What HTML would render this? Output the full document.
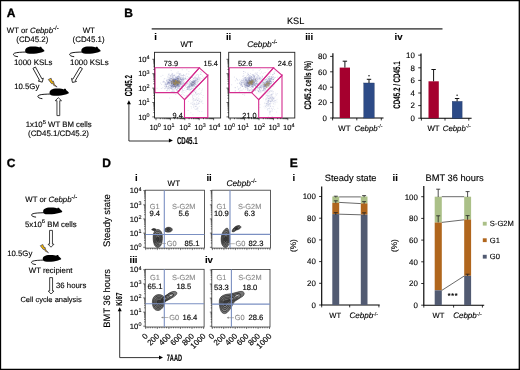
<!DOCTYPE html><html><head><meta charset="utf-8"><style>html,body{margin:0;padding:0;background:#fff;}svg{display:block;will-change:transform;text-rendering:geometricPrecision;font-family:"Liberation Sans",sans-serif;}text{stroke:#000;stroke-width:0.12px;}</style></head><body>
<svg width="520" height="370" viewBox="0 0 520 370">
<rect x="0" y="0" width="520" height="370" fill="#fff"/>
<text x="6.8" y="16.6" font-size="12.0" text-anchor="start" fill="#000" style="stroke:#000;stroke-width:0.35px" font-weight="bold" >A</text>
<text x="6.8" y="32.6" font-size="7.8">WT or <tspan font-style="italic">Cebpb</tspan><tspan dy="-2.9" font-size="6">-/-</tspan></text>
<text x="32.3" y="41.7" font-size="7.9" text-anchor="middle" fill="#000" style="stroke:#000;stroke-width:0.12px" >(CD45.2)</text>
<text x="88.8" y="32.6" font-size="7.8" text-anchor="middle" fill="#000" style="stroke:#000;stroke-width:0.12px" >WT</text>
<text x="88.6" y="41.7" font-size="7.9" text-anchor="middle" fill="#000" style="stroke:#000;stroke-width:0.12px" >(CD45.1)</text>
<g transform="translate(25,46.6) scale(1.000,1.000)"><path d="M0.2 4.6 C-0.2 1.8 2.5 0.1 7.5 0 C11 -0.1 13 0.3 14.3 0.9 L14.8 0.2 C15.8 -0.2 16.8 0.3 16.7 1.3 C17.8 2.2 19.4 3.3 19.5 4.4 C19 5.1 17.6 5.5 16.2 5.8 C13 6.9 9 7.2 4.5 7.1 C1.5 7 0.4 6.2 0.2 4.6 Z" fill="#000"/><path d="M1 5.4 C-3 5.6 -8 5.6 -10.5 6.6 C-12.6 7.6 -11.6 9.7 -7 10.1" fill="none" stroke="#000" stroke-width="0.9"/></g>
<g transform="translate(81.2,46.6) scale(1.000,1.000)"><path d="M0.2 4.6 C-0.2 1.8 2.5 0.1 7.5 0 C11 -0.1 13 0.3 14.3 0.9 L14.8 0.2 C15.8 -0.2 16.8 0.3 16.7 1.3 C17.8 2.2 19.4 3.3 19.5 4.4 C19 5.1 17.6 5.5 16.2 5.8 C13 6.9 9 7.2 4.5 7.1 C1.5 7 0.4 6.2 0.2 4.6 Z" fill="#000"/><path d="M1 5.4 C-3 5.6 -8 5.6 -10.5 6.6 C-12.6 7.6 -11.6 9.7 -7 10.1" fill="none" stroke="#000" stroke-width="0.9"/></g>
<text x="33.2" y="65.3" font-size="7.9" text-anchor="middle" fill="#000" style="stroke:#000;stroke-width:0.12px" >1000 KSLs</text>
<text x="89.4" y="64.6" font-size="7.9" text-anchor="middle" fill="#000" style="stroke:#000;stroke-width:0.12px" >1000 KSLs</text>
<path transform="translate(34.2,67.7) rotate(-28.89)" d="M-1.4 0 L1.4 0 L1.4 13.56 L2.9 13.56 L0 16.56 L-2.9 13.56 L-1.4 13.56 Z" fill="#fff" stroke="#222" stroke-width="0.85" stroke-linejoin="miter"/>
<path transform="translate(81.2,67.9) rotate(30.79)" d="M-1.4 0 L1.4 0 L1.4 14.00 L2.9 14.00 L0 17.00 L-2.9 14.00 L-1.4 14.00 Z" fill="#fff" stroke="#222" stroke-width="0.85" stroke-linejoin="miter"/>
<text x="14.2" y="89.2" font-size="7.8" text-anchor="start" fill="#000" style="stroke:#000;stroke-width:0.12px" >10.5Gy</text>
<g transform="translate(48.3,78.2) rotate(0) scale(1.08)"><path d="M0 1.2 L2.6 0 L3.6 3 L4.6 2.6 L5.6 5.6 L8.2 8.2 L4.9 6.6 L4.1 4.6 L3 5.1 Z" fill="#F4B800" stroke="#2a2a50" stroke-width="0.6" stroke-linejoin="round"/></g>
<g transform="translate(49.4,88.6) scale(1.000,1.000)"><path d="M0.2 4.6 C-0.2 1.8 2.5 0.1 7.5 0 C11 -0.1 13 0.3 14.3 0.9 L14.8 0.2 C15.8 -0.2 16.8 0.3 16.7 1.3 C17.8 2.2 19.4 3.3 19.5 4.4 C19 5.1 17.6 5.5 16.2 5.8 C13 6.9 9 7.2 4.5 7.1 C1.5 7 0.4 6.2 0.2 4.6 Z" fill="#000"/><path d="M1 5.4 C-3 5.6 -8 5.6 -10.5 6.6 C-12.6 7.6 -11.6 9.7 -7 10.1" fill="none" stroke="#000" stroke-width="0.9"/></g>
<path transform="translate(58.35,115.6) rotate(-180.00)" d="M-1.4 0 L1.4 0 L1.4 14.90 L3.15 14.90 L0 17.90 L-3.15 14.90 L-1.4 14.90 Z" fill="#fff" stroke="#222" stroke-width="0.85" stroke-linejoin="miter"/>
<text x="58.7" y="127.4" font-size="7.8" text-anchor="middle">1x10<tspan dy="-3.7" font-size="5.8">5</tspan><tspan dy="3.7"> WT BM cells</tspan></text>
<text x="58.5" y="135.6" font-size="7.9" text-anchor="middle" fill="#000" style="stroke:#000;stroke-width:0.12px" >(CD45.1/CD45.2)</text>
<text x="6.7" y="166.8" font-size="12.0" text-anchor="start" fill="#000" style="stroke:#000;stroke-width:0.35px" font-weight="bold" >C</text>
<text x="25.3" y="201.8" font-size="7.8">WT or <tspan font-style="italic">Cebpb</tspan><tspan dy="-2.9" font-size="6">-/-</tspan></text>
<g transform="translate(43,207.6) scale(0.990,0.944)"><path d="M0.2 4.6 C-0.2 1.8 2.5 0.1 7.5 0 C11 -0.1 13 0.3 14.3 0.9 L14.8 0.2 C15.8 -0.2 16.8 0.3 16.7 1.3 C17.8 2.2 19.4 3.3 19.5 4.4 C19 5.1 17.6 5.5 16.2 5.8 C13 6.9 9 7.2 4.5 7.1 C1.5 7 0.4 6.2 0.2 4.6 Z" fill="#000"/><path d="M1 5.4 C-3 5.6 -8 5.6 -10.5 6.6 C-12.6 7.6 -11.6 9.7 -7 10.1" fill="none" stroke="#000" stroke-width="0.9"/></g>
<text x="50.8" y="227.0" font-size="7.8" text-anchor="middle">5x10<tspan dy="-3.7" font-size="5.8">6</tspan><tspan dy="3.7"> BM cells</tspan></text>
<path transform="translate(51.0,230.4) rotate(0.00)" d="M-1.45 0 L1.45 0 L1.45 13.80 L3.0 13.80 L0 16.80 L-3.0 13.80 L-1.45 13.80 Z" fill="#fff" stroke="#222" stroke-width="0.85" stroke-linejoin="miter"/>
<text x="7.2" y="255.7" font-size="7.8" text-anchor="start" fill="#000" style="stroke:#000;stroke-width:0.12px" >10.5Gy</text>
<g transform="translate(40.3,244.5) rotate(0) scale(1.0)"><path d="M0 1.2 L2.6 0 L3.6 3 L4.6 2.6 L5.6 5.6 L8.2 8.2 L4.9 6.6 L4.1 4.6 L3 5.1 Z" fill="#F4B800" stroke="#2a2a50" stroke-width="0.6" stroke-linejoin="round"/></g>
<g transform="translate(42.6,254.9) scale(0.959,0.958)"><path d="M0.2 4.6 C-0.2 1.8 2.5 0.1 7.5 0 C11 -0.1 13 0.3 14.3 0.9 L14.8 0.2 C15.8 -0.2 16.8 0.3 16.7 1.3 C17.8 2.2 19.4 3.3 19.5 4.4 C19 5.1 17.6 5.5 16.2 5.8 C13 6.9 9 7.2 4.5 7.1 C1.5 7 0.4 6.2 0.2 4.6 Z" fill="#000"/><path d="M1 5.4 C-3 5.6 -8 5.6 -10.5 6.6 C-12.6 7.6 -11.6 9.7 -7 10.1" fill="none" stroke="#000" stroke-width="0.9"/></g>
<text x="50.6" y="272.5" font-size="7.8" text-anchor="middle" fill="#000" style="stroke:#000;stroke-width:0.12px" >WT recipient</text>
<path transform="translate(51.1,277.6) rotate(0.00)" d="M-1.45 0 L1.45 0 L1.45 13.40 L2.9 13.40 L0 16.40 L-2.9 13.40 L-1.45 13.40 Z" fill="#fff" stroke="#222" stroke-width="0.85" stroke-linejoin="miter"/>
<text x="56.0" y="287.5" font-size="7.8" text-anchor="start" fill="#000" style="stroke:#000;stroke-width:0.12px" >36 hours</text>
<text x="51.1" y="302.0" font-size="7.5" text-anchor="middle" fill="#000" style="stroke:#000;stroke-width:0.12px" >Cell cycle analysis</text>
<text x="124.3" y="16.8" font-size="12.0" text-anchor="start" fill="#000" style="stroke:#000;stroke-width:0.35px" font-weight="bold" >B</text>
<rect x="151.7" y="28.3" width="290.8" height="1.2" fill="#1a1a1a"/>
<text x="295.6" y="24.0" font-size="9.2" text-anchor="middle" fill="#000" style="stroke:#000;stroke-width:0.12px" >KSL</text>
<text x="154.3" y="40.0" font-size="9.6" text-anchor="start" fill="#000" style="stroke:#000;stroke-width:0.12px" font-weight="bold" >i</text>
<text x="225.9" y="40.0" font-size="9.6" text-anchor="start" fill="#000" style="stroke:#000;stroke-width:0.12px" font-weight="bold" >ii</text>
<text x="305.2" y="40.0" font-size="9.6" text-anchor="start" fill="#000" style="stroke:#000;stroke-width:0.12px" font-weight="bold" >iii</text>
<text x="394.6" y="40.0" font-size="9.6" text-anchor="start" fill="#000" style="stroke:#000;stroke-width:0.12px" font-weight="bold" >iv</text>
<text x="186.7" y="47.2" font-size="7.9" text-anchor="middle" fill="#000" style="stroke:#000;stroke-width:0.12px" >WT</text>
<text x="247.2" y="47.0" font-size="8.3" font-style="italic">Cebpb<tspan dy="-2.9" font-size="6" font-style="normal">-/-</tspan></text>
<rect x="154.5" y="52.3" width="66.1" height="65.7" fill="#fff" stroke="#222" stroke-width="0.9"/>
<g fill="#7078b0" fill-opacity="0.26"><circle cx="168.7" cy="85.6" r="0.5"/><circle cx="180.6" cy="78.7" r="0.5"/><circle cx="167.6" cy="84.0" r="0.5"/><circle cx="179.3" cy="85.7" r="0.5"/><circle cx="167.0" cy="79.1" r="0.5"/><circle cx="180.0" cy="82.9" r="0.5"/><circle cx="185.3" cy="83.6" r="0.5"/><circle cx="174.5" cy="81.3" r="0.5"/><circle cx="190.0" cy="77.1" r="0.5"/><circle cx="169.7" cy="79.0" r="0.5"/><circle cx="176.1" cy="82.6" r="0.5"/><circle cx="173.3" cy="82.5" r="0.5"/><circle cx="177.7" cy="84.5" r="0.5"/><circle cx="182.0" cy="81.3" r="0.5"/><circle cx="165.8" cy="87.7" r="0.5"/><circle cx="167.0" cy="83.7" r="0.5"/><circle cx="166.9" cy="84.5" r="0.5"/><circle cx="171.1" cy="84.2" r="0.5"/><circle cx="194.5" cy="76.9" r="0.5"/><circle cx="178.9" cy="75.8" r="0.5"/><circle cx="174.4" cy="85.2" r="0.5"/><circle cx="175.2" cy="83.8" r="0.5"/><circle cx="175.0" cy="78.2" r="0.5"/><circle cx="177.8" cy="78.2" r="0.5"/><circle cx="185.7" cy="77.3" r="0.5"/><circle cx="179.4" cy="81.1" r="0.5"/><circle cx="180.3" cy="78.4" r="0.5"/><circle cx="181.1" cy="80.2" r="0.5"/><circle cx="183.4" cy="82.6" r="0.5"/><circle cx="175.4" cy="79.0" r="0.5"/><circle cx="180.3" cy="82.8" r="0.5"/><circle cx="184.5" cy="78.2" r="0.5"/><circle cx="179.1" cy="83.3" r="0.5"/><circle cx="177.3" cy="82.6" r="0.5"/><circle cx="175.8" cy="79.6" r="0.5"/><circle cx="169.1" cy="82.2" r="0.5"/><circle cx="180.4" cy="87.1" r="0.5"/><circle cx="182.2" cy="84.8" r="0.5"/><circle cx="180.6" cy="83.7" r="0.5"/><circle cx="177.3" cy="84.9" r="0.5"/><circle cx="185.3" cy="78.2" r="0.5"/><circle cx="173.4" cy="90.9" r="0.5"/><circle cx="177.8" cy="85.6" r="0.5"/><circle cx="179.3" cy="76.5" r="0.5"/><circle cx="191.3" cy="85.3" r="0.5"/><circle cx="177.2" cy="84.8" r="0.5"/><circle cx="175.2" cy="78.6" r="0.5"/><circle cx="175.1" cy="83.8" r="0.5"/><circle cx="182.6" cy="83.2" r="0.5"/><circle cx="177.1" cy="87.3" r="0.5"/><circle cx="171.8" cy="86.4" r="0.5"/><circle cx="181.5" cy="79.3" r="0.5"/><circle cx="164.1" cy="81.5" r="0.5"/><circle cx="177.3" cy="83.9" r="0.5"/><circle cx="183.3" cy="75.9" r="0.5"/><circle cx="176.1" cy="84.7" r="0.5"/><circle cx="172.0" cy="73.3" r="0.5"/><circle cx="182.5" cy="89.9" r="0.5"/><circle cx="180.3" cy="77.1" r="0.5"/><circle cx="173.2" cy="83.7" r="0.5"/><circle cx="190.5" cy="80.7" r="0.5"/><circle cx="177.7" cy="88.0" r="0.5"/><circle cx="176.9" cy="89.5" r="0.5"/><circle cx="170.9" cy="81.4" r="0.5"/><circle cx="181.1" cy="86.6" r="0.5"/><circle cx="179.5" cy="82.3" r="0.5"/><circle cx="164.1" cy="82.3" r="0.5"/><circle cx="171.3" cy="81.1" r="0.5"/><circle cx="178.5" cy="80.0" r="0.5"/><circle cx="180.1" cy="81.3" r="0.5"/><circle cx="173.6" cy="83.2" r="0.5"/><circle cx="178.8" cy="84.8" r="0.5"/><circle cx="172.4" cy="82.0" r="0.5"/><circle cx="169.2" cy="90.5" r="0.5"/><circle cx="183.6" cy="79.3" r="0.5"/><circle cx="171.3" cy="78.2" r="0.5"/><circle cx="176.6" cy="82.7" r="0.5"/><circle cx="188.3" cy="79.8" r="0.5"/><circle cx="168.4" cy="74.0" r="0.5"/><circle cx="183.8" cy="80.7" r="0.5"/><circle cx="166.3" cy="85.4" r="0.5"/><circle cx="169.7" cy="98.1" r="0.5"/><circle cx="182.5" cy="82.7" r="0.5"/><circle cx="172.2" cy="74.2" r="0.5"/><circle cx="173.1" cy="76.4" r="0.5"/><circle cx="176.6" cy="73.0" r="0.5"/><circle cx="171.4" cy="88.3" r="0.5"/><circle cx="183.7" cy="75.1" r="0.5"/><circle cx="167.4" cy="88.0" r="0.5"/><circle cx="179.3" cy="77.1" r="0.5"/><circle cx="170.7" cy="80.6" r="0.5"/><circle cx="167.8" cy="81.4" r="0.5"/><circle cx="183.4" cy="82.9" r="0.5"/><circle cx="187.2" cy="78.7" r="0.5"/><circle cx="173.6" cy="78.6" r="0.5"/><circle cx="173.3" cy="77.3" r="0.5"/><circle cx="165.8" cy="87.7" r="0.5"/><circle cx="184.6" cy="83.2" r="0.5"/><circle cx="183.4" cy="81.1" r="0.5"/><circle cx="171.3" cy="83.6" r="0.5"/><circle cx="172.1" cy="78.5" r="0.5"/><circle cx="164.1" cy="79.1" r="0.5"/><circle cx="175.5" cy="82.8" r="0.5"/><circle cx="174.1" cy="88.5" r="0.5"/><circle cx="177.0" cy="84.2" r="0.5"/><circle cx="181.6" cy="77.1" r="0.5"/><circle cx="164.8" cy="88.2" r="0.5"/><circle cx="172.8" cy="88.3" r="0.5"/><circle cx="178.4" cy="85.6" r="0.5"/><circle cx="177.7" cy="73.0" r="0.5"/><circle cx="178.9" cy="78.5" r="0.5"/><circle cx="170.6" cy="81.7" r="0.5"/><circle cx="180.8" cy="84.4" r="0.5"/><circle cx="179.5" cy="74.2" r="0.5"/><circle cx="169.5" cy="73.9" r="0.5"/><circle cx="175.4" cy="84.7" r="0.5"/><circle cx="171.2" cy="84.3" r="0.5"/><circle cx="177.8" cy="85.7" r="0.5"/><circle cx="169.8" cy="80.3" r="0.5"/><circle cx="172.8" cy="90.2" r="0.5"/><circle cx="181.6" cy="80.0" r="0.5"/><circle cx="176.8" cy="82.3" r="0.5"/><circle cx="176.4" cy="81.1" r="0.5"/><circle cx="172.2" cy="77.9" r="0.5"/><circle cx="173.4" cy="89.6" r="0.5"/><circle cx="178.6" cy="81.6" r="0.5"/><circle cx="174.2" cy="82.8" r="0.5"/><circle cx="176.8" cy="79.2" r="0.5"/><circle cx="176.8" cy="82.8" r="0.5"/><circle cx="170.2" cy="80.3" r="0.5"/><circle cx="168.5" cy="79.6" r="0.5"/><circle cx="178.1" cy="71.7" r="0.5"/><circle cx="173.2" cy="80.3" r="0.5"/><circle cx="171.9" cy="83.5" r="0.5"/><circle cx="182.0" cy="80.7" r="0.5"/><circle cx="174.0" cy="80.1" r="0.5"/><circle cx="175.6" cy="85.9" r="0.5"/><circle cx="171.9" cy="78.4" r="0.5"/><circle cx="166.9" cy="79.9" r="0.5"/><circle cx="168.5" cy="88.6" r="0.5"/><circle cx="177.2" cy="80.7" r="0.5"/><circle cx="183.2" cy="77.4" r="0.5"/><circle cx="180.6" cy="84.1" r="0.5"/><circle cx="164.8" cy="78.6" r="0.5"/><circle cx="171.0" cy="87.1" r="0.5"/><circle cx="181.6" cy="75.4" r="0.5"/><circle cx="181.1" cy="79.1" r="0.5"/><circle cx="172.5" cy="80.7" r="0.5"/><circle cx="171.6" cy="75.7" r="0.5"/><circle cx="168.3" cy="79.0" r="0.5"/><circle cx="180.4" cy="89.5" r="0.5"/><circle cx="190.9" cy="76.7" r="0.5"/><circle cx="165.0" cy="83.3" r="0.5"/><circle cx="172.0" cy="91.3" r="0.5"/><circle cx="178.0" cy="78.5" r="0.5"/><circle cx="181.4" cy="82.8" r="0.5"/><circle cx="165.4" cy="82.7" r="0.5"/><circle cx="174.0" cy="82.6" r="0.5"/><circle cx="175.8" cy="80.7" r="0.5"/><circle cx="175.9" cy="79.6" r="0.5"/><circle cx="171.8" cy="89.4" r="0.5"/><circle cx="177.9" cy="83.3" r="0.5"/><circle cx="166.0" cy="84.0" r="0.5"/><circle cx="178.8" cy="75.9" r="0.5"/><circle cx="181.4" cy="79.0" r="0.5"/><circle cx="177.6" cy="81.1" r="0.5"/><circle cx="177.9" cy="86.5" r="0.5"/><circle cx="174.7" cy="88.9" r="0.5"/><circle cx="169.9" cy="79.8" r="0.5"/><circle cx="178.4" cy="77.0" r="0.5"/><circle cx="174.2" cy="86.3" r="0.5"/><circle cx="180.6" cy="73.5" r="0.5"/><circle cx="180.3" cy="88.7" r="0.5"/><circle cx="182.1" cy="79.4" r="0.5"/><circle cx="171.6" cy="82.0" r="0.5"/><circle cx="168.4" cy="83.0" r="0.5"/><circle cx="174.2" cy="81.9" r="0.5"/><circle cx="182.0" cy="79.5" r="0.5"/><circle cx="168.0" cy="88.5" r="0.5"/><circle cx="168.7" cy="82.1" r="0.5"/><circle cx="174.3" cy="81.1" r="0.5"/><circle cx="169.3" cy="82.8" r="0.5"/><circle cx="187.4" cy="76.5" r="0.5"/><circle cx="175.8" cy="86.8" r="0.5"/><circle cx="180.5" cy="84.0" r="0.5"/><circle cx="178.4" cy="73.3" r="0.5"/><circle cx="170.5" cy="84.0" r="0.5"/><circle cx="179.6" cy="86.4" r="0.5"/><circle cx="177.9" cy="80.6" r="0.5"/><circle cx="175.4" cy="81.3" r="0.5"/><circle cx="177.5" cy="84.4" r="0.5"/><circle cx="172.6" cy="79.6" r="0.5"/><circle cx="171.6" cy="87.8" r="0.5"/><circle cx="183.9" cy="84.0" r="0.5"/><circle cx="181.2" cy="84.1" r="0.5"/><circle cx="176.1" cy="84.8" r="0.5"/><circle cx="169.1" cy="83.0" r="0.5"/><circle cx="171.9" cy="86.1" r="0.5"/><circle cx="171.9" cy="82.7" r="0.5"/><circle cx="179.1" cy="86.8" r="0.5"/><circle cx="169.8" cy="79.8" r="0.5"/><circle cx="179.0" cy="76.7" r="0.5"/><circle cx="177.4" cy="79.3" r="0.5"/><circle cx="172.9" cy="75.3" r="0.5"/><circle cx="179.0" cy="79.2" r="0.5"/><circle cx="172.3" cy="91.6" r="0.5"/><circle cx="183.2" cy="94.7" r="0.5"/><circle cx="177.4" cy="80.2" r="0.5"/><circle cx="177.7" cy="88.2" r="0.5"/><circle cx="175.7" cy="84.0" r="0.5"/><circle cx="177.5" cy="77.9" r="0.5"/><circle cx="175.6" cy="80.1" r="0.5"/><circle cx="169.1" cy="87.5" r="0.5"/><circle cx="179.3" cy="81.5" r="0.5"/><circle cx="168.1" cy="75.9" r="0.5"/><circle cx="178.1" cy="81.1" r="0.5"/><circle cx="165.6" cy="84.6" r="0.5"/><circle cx="166.6" cy="84.5" r="0.5"/><circle cx="176.6" cy="83.3" r="0.5"/><circle cx="176.8" cy="82.5" r="0.5"/><circle cx="168.4" cy="82.5" r="0.5"/><circle cx="172.2" cy="82.1" r="0.5"/><circle cx="177.6" cy="84.2" r="0.5"/><circle cx="182.2" cy="69.7" r="0.5"/><circle cx="177.5" cy="80.8" r="0.5"/><circle cx="189.6" cy="82.3" r="0.5"/><circle cx="166.2" cy="86.3" r="0.5"/><circle cx="173.4" cy="86.8" r="0.5"/><circle cx="169.2" cy="83.4" r="0.5"/><circle cx="174.5" cy="82.0" r="0.5"/><circle cx="170.1" cy="76.0" r="0.5"/><circle cx="179.1" cy="85.3" r="0.5"/><circle cx="174.0" cy="78.4" r="0.5"/><circle cx="177.2" cy="84.1" r="0.5"/><circle cx="174.4" cy="82.4" r="0.5"/><circle cx="182.4" cy="75.7" r="0.5"/><circle cx="170.2" cy="75.7" r="0.5"/><circle cx="170.6" cy="80.4" r="0.5"/><circle cx="169.1" cy="81.0" r="0.5"/><circle cx="185.6" cy="78.7" r="0.5"/><circle cx="177.0" cy="90.9" r="0.5"/><circle cx="173.3" cy="75.6" r="0.5"/><circle cx="176.8" cy="78.0" r="0.5"/><circle cx="183.6" cy="74.8" r="0.5"/><circle cx="170.4" cy="76.9" r="0.5"/><circle cx="174.9" cy="78.1" r="0.5"/><circle cx="174.6" cy="80.8" r="0.5"/><circle cx="172.8" cy="86.8" r="0.5"/><circle cx="180.9" cy="81.0" r="0.5"/><circle cx="169.1" cy="79.5" r="0.5"/><circle cx="179.4" cy="91.0" r="0.5"/><circle cx="171.9" cy="79.9" r="0.5"/><circle cx="170.2" cy="79.1" r="0.5"/><circle cx="169.6" cy="82.9" r="0.5"/><circle cx="183.7" cy="80.0" r="0.5"/><circle cx="170.8" cy="76.8" r="0.5"/><circle cx="176.6" cy="81.8" r="0.5"/><circle cx="167.2" cy="79.9" r="0.5"/><circle cx="176.2" cy="86.2" r="0.5"/><circle cx="179.2" cy="82.0" r="0.5"/><circle cx="173.9" cy="83.9" r="0.5"/><circle cx="177.6" cy="90.6" r="0.5"/><circle cx="168.5" cy="82.5" r="0.5"/><circle cx="182.5" cy="79.2" r="0.5"/><circle cx="183.6" cy="79.8" r="0.5"/><circle cx="175.9" cy="80.5" r="0.5"/><circle cx="166.4" cy="80.6" r="0.5"/><circle cx="188.9" cy="81.3" r="0.5"/><circle cx="179.9" cy="84.9" r="0.5"/><circle cx="179.8" cy="85.3" r="0.5"/><circle cx="173.6" cy="81.8" r="0.5"/><circle cx="180.7" cy="79.3" r="0.5"/><circle cx="167.5" cy="83.4" r="0.5"/><circle cx="172.9" cy="85.4" r="0.5"/><circle cx="170.1" cy="79.2" r="0.5"/><circle cx="175.1" cy="88.7" r="0.5"/><circle cx="175.3" cy="82.9" r="0.5"/><circle cx="175.8" cy="83.3" r="0.5"/><circle cx="182.2" cy="86.2" r="0.5"/><circle cx="167.3" cy="90.0" r="0.5"/><circle cx="175.0" cy="81.0" r="0.5"/><circle cx="189.1" cy="77.8" r="0.5"/><circle cx="187.7" cy="82.9" r="0.5"/><circle cx="169.9" cy="85.7" r="0.5"/><circle cx="179.5" cy="80.6" r="0.5"/><circle cx="161.6" cy="84.5" r="0.5"/><circle cx="173.1" cy="78.2" r="0.5"/><circle cx="185.7" cy="78.4" r="0.5"/><circle cx="172.8" cy="81.7" r="0.5"/><circle cx="170.1" cy="80.4" r="0.5"/><circle cx="176.3" cy="83.3" r="0.5"/><circle cx="172.4" cy="82.6" r="0.5"/><circle cx="167.9" cy="86.4" r="0.5"/><circle cx="171.3" cy="84.2" r="0.5"/><circle cx="169.6" cy="81.6" r="0.5"/><circle cx="175.4" cy="77.2" r="0.5"/><circle cx="189.7" cy="78.2" r="0.5"/><circle cx="174.2" cy="79.5" r="0.5"/><circle cx="186.1" cy="85.1" r="0.5"/><circle cx="175.7" cy="76.4" r="0.5"/><circle cx="173.1" cy="85.4" r="0.5"/><circle cx="171.2" cy="78.4" r="0.5"/><circle cx="167.7" cy="81.1" r="0.5"/><circle cx="174.8" cy="79.7" r="0.5"/><circle cx="178.4" cy="93.0" r="0.5"/><circle cx="184.6" cy="75.4" r="0.5"/><circle cx="177.5" cy="82.0" r="0.5"/><circle cx="175.7" cy="86.4" r="0.5"/><circle cx="173.1" cy="81.5" r="0.5"/><circle cx="173.1" cy="82.4" r="0.5"/><circle cx="183.7" cy="83.2" r="0.5"/><circle cx="167.2" cy="82.6" r="0.5"/><circle cx="171.6" cy="86.6" r="0.5"/><circle cx="177.6" cy="85.3" r="0.5"/><circle cx="173.1" cy="74.9" r="0.5"/><circle cx="178.2" cy="82.4" r="0.5"/><circle cx="177.0" cy="76.4" r="0.5"/><circle cx="175.2" cy="79.4" r="0.5"/><circle cx="171.8" cy="84.6" r="0.5"/><circle cx="176.5" cy="78.2" r="0.5"/><circle cx="162.9" cy="75.3" r="0.5"/><circle cx="173.2" cy="87.4" r="0.5"/><circle cx="172.7" cy="73.6" r="0.5"/><circle cx="170.8" cy="85.2" r="0.5"/><circle cx="186.3" cy="84.1" r="0.5"/><circle cx="177.7" cy="82.4" r="0.5"/><circle cx="168.8" cy="82.1" r="0.5"/><circle cx="172.7" cy="79.7" r="0.5"/><circle cx="175.4" cy="80.6" r="0.5"/><circle cx="178.8" cy="87.2" r="0.5"/><circle cx="180.1" cy="82.7" r="0.5"/><circle cx="172.4" cy="76.7" r="0.5"/><circle cx="175.3" cy="84.5" r="0.5"/><circle cx="170.9" cy="88.6" r="0.5"/><circle cx="173.9" cy="84.2" r="0.5"/><circle cx="172.2" cy="77.9" r="0.5"/><circle cx="186.2" cy="74.5" r="0.5"/><circle cx="180.1" cy="78.6" r="0.5"/><circle cx="176.2" cy="78.7" r="0.5"/><circle cx="173.9" cy="86.4" r="0.5"/><circle cx="185.8" cy="75.9" r="0.5"/><circle cx="176.4" cy="85.8" r="0.5"/><circle cx="172.5" cy="85.9" r="0.5"/><circle cx="171.5" cy="85.8" r="0.5"/><circle cx="179.2" cy="86.2" r="0.5"/><circle cx="176.3" cy="77.0" r="0.5"/><circle cx="178.1" cy="76.9" r="0.5"/><circle cx="181.3" cy="86.9" r="0.5"/><circle cx="178.3" cy="79.1" r="0.5"/><circle cx="182.5" cy="81.0" r="0.5"/><circle cx="167.8" cy="82.8" r="0.5"/><circle cx="183.3" cy="78.8" r="0.5"/><circle cx="175.8" cy="80.7" r="0.5"/><circle cx="165.1" cy="82.8" r="0.5"/><circle cx="177.7" cy="82.4" r="0.5"/><circle cx="172.2" cy="74.2" r="0.5"/><circle cx="183.2" cy="83.1" r="0.5"/><circle cx="182.7" cy="85.6" r="0.5"/><circle cx="172.2" cy="80.6" r="0.5"/><circle cx="179.0" cy="88.2" r="0.5"/><circle cx="165.4" cy="83.9" r="0.5"/><circle cx="171.8" cy="85.5" r="0.5"/><circle cx="183.6" cy="78.8" r="0.5"/><circle cx="168.3" cy="84.3" r="0.5"/><circle cx="172.2" cy="76.7" r="0.5"/><circle cx="180.0" cy="78.8" r="0.5"/><circle cx="178.0" cy="76.1" r="0.5"/><circle cx="180.3" cy="74.9" r="0.5"/><circle cx="179.6" cy="73.6" r="0.5"/><circle cx="183.0" cy="78.6" r="0.5"/><circle cx="166.1" cy="83.7" r="0.5"/><circle cx="176.3" cy="77.8" r="0.5"/><circle cx="172.8" cy="84.0" r="0.5"/><circle cx="171.2" cy="70.6" r="0.5"/><circle cx="173.4" cy="84.5" r="0.5"/><circle cx="178.2" cy="85.6" r="0.5"/><circle cx="174.0" cy="93.1" r="0.5"/><circle cx="180.4" cy="82.2" r="0.5"/><circle cx="182.7" cy="84.2" r="0.5"/><circle cx="175.3" cy="79.6" r="0.5"/><circle cx="181.8" cy="82.2" r="0.5"/><circle cx="163.3" cy="80.9" r="0.5"/><circle cx="178.2" cy="81.9" r="0.5"/><circle cx="177.7" cy="84.2" r="0.5"/><circle cx="177.9" cy="88.1" r="0.5"/><circle cx="171.6" cy="81.6" r="0.5"/><circle cx="178.0" cy="84.6" r="0.5"/><circle cx="181.5" cy="86.7" r="0.5"/><circle cx="173.8" cy="87.4" r="0.5"/><circle cx="177.0" cy="77.4" r="0.5"/><circle cx="176.8" cy="90.5" r="0.5"/><circle cx="179.5" cy="79.2" r="0.5"/><circle cx="160.7" cy="83.1" r="0.5"/><circle cx="171.4" cy="83.6" r="0.5"/><circle cx="189.6" cy="81.5" r="0.5"/><circle cx="176.2" cy="78.1" r="0.5"/><circle cx="168.3" cy="83.2" r="0.5"/><circle cx="175.8" cy="94.5" r="0.5"/><circle cx="172.4" cy="80.4" r="0.5"/><circle cx="182.0" cy="80.7" r="0.5"/><circle cx="169.6" cy="89.1" r="0.5"/><circle cx="172.2" cy="77.6" r="0.5"/><circle cx="177.8" cy="83.6" r="0.5"/><circle cx="174.2" cy="85.4" r="0.5"/><circle cx="179.2" cy="77.5" r="0.5"/><circle cx="161.0" cy="76.2" r="0.5"/><circle cx="175.9" cy="87.2" r="0.5"/><circle cx="182.7" cy="86.0" r="0.5"/><circle cx="186.2" cy="79.4" r="0.5"/><circle cx="179.9" cy="74.7" r="0.5"/><circle cx="179.8" cy="82.6" r="0.5"/><circle cx="174.4" cy="80.6" r="0.5"/><circle cx="169.1" cy="84.5" r="0.5"/><circle cx="182.4" cy="78.8" r="0.5"/><circle cx="177.8" cy="78.8" r="0.5"/><circle cx="175.8" cy="77.9" r="0.5"/><circle cx="177.4" cy="80.8" r="0.5"/><circle cx="176.6" cy="79.4" r="0.5"/><circle cx="168.2" cy="82.8" r="0.5"/><circle cx="183.0" cy="86.7" r="0.5"/><circle cx="174.3" cy="85.8" r="0.5"/><circle cx="180.2" cy="82.5" r="0.5"/><circle cx="166.7" cy="85.9" r="0.5"/><circle cx="171.0" cy="88.3" r="0.5"/><circle cx="180.6" cy="83.4" r="0.5"/><circle cx="161.3" cy="88.5" r="0.5"/><circle cx="178.1" cy="76.2" r="0.5"/><circle cx="181.1" cy="81.0" r="0.5"/><circle cx="173.6" cy="79.7" r="0.5"/><circle cx="169.0" cy="82.1" r="0.5"/><circle cx="193.5" cy="78.2" r="0.5"/><circle cx="175.9" cy="79.4" r="0.5"/><circle cx="171.2" cy="81.0" r="0.5"/><circle cx="171.2" cy="87.0" r="0.5"/><circle cx="174.7" cy="86.0" r="0.5"/><circle cx="169.7" cy="87.6" r="0.5"/><circle cx="175.9" cy="84.8" r="0.5"/><circle cx="173.9" cy="78.9" r="0.5"/><circle cx="182.0" cy="78.6" r="0.5"/><circle cx="173.6" cy="79.0" r="0.5"/><circle cx="176.2" cy="80.4" r="0.5"/><circle cx="177.4" cy="83.1" r="0.5"/><circle cx="169.9" cy="77.8" r="0.5"/><circle cx="178.9" cy="85.1" r="0.5"/><circle cx="178.2" cy="76.7" r="0.5"/><circle cx="179.3" cy="82.7" r="0.5"/><circle cx="177.5" cy="83.4" r="0.5"/><circle cx="173.7" cy="83.5" r="0.5"/><circle cx="180.2" cy="78.8" r="0.5"/><circle cx="166.9" cy="84.0" r="0.5"/><circle cx="174.6" cy="74.8" r="0.5"/><circle cx="172.1" cy="85.5" r="0.5"/><circle cx="174.6" cy="82.8" r="0.5"/><circle cx="169.0" cy="87.7" r="0.5"/><circle cx="185.4" cy="78.7" r="0.5"/><circle cx="170.0" cy="78.9" r="0.5"/><circle cx="180.7" cy="81.2" r="0.5"/><circle cx="172.1" cy="88.1" r="0.5"/><circle cx="180.5" cy="83.3" r="0.5"/><circle cx="165.1" cy="84.5" r="0.5"/><circle cx="177.8" cy="76.5" r="0.5"/><circle cx="182.3" cy="86.3" r="0.5"/><circle cx="180.6" cy="77.8" r="0.5"/><circle cx="172.3" cy="86.9" r="0.5"/><circle cx="182.4" cy="85.4" r="0.5"/><circle cx="182.3" cy="79.9" r="0.5"/><circle cx="171.1" cy="75.7" r="0.5"/><circle cx="182.3" cy="89.8" r="0.5"/><circle cx="172.2" cy="81.1" r="0.5"/><circle cx="179.5" cy="82.6" r="0.5"/><circle cx="166.7" cy="81.6" r="0.5"/><circle cx="171.1" cy="91.7" r="0.5"/><circle cx="172.1" cy="86.6" r="0.5"/><circle cx="188.5" cy="86.5" r="0.5"/><circle cx="185.3" cy="86.3" r="0.5"/><circle cx="167.9" cy="82.8" r="0.5"/><circle cx="170.9" cy="82.2" r="0.5"/><circle cx="188.9" cy="71.6" r="0.5"/><circle cx="177.4" cy="76.6" r="0.5"/><circle cx="184.5" cy="85.1" r="0.5"/><circle cx="174.6" cy="91.0" r="0.5"/><circle cx="177.2" cy="87.1" r="0.5"/><circle cx="176.6" cy="79.6" r="0.5"/><circle cx="173.1" cy="82.3" r="0.5"/><circle cx="179.1" cy="81.7" r="0.5"/><circle cx="188.9" cy="77.8" r="0.5"/><circle cx="171.9" cy="80.1" r="0.5"/><circle cx="169.4" cy="77.8" r="0.5"/><circle cx="170.6" cy="87.2" r="0.5"/><circle cx="175.6" cy="81.4" r="0.5"/><circle cx="178.5" cy="85.8" r="0.5"/><circle cx="179.8" cy="84.2" r="0.5"/><circle cx="171.9" cy="82.1" r="0.5"/><circle cx="170.8" cy="83.0" r="0.5"/><circle cx="170.3" cy="82.0" r="0.5"/><circle cx="174.2" cy="81.6" r="0.5"/><circle cx="173.3" cy="80.7" r="0.5"/><circle cx="182.6" cy="78.8" r="0.5"/><circle cx="169.7" cy="84.5" r="0.5"/><circle cx="168.0" cy="79.7" r="0.5"/><circle cx="174.2" cy="75.6" r="0.5"/><circle cx="157.0" cy="88.3" r="0.5"/><circle cx="179.7" cy="74.1" r="0.5"/><circle cx="170.8" cy="85.8" r="0.5"/><circle cx="163.0" cy="81.9" r="0.5"/><circle cx="168.2" cy="83.3" r="0.5"/><circle cx="164.9" cy="88.7" r="0.5"/><circle cx="174.9" cy="83.6" r="0.5"/><circle cx="171.3" cy="74.5" r="0.5"/><circle cx="173.1" cy="77.3" r="0.5"/><circle cx="174.6" cy="78.9" r="0.5"/><circle cx="173.3" cy="81.9" r="0.5"/><circle cx="180.7" cy="84.0" r="0.5"/><circle cx="169.6" cy="83.7" r="0.5"/><circle cx="184.4" cy="81.8" r="0.5"/><circle cx="171.0" cy="82.9" r="0.5"/><circle cx="174.4" cy="86.4" r="0.5"/><circle cx="176.0" cy="83.6" r="0.5"/><circle cx="186.8" cy="73.4" r="0.5"/><circle cx="167.7" cy="77.1" r="0.5"/><circle cx="167.1" cy="88.0" r="0.5"/><circle cx="178.8" cy="88.0" r="0.5"/><circle cx="163.0" cy="81.9" r="0.5"/><circle cx="184.8" cy="83.9" r="0.5"/><circle cx="181.4" cy="84.2" r="0.5"/><circle cx="175.6" cy="82.1" r="0.5"/><circle cx="176.5" cy="85.4" r="0.5"/><circle cx="174.8" cy="83.7" r="0.5"/><circle cx="182.7" cy="75.6" r="0.5"/><circle cx="171.6" cy="85.5" r="0.5"/><circle cx="173.7" cy="82.0" r="0.5"/><circle cx="188.0" cy="80.5" r="0.5"/><circle cx="174.1" cy="87.1" r="0.5"/><circle cx="188.8" cy="74.0" r="0.5"/><circle cx="171.6" cy="83.7" r="0.5"/><circle cx="174.0" cy="91.6" r="0.5"/><circle cx="178.0" cy="79.8" r="0.5"/><circle cx="177.4" cy="78.4" r="0.5"/><circle cx="172.0" cy="83.5" r="0.5"/><circle cx="186.9" cy="69.8" r="0.5"/><circle cx="179.2" cy="86.8" r="0.5"/><circle cx="181.7" cy="88.5" r="0.5"/><circle cx="178.2" cy="82.1" r="0.5"/><circle cx="173.8" cy="79.1" r="0.5"/><circle cx="183.7" cy="75.1" r="0.5"/><circle cx="174.1" cy="80.4" r="0.5"/><circle cx="168.5" cy="74.8" r="0.5"/><circle cx="173.3" cy="83.3" r="0.5"/><circle cx="177.1" cy="85.2" r="0.5"/><circle cx="173.8" cy="80.0" r="0.5"/><circle cx="177.9" cy="84.3" r="0.5"/><circle cx="168.6" cy="77.7" r="0.5"/><circle cx="170.6" cy="87.9" r="0.5"/><circle cx="180.3" cy="77.2" r="0.5"/><circle cx="176.9" cy="85.3" r="0.5"/><circle cx="182.4" cy="77.6" r="0.5"/><circle cx="175.5" cy="88.0" r="0.5"/><circle cx="191.0" cy="84.4" r="0.5"/><circle cx="169.3" cy="85.7" r="0.5"/><circle cx="173.6" cy="82.4" r="0.5"/><circle cx="171.1" cy="81.4" r="0.5"/><circle cx="177.2" cy="89.2" r="0.5"/><circle cx="179.9" cy="82.8" r="0.5"/><circle cx="174.8" cy="79.3" r="0.5"/><circle cx="175.4" cy="87.3" r="0.5"/><circle cx="182.2" cy="88.5" r="0.5"/><circle cx="176.9" cy="81.7" r="0.5"/><circle cx="166.4" cy="86.3" r="0.5"/><circle cx="167.0" cy="90.8" r="0.5"/><circle cx="171.8" cy="83.2" r="0.5"/><circle cx="167.1" cy="82.4" r="0.5"/><circle cx="171.2" cy="88.0" r="0.5"/><circle cx="175.6" cy="77.3" r="0.5"/><circle cx="164.1" cy="84.9" r="0.5"/><circle cx="171.4" cy="78.7" r="0.5"/><circle cx="178.6" cy="80.6" r="0.5"/><circle cx="175.4" cy="79.7" r="0.5"/><circle cx="171.6" cy="81.3" r="0.5"/><circle cx="166.8" cy="87.1" r="0.5"/><circle cx="176.0" cy="74.9" r="0.5"/><circle cx="177.2" cy="86.5" r="0.5"/><circle cx="178.1" cy="86.8" r="0.5"/><circle cx="173.8" cy="82.6" r="0.5"/><circle cx="166.9" cy="80.7" r="0.5"/><circle cx="163.9" cy="81.6" r="0.5"/><circle cx="177.4" cy="83.8" r="0.5"/><circle cx="182.3" cy="80.9" r="0.5"/><circle cx="170.1" cy="85.4" r="0.5"/><circle cx="176.4" cy="89.3" r="0.5"/><circle cx="187.7" cy="82.9" r="0.5"/><circle cx="168.3" cy="81.9" r="0.5"/><circle cx="175.8" cy="79.2" r="0.5"/><circle cx="179.1" cy="84.0" r="0.5"/><circle cx="180.5" cy="81.8" r="0.5"/><circle cx="169.4" cy="80.3" r="0.5"/><circle cx="176.1" cy="87.5" r="0.5"/><circle cx="185.5" cy="83.5" r="0.5"/><circle cx="178.2" cy="84.2" r="0.5"/><circle cx="181.5" cy="85.9" r="0.5"/><circle cx="178.8" cy="74.9" r="0.5"/><circle cx="181.3" cy="82.2" r="0.5"/><circle cx="173.3" cy="84.9" r="0.5"/><circle cx="177.0" cy="81.5" r="0.5"/><circle cx="165.7" cy="85.3" r="0.5"/><circle cx="178.6" cy="81.1" r="0.5"/><circle cx="166.7" cy="86.4" r="0.5"/><circle cx="179.8" cy="81.8" r="0.5"/><circle cx="177.5" cy="80.2" r="0.5"/><circle cx="172.1" cy="85.2" r="0.5"/><circle cx="173.5" cy="83.5" r="0.5"/><circle cx="195.0" cy="79.9" r="0.5"/><circle cx="174.5" cy="75.7" r="0.5"/><circle cx="176.7" cy="85.0" r="0.5"/><circle cx="171.1" cy="82.4" r="0.5"/><circle cx="162.9" cy="87.8" r="0.5"/><circle cx="172.7" cy="85.8" r="0.5"/><circle cx="183.1" cy="79.5" r="0.5"/><circle cx="181.4" cy="81.6" r="0.5"/><circle cx="173.9" cy="81.4" r="0.5"/><circle cx="171.8" cy="88.5" r="0.5"/><circle cx="179.5" cy="76.9" r="0.5"/><circle cx="179.5" cy="78.1" r="0.5"/><circle cx="167.9" cy="89.2" r="0.5"/><circle cx="169.2" cy="88.8" r="0.5"/><circle cx="177.5" cy="85.4" r="0.5"/><circle cx="179.6" cy="85.9" r="0.5"/><circle cx="178.0" cy="83.9" r="0.5"/><circle cx="178.0" cy="86.0" r="0.5"/><circle cx="174.2" cy="86.7" r="0.5"/><circle cx="184.1" cy="79.6" r="0.5"/><circle cx="177.4" cy="79.5" r="0.5"/><circle cx="174.0" cy="83.7" r="0.5"/><circle cx="172.5" cy="79.3" r="0.5"/><circle cx="175.4" cy="83.0" r="0.5"/><circle cx="178.0" cy="84.4" r="0.5"/><circle cx="166.6" cy="90.4" r="0.5"/><circle cx="173.6" cy="79.5" r="0.5"/><circle cx="173.7" cy="84.5" r="0.5"/><circle cx="180.1" cy="79.4" r="0.5"/><circle cx="174.7" cy="75.8" r="0.5"/><circle cx="176.3" cy="81.5" r="0.5"/><circle cx="173.8" cy="86.3" r="0.5"/><circle cx="186.9" cy="83.4" r="0.5"/><circle cx="172.5" cy="89.3" r="0.5"/><circle cx="173.4" cy="82.6" r="0.5"/><circle cx="172.5" cy="84.9" r="0.5"/><circle cx="178.8" cy="81.9" r="0.5"/><circle cx="174.0" cy="82.0" r="0.5"/><circle cx="174.1" cy="86.6" r="0.5"/><circle cx="172.2" cy="82.4" r="0.5"/></g>
<g fill="#5c6494" fill-opacity="0.28"><circle cx="174.4" cy="80.8" r="0.5"/><circle cx="173.9" cy="79.2" r="0.5"/><circle cx="177.3" cy="83.3" r="0.5"/><circle cx="175.6" cy="86.3" r="0.5"/><circle cx="173.3" cy="84.4" r="0.5"/><circle cx="176.8" cy="80.7" r="0.5"/><circle cx="175.4" cy="84.7" r="0.5"/><circle cx="176.0" cy="83.0" r="0.5"/><circle cx="180.3" cy="81.7" r="0.5"/><circle cx="169.7" cy="82.2" r="0.5"/><circle cx="178.3" cy="81.4" r="0.5"/><circle cx="170.8" cy="78.8" r="0.5"/><circle cx="177.6" cy="85.6" r="0.5"/><circle cx="170.2" cy="78.5" r="0.5"/><circle cx="176.9" cy="80.7" r="0.5"/><circle cx="174.4" cy="81.9" r="0.5"/><circle cx="172.9" cy="84.2" r="0.5"/><circle cx="178.8" cy="82.4" r="0.5"/><circle cx="174.4" cy="85.3" r="0.5"/><circle cx="175.6" cy="83.8" r="0.5"/><circle cx="173.0" cy="84.7" r="0.5"/><circle cx="178.8" cy="84.7" r="0.5"/><circle cx="176.0" cy="83.4" r="0.5"/><circle cx="174.3" cy="84.9" r="0.5"/><circle cx="178.8" cy="84.2" r="0.5"/><circle cx="173.6" cy="79.9" r="0.5"/><circle cx="175.3" cy="82.0" r="0.5"/><circle cx="173.5" cy="84.4" r="0.5"/><circle cx="178.9" cy="82.5" r="0.5"/><circle cx="179.5" cy="82.3" r="0.5"/><circle cx="172.1" cy="81.9" r="0.5"/><circle cx="174.9" cy="84.3" r="0.5"/><circle cx="178.7" cy="81.9" r="0.5"/><circle cx="178.4" cy="79.6" r="0.5"/><circle cx="176.2" cy="85.9" r="0.5"/><circle cx="177.7" cy="84.4" r="0.5"/><circle cx="168.5" cy="80.2" r="0.5"/><circle cx="173.4" cy="85.5" r="0.5"/><circle cx="180.5" cy="79.6" r="0.5"/><circle cx="171.8" cy="80.9" r="0.5"/><circle cx="173.1" cy="84.4" r="0.5"/><circle cx="175.7" cy="87.0" r="0.5"/><circle cx="177.5" cy="80.2" r="0.5"/><circle cx="176.3" cy="81.8" r="0.5"/><circle cx="178.7" cy="83.8" r="0.5"/><circle cx="175.0" cy="84.7" r="0.5"/><circle cx="177.4" cy="81.7" r="0.5"/><circle cx="176.9" cy="83.7" r="0.5"/><circle cx="174.2" cy="81.1" r="0.5"/><circle cx="179.7" cy="81.3" r="0.5"/><circle cx="174.0" cy="84.0" r="0.5"/><circle cx="170.9" cy="83.8" r="0.5"/><circle cx="171.0" cy="82.6" r="0.5"/><circle cx="169.4" cy="82.3" r="0.5"/><circle cx="178.4" cy="81.2" r="0.5"/><circle cx="172.8" cy="87.4" r="0.5"/><circle cx="174.5" cy="86.3" r="0.5"/><circle cx="173.0" cy="79.5" r="0.5"/><circle cx="181.3" cy="79.8" r="0.5"/><circle cx="178.8" cy="84.5" r="0.5"/><circle cx="171.4" cy="83.7" r="0.5"/><circle cx="174.1" cy="84.3" r="0.5"/><circle cx="174.8" cy="79.5" r="0.5"/><circle cx="176.3" cy="84.1" r="0.5"/><circle cx="175.0" cy="83.9" r="0.5"/><circle cx="173.9" cy="82.8" r="0.5"/><circle cx="176.8" cy="82.4" r="0.5"/><circle cx="180.3" cy="83.5" r="0.5"/><circle cx="178.8" cy="83.3" r="0.5"/><circle cx="175.4" cy="79.6" r="0.5"/><circle cx="180.1" cy="85.4" r="0.5"/><circle cx="176.2" cy="81.6" r="0.5"/><circle cx="176.2" cy="85.2" r="0.5"/><circle cx="175.9" cy="79.9" r="0.5"/><circle cx="174.6" cy="80.8" r="0.5"/><circle cx="174.4" cy="80.6" r="0.5"/><circle cx="173.7" cy="86.5" r="0.5"/><circle cx="178.0" cy="77.9" r="0.5"/><circle cx="172.2" cy="82.2" r="0.5"/><circle cx="173.5" cy="79.6" r="0.5"/><circle cx="177.5" cy="78.0" r="0.5"/><circle cx="178.3" cy="83.4" r="0.5"/><circle cx="174.1" cy="81.2" r="0.5"/><circle cx="175.9" cy="82.7" r="0.5"/><circle cx="168.1" cy="81.4" r="0.5"/><circle cx="177.3" cy="81.7" r="0.5"/><circle cx="173.7" cy="80.5" r="0.5"/><circle cx="172.9" cy="81.3" r="0.5"/><circle cx="183.8" cy="77.2" r="0.5"/><circle cx="180.8" cy="82.2" r="0.5"/><circle cx="176.4" cy="82.7" r="0.5"/><circle cx="175.4" cy="86.4" r="0.5"/><circle cx="177.2" cy="81.9" r="0.5"/><circle cx="175.4" cy="83.0" r="0.5"/><circle cx="171.8" cy="82.7" r="0.5"/><circle cx="174.0" cy="84.4" r="0.5"/><circle cx="176.4" cy="77.7" r="0.5"/><circle cx="175.5" cy="84.8" r="0.5"/><circle cx="170.8" cy="80.8" r="0.5"/><circle cx="178.8" cy="81.3" r="0.5"/><circle cx="173.4" cy="80.0" r="0.5"/><circle cx="175.8" cy="81.0" r="0.5"/><circle cx="176.6" cy="83.2" r="0.5"/><circle cx="177.7" cy="81.1" r="0.5"/><circle cx="174.0" cy="82.9" r="0.5"/><circle cx="175.4" cy="82.9" r="0.5"/><circle cx="173.8" cy="82.3" r="0.5"/><circle cx="173.4" cy="81.6" r="0.5"/><circle cx="176.8" cy="84.9" r="0.5"/><circle cx="174.3" cy="84.2" r="0.5"/><circle cx="176.8" cy="82.4" r="0.5"/><circle cx="177.5" cy="80.6" r="0.5"/><circle cx="177.6" cy="82.6" r="0.5"/><circle cx="164.6" cy="86.2" r="0.5"/><circle cx="178.7" cy="86.3" r="0.5"/><circle cx="172.3" cy="83.5" r="0.5"/><circle cx="176.2" cy="79.9" r="0.5"/><circle cx="179.8" cy="82.4" r="0.5"/><circle cx="172.3" cy="80.4" r="0.5"/><circle cx="175.7" cy="88.2" r="0.5"/><circle cx="181.1" cy="74.9" r="0.5"/><circle cx="170.2" cy="85.5" r="0.5"/><circle cx="174.9" cy="81.1" r="0.5"/><circle cx="177.6" cy="82.1" r="0.5"/><circle cx="176.7" cy="82.8" r="0.5"/><circle cx="172.9" cy="86.3" r="0.5"/><circle cx="174.8" cy="85.4" r="0.5"/><circle cx="177.9" cy="81.9" r="0.5"/><circle cx="176.0" cy="82.2" r="0.5"/><circle cx="169.5" cy="83.3" r="0.5"/><circle cx="176.0" cy="78.4" r="0.5"/><circle cx="171.5" cy="86.2" r="0.5"/><circle cx="177.3" cy="78.2" r="0.5"/><circle cx="177.1" cy="81.9" r="0.5"/><circle cx="178.6" cy="80.8" r="0.5"/><circle cx="174.5" cy="80.9" r="0.5"/><circle cx="176.1" cy="82.0" r="0.5"/><circle cx="173.3" cy="82.2" r="0.5"/><circle cx="173.6" cy="84.5" r="0.5"/><circle cx="171.3" cy="79.8" r="0.5"/><circle cx="173.2" cy="85.7" r="0.5"/><circle cx="174.4" cy="84.3" r="0.5"/><circle cx="177.7" cy="80.6" r="0.5"/><circle cx="178.4" cy="82.9" r="0.5"/><circle cx="175.1" cy="80.8" r="0.5"/><circle cx="174.6" cy="79.5" r="0.5"/><circle cx="174.4" cy="81.3" r="0.5"/><circle cx="177.2" cy="82.8" r="0.5"/><circle cx="174.1" cy="84.9" r="0.5"/><circle cx="179.5" cy="81.5" r="0.5"/><circle cx="173.5" cy="84.2" r="0.5"/><circle cx="167.4" cy="83.2" r="0.5"/><circle cx="178.7" cy="86.5" r="0.5"/><circle cx="174.2" cy="86.5" r="0.5"/><circle cx="184.3" cy="84.7" r="0.5"/><circle cx="168.7" cy="87.0" r="0.5"/><circle cx="176.9" cy="84.6" r="0.5"/><circle cx="174.7" cy="81.2" r="0.5"/><circle cx="175.8" cy="86.0" r="0.5"/><circle cx="178.2" cy="81.0" r="0.5"/><circle cx="177.4" cy="84.1" r="0.5"/><circle cx="177.4" cy="81.8" r="0.5"/><circle cx="173.0" cy="81.3" r="0.5"/><circle cx="173.9" cy="81.5" r="0.5"/><circle cx="169.6" cy="80.5" r="0.5"/><circle cx="177.8" cy="79.1" r="0.5"/><circle cx="171.3" cy="83.4" r="0.5"/><circle cx="181.1" cy="84.0" r="0.5"/><circle cx="173.6" cy="80.4" r="0.5"/><circle cx="173.3" cy="80.8" r="0.5"/><circle cx="174.1" cy="84.0" r="0.5"/><circle cx="171.7" cy="81.5" r="0.5"/><circle cx="174.7" cy="82.6" r="0.5"/><circle cx="172.6" cy="81.3" r="0.5"/><circle cx="171.5" cy="81.7" r="0.5"/><circle cx="177.2" cy="81.4" r="0.5"/><circle cx="165.9" cy="86.5" r="0.5"/><circle cx="174.8" cy="80.5" r="0.5"/><circle cx="172.9" cy="75.7" r="0.5"/><circle cx="170.9" cy="86.5" r="0.5"/><circle cx="183.9" cy="85.6" r="0.5"/><circle cx="173.2" cy="83.1" r="0.5"/><circle cx="177.4" cy="78.9" r="0.5"/><circle cx="180.9" cy="79.2" r="0.5"/><circle cx="176.0" cy="79.4" r="0.5"/><circle cx="176.8" cy="82.0" r="0.5"/><circle cx="178.4" cy="78.8" r="0.5"/><circle cx="176.7" cy="86.6" r="0.5"/><circle cx="171.9" cy="84.3" r="0.5"/><circle cx="176.7" cy="80.9" r="0.5"/><circle cx="175.6" cy="85.9" r="0.5"/><circle cx="179.7" cy="82.7" r="0.5"/><circle cx="175.8" cy="79.5" r="0.5"/><circle cx="177.0" cy="86.5" r="0.5"/><circle cx="178.2" cy="78.3" r="0.5"/><circle cx="168.4" cy="82.7" r="0.5"/><circle cx="175.8" cy="81.0" r="0.5"/><circle cx="174.8" cy="83.5" r="0.5"/><circle cx="178.7" cy="82.1" r="0.5"/><circle cx="178.8" cy="78.0" r="0.5"/><circle cx="177.4" cy="83.0" r="0.5"/><circle cx="171.5" cy="86.6" r="0.5"/><circle cx="169.5" cy="80.5" r="0.5"/><circle cx="185.2" cy="83.1" r="0.5"/><circle cx="177.7" cy="85.2" r="0.5"/><circle cx="178.7" cy="78.8" r="0.5"/><circle cx="178.1" cy="85.2" r="0.5"/><circle cx="175.1" cy="82.7" r="0.5"/><circle cx="174.5" cy="84.5" r="0.5"/><circle cx="173.4" cy="81.5" r="0.5"/><circle cx="171.0" cy="81.3" r="0.5"/><circle cx="176.6" cy="83.3" r="0.5"/><circle cx="173.7" cy="80.3" r="0.5"/><circle cx="176.9" cy="82.9" r="0.5"/><circle cx="179.5" cy="80.1" r="0.5"/><circle cx="174.6" cy="84.0" r="0.5"/><circle cx="180.6" cy="80.9" r="0.5"/><circle cx="174.7" cy="80.3" r="0.5"/><circle cx="174.9" cy="84.9" r="0.5"/><circle cx="179.1" cy="84.2" r="0.5"/><circle cx="170.7" cy="85.8" r="0.5"/><circle cx="172.9" cy="84.6" r="0.5"/><circle cx="167.7" cy="84.3" r="0.5"/><circle cx="173.5" cy="86.2" r="0.5"/><circle cx="176.8" cy="85.3" r="0.5"/><circle cx="175.4" cy="87.4" r="0.5"/><circle cx="175.3" cy="87.2" r="0.5"/><circle cx="173.4" cy="80.5" r="0.5"/><circle cx="178.3" cy="80.7" r="0.5"/><circle cx="174.6" cy="79.3" r="0.5"/><circle cx="174.5" cy="83.0" r="0.5"/><circle cx="173.5" cy="83.9" r="0.5"/><circle cx="168.6" cy="86.5" r="0.5"/><circle cx="175.2" cy="86.2" r="0.5"/><circle cx="174.0" cy="81.2" r="0.5"/><circle cx="174.3" cy="83.4" r="0.5"/><circle cx="177.3" cy="80.8" r="0.5"/><circle cx="173.2" cy="84.1" r="0.5"/><circle cx="177.3" cy="77.6" r="0.5"/><circle cx="171.7" cy="81.8" r="0.5"/><circle cx="182.0" cy="83.8" r="0.5"/><circle cx="178.6" cy="82.9" r="0.5"/><circle cx="172.6" cy="86.0" r="0.5"/><circle cx="173.6" cy="80.9" r="0.5"/><circle cx="181.1" cy="77.3" r="0.5"/><circle cx="180.3" cy="81.6" r="0.5"/><circle cx="172.7" cy="83.6" r="0.5"/><circle cx="172.9" cy="83.6" r="0.5"/><circle cx="172.7" cy="80.2" r="0.5"/><circle cx="184.1" cy="78.9" r="0.5"/><circle cx="178.9" cy="81.4" r="0.5"/><circle cx="177.1" cy="78.8" r="0.5"/><circle cx="170.1" cy="75.6" r="0.5"/><circle cx="179.2" cy="82.6" r="0.5"/><circle cx="172.2" cy="85.4" r="0.5"/><circle cx="179.4" cy="88.7" r="0.5"/><circle cx="177.0" cy="84.3" r="0.5"/><circle cx="178.1" cy="83.7" r="0.5"/><circle cx="175.3" cy="81.5" r="0.5"/><circle cx="178.8" cy="84.7" r="0.5"/></g>
<g fill="#a08a50" fill-opacity="0.45"><circle cx="173.1" cy="81.5" r="0.55"/><circle cx="176.4" cy="84.9" r="0.55"/><circle cx="174.8" cy="80.2" r="0.55"/><circle cx="177.7" cy="83.0" r="0.55"/><circle cx="179.7" cy="81.6" r="0.55"/><circle cx="179.4" cy="80.4" r="0.55"/><circle cx="177.6" cy="82.1" r="0.55"/><circle cx="173.4" cy="82.6" r="0.55"/><circle cx="178.8" cy="83.2" r="0.55"/><circle cx="175.5" cy="84.1" r="0.55"/><circle cx="177.9" cy="83.2" r="0.55"/><circle cx="176.5" cy="82.7" r="0.55"/><circle cx="174.2" cy="82.7" r="0.55"/><circle cx="175.8" cy="81.3" r="0.55"/><circle cx="175.3" cy="82.8" r="0.55"/><circle cx="176.6" cy="83.7" r="0.55"/><circle cx="173.7" cy="82.4" r="0.55"/><circle cx="176.2" cy="81.7" r="0.55"/><circle cx="176.3" cy="81.6" r="0.55"/><circle cx="178.0" cy="81.5" r="0.55"/><circle cx="173.9" cy="84.0" r="0.55"/><circle cx="178.4" cy="78.9" r="0.55"/><circle cx="175.6" cy="82.6" r="0.55"/><circle cx="178.4" cy="83.9" r="0.55"/><circle cx="174.9" cy="80.4" r="0.55"/><circle cx="177.5" cy="83.4" r="0.55"/><circle cx="176.8" cy="82.3" r="0.55"/><circle cx="175.1" cy="86.2" r="0.55"/><circle cx="172.9" cy="81.0" r="0.55"/><circle cx="177.8" cy="82.3" r="0.55"/><circle cx="177.3" cy="82.5" r="0.55"/><circle cx="179.6" cy="83.5" r="0.55"/><circle cx="175.1" cy="84.1" r="0.55"/><circle cx="172.9" cy="80.7" r="0.55"/><circle cx="178.0" cy="81.2" r="0.55"/><circle cx="171.6" cy="83.5" r="0.55"/><circle cx="174.7" cy="83.4" r="0.55"/><circle cx="175.4" cy="81.4" r="0.55"/><circle cx="174.7" cy="83.8" r="0.55"/><circle cx="174.0" cy="83.1" r="0.55"/><circle cx="174.1" cy="83.5" r="0.55"/><circle cx="179.5" cy="82.3" r="0.55"/><circle cx="178.2" cy="82.4" r="0.55"/><circle cx="173.8" cy="82.5" r="0.55"/><circle cx="176.1" cy="83.0" r="0.55"/><circle cx="174.9" cy="83.6" r="0.55"/><circle cx="174.4" cy="82.9" r="0.55"/><circle cx="175.4" cy="80.8" r="0.55"/><circle cx="177.8" cy="81.9" r="0.55"/><circle cx="176.0" cy="82.3" r="0.55"/><circle cx="171.2" cy="81.6" r="0.55"/><circle cx="174.4" cy="84.2" r="0.55"/><circle cx="174.9" cy="83.5" r="0.55"/><circle cx="173.5" cy="81.8" r="0.55"/><circle cx="175.3" cy="84.1" r="0.55"/><circle cx="172.5" cy="83.0" r="0.55"/><circle cx="176.7" cy="82.4" r="0.55"/><circle cx="176.1" cy="83.5" r="0.55"/><circle cx="176.0" cy="80.9" r="0.55"/><circle cx="176.8" cy="81.0" r="0.55"/><circle cx="175.7" cy="84.6" r="0.55"/><circle cx="181.1" cy="83.1" r="0.55"/><circle cx="176.4" cy="81.1" r="0.55"/><circle cx="174.9" cy="85.1" r="0.55"/><circle cx="176.0" cy="80.3" r="0.55"/><circle cx="179.1" cy="82.4" r="0.55"/><circle cx="178.5" cy="82.3" r="0.55"/><circle cx="171.3" cy="82.5" r="0.55"/><circle cx="175.5" cy="82.3" r="0.55"/><circle cx="178.5" cy="80.7" r="0.55"/><circle cx="175.6" cy="82.4" r="0.55"/><circle cx="175.3" cy="81.0" r="0.55"/><circle cx="172.5" cy="79.5" r="0.55"/><circle cx="176.4" cy="82.0" r="0.55"/><circle cx="175.8" cy="80.9" r="0.55"/><circle cx="175.5" cy="81.1" r="0.55"/><circle cx="174.0" cy="83.4" r="0.55"/><circle cx="177.3" cy="82.9" r="0.55"/><circle cx="175.6" cy="81.9" r="0.55"/><circle cx="179.0" cy="83.4" r="0.55"/></g>
<g fill="#7078b0" fill-opacity="0.26"><circle cx="188.9" cy="84.6" r="0.5"/><circle cx="194.7" cy="82.6" r="0.5"/><circle cx="192.3" cy="90.3" r="0.5"/><circle cx="183.5" cy="90.6" r="0.5"/><circle cx="195.1" cy="84.0" r="0.5"/><circle cx="185.0" cy="90.3" r="0.5"/><circle cx="200.4" cy="79.9" r="0.5"/><circle cx="191.9" cy="84.6" r="0.5"/><circle cx="189.9" cy="87.6" r="0.5"/><circle cx="186.0" cy="84.9" r="0.5"/><circle cx="186.9" cy="89.6" r="0.5"/><circle cx="189.2" cy="90.3" r="0.5"/><circle cx="199.2" cy="79.9" r="0.5"/><circle cx="196.9" cy="82.6" r="0.5"/><circle cx="195.0" cy="83.7" r="0.5"/><circle cx="195.7" cy="82.8" r="0.5"/><circle cx="188.0" cy="86.7" r="0.5"/><circle cx="190.0" cy="88.6" r="0.5"/><circle cx="193.7" cy="80.5" r="0.5"/><circle cx="188.2" cy="86.7" r="0.5"/><circle cx="196.1" cy="80.0" r="0.5"/><circle cx="191.0" cy="83.6" r="0.5"/><circle cx="194.5" cy="86.2" r="0.5"/><circle cx="189.7" cy="85.8" r="0.5"/><circle cx="200.5" cy="77.9" r="0.5"/><circle cx="189.8" cy="89.5" r="0.5"/><circle cx="188.6" cy="89.3" r="0.5"/><circle cx="181.6" cy="92.1" r="0.5"/><circle cx="195.6" cy="79.2" r="0.5"/><circle cx="190.1" cy="86.5" r="0.5"/><circle cx="192.2" cy="82.9" r="0.5"/><circle cx="192.6" cy="88.7" r="0.5"/><circle cx="199.1" cy="78.2" r="0.5"/><circle cx="187.6" cy="87.4" r="0.5"/><circle cx="192.4" cy="85.4" r="0.5"/><circle cx="198.4" cy="76.6" r="0.5"/><circle cx="192.8" cy="82.4" r="0.5"/><circle cx="192.5" cy="82.1" r="0.5"/><circle cx="195.9" cy="83.7" r="0.5"/><circle cx="190.8" cy="84.7" r="0.5"/><circle cx="191.5" cy="81.4" r="0.5"/><circle cx="198.1" cy="74.7" r="0.5"/><circle cx="190.2" cy="83.8" r="0.5"/><circle cx="198.1" cy="77.0" r="0.5"/><circle cx="193.4" cy="88.1" r="0.5"/><circle cx="191.3" cy="83.0" r="0.5"/><circle cx="193.1" cy="83.9" r="0.5"/><circle cx="189.7" cy="86.3" r="0.5"/><circle cx="193.0" cy="85.4" r="0.5"/><circle cx="197.0" cy="81.7" r="0.5"/><circle cx="193.4" cy="85.1" r="0.5"/><circle cx="193.6" cy="86.0" r="0.5"/><circle cx="193.8" cy="81.4" r="0.5"/><circle cx="195.6" cy="76.7" r="0.5"/><circle cx="188.0" cy="86.3" r="0.5"/><circle cx="190.7" cy="82.4" r="0.5"/><circle cx="185.6" cy="85.7" r="0.5"/><circle cx="192.2" cy="82.1" r="0.5"/><circle cx="202.5" cy="76.0" r="0.5"/><circle cx="190.1" cy="89.8" r="0.5"/><circle cx="194.7" cy="84.6" r="0.5"/><circle cx="190.1" cy="89.5" r="0.5"/><circle cx="196.6" cy="78.7" r="0.5"/><circle cx="189.0" cy="86.4" r="0.5"/><circle cx="197.1" cy="85.8" r="0.5"/><circle cx="201.9" cy="78.5" r="0.5"/><circle cx="191.5" cy="84.0" r="0.5"/><circle cx="193.9" cy="81.8" r="0.5"/><circle cx="190.7" cy="85.1" r="0.5"/><circle cx="196.1" cy="80.2" r="0.5"/><circle cx="193.4" cy="82.3" r="0.5"/><circle cx="191.6" cy="83.9" r="0.5"/><circle cx="198.1" cy="79.0" r="0.5"/><circle cx="198.5" cy="77.5" r="0.5"/><circle cx="195.1" cy="77.6" r="0.5"/><circle cx="191.2" cy="85.1" r="0.5"/><circle cx="190.2" cy="85.9" r="0.5"/><circle cx="189.0" cy="87.0" r="0.5"/><circle cx="190.2" cy="86.2" r="0.5"/><circle cx="190.3" cy="83.4" r="0.5"/><circle cx="191.3" cy="85.2" r="0.5"/><circle cx="188.0" cy="88.7" r="0.5"/><circle cx="197.4" cy="78.4" r="0.5"/><circle cx="195.8" cy="82.3" r="0.5"/><circle cx="191.5" cy="88.5" r="0.5"/><circle cx="201.3" cy="72.4" r="0.5"/><circle cx="200.3" cy="74.2" r="0.5"/><circle cx="196.1" cy="75.4" r="0.5"/><circle cx="197.5" cy="79.3" r="0.5"/><circle cx="186.7" cy="87.5" r="0.5"/><circle cx="187.5" cy="86.5" r="0.5"/><circle cx="194.1" cy="81.9" r="0.5"/><circle cx="182.6" cy="93.0" r="0.5"/><circle cx="194.8" cy="81.9" r="0.5"/><circle cx="197.0" cy="74.5" r="0.5"/><circle cx="193.8" cy="82.7" r="0.5"/><circle cx="193.9" cy="78.9" r="0.5"/><circle cx="187.5" cy="88.5" r="0.5"/><circle cx="190.7" cy="80.8" r="0.5"/><circle cx="194.3" cy="82.1" r="0.5"/><circle cx="192.2" cy="77.2" r="0.5"/><circle cx="193.6" cy="80.4" r="0.5"/><circle cx="192.0" cy="86.5" r="0.5"/><circle cx="199.7" cy="77.2" r="0.5"/><circle cx="194.2" cy="85.8" r="0.5"/><circle cx="189.1" cy="86.9" r="0.5"/><circle cx="189.5" cy="84.2" r="0.5"/><circle cx="196.4" cy="85.6" r="0.5"/><circle cx="194.5" cy="83.3" r="0.5"/><circle cx="194.2" cy="85.2" r="0.5"/><circle cx="192.4" cy="81.7" r="0.5"/><circle cx="195.2" cy="85.1" r="0.5"/><circle cx="194.1" cy="85.5" r="0.5"/><circle cx="195.3" cy="86.6" r="0.5"/><circle cx="194.8" cy="83.4" r="0.5"/><circle cx="192.8" cy="85.8" r="0.5"/><circle cx="190.0" cy="82.5" r="0.5"/><circle cx="192.4" cy="80.8" r="0.5"/><circle cx="199.7" cy="78.9" r="0.5"/><circle cx="193.8" cy="84.4" r="0.5"/><circle cx="184.8" cy="95.8" r="0.5"/><circle cx="191.2" cy="87.0" r="0.5"/><circle cx="200.7" cy="71.4" r="0.5"/><circle cx="191.7" cy="85.7" r="0.5"/><circle cx="192.2" cy="79.7" r="0.5"/><circle cx="191.2" cy="89.2" r="0.5"/><circle cx="191.2" cy="86.7" r="0.5"/><circle cx="186.2" cy="87.7" r="0.5"/><circle cx="186.1" cy="91.1" r="0.5"/><circle cx="197.5" cy="79.2" r="0.5"/><circle cx="192.1" cy="85.0" r="0.5"/><circle cx="194.3" cy="81.4" r="0.5"/><circle cx="197.6" cy="84.1" r="0.5"/><circle cx="200.8" cy="74.1" r="0.5"/><circle cx="190.5" cy="91.1" r="0.5"/><circle cx="198.3" cy="81.4" r="0.5"/><circle cx="194.9" cy="80.9" r="0.5"/><circle cx="198.2" cy="81.3" r="0.5"/><circle cx="196.0" cy="77.5" r="0.5"/><circle cx="196.4" cy="79.1" r="0.5"/><circle cx="191.9" cy="85.5" r="0.5"/><circle cx="194.6" cy="88.1" r="0.5"/><circle cx="195.4" cy="81.7" r="0.5"/><circle cx="192.4" cy="84.7" r="0.5"/><circle cx="192.7" cy="85.3" r="0.5"/><circle cx="197.4" cy="81.3" r="0.5"/><circle cx="187.5" cy="88.0" r="0.5"/><circle cx="191.5" cy="81.6" r="0.5"/><circle cx="194.1" cy="81.9" r="0.5"/><circle cx="193.6" cy="83.9" r="0.5"/><circle cx="192.5" cy="88.1" r="0.5"/><circle cx="196.2" cy="78.8" r="0.5"/><circle cx="195.7" cy="82.8" r="0.5"/><circle cx="189.4" cy="86.1" r="0.5"/><circle cx="192.1" cy="77.4" r="0.5"/><circle cx="188.1" cy="89.2" r="0.5"/><circle cx="194.0" cy="79.9" r="0.5"/><circle cx="199.2" cy="83.2" r="0.5"/><circle cx="193.6" cy="82.7" r="0.5"/><circle cx="191.8" cy="81.9" r="0.5"/><circle cx="195.3" cy="81.7" r="0.5"/><circle cx="197.7" cy="82.6" r="0.5"/><circle cx="193.2" cy="83.7" r="0.5"/><circle cx="196.5" cy="84.6" r="0.5"/><circle cx="187.2" cy="89.3" r="0.5"/><circle cx="190.6" cy="86.2" r="0.5"/><circle cx="196.2" cy="80.4" r="0.5"/><circle cx="196.0" cy="80.9" r="0.5"/><circle cx="189.2" cy="85.5" r="0.5"/><circle cx="187.8" cy="89.3" r="0.5"/><circle cx="192.5" cy="86.2" r="0.5"/><circle cx="195.4" cy="78.6" r="0.5"/><circle cx="189.4" cy="88.6" r="0.5"/><circle cx="189.7" cy="87.3" r="0.5"/><circle cx="194.7" cy="80.7" r="0.5"/><circle cx="198.8" cy="75.6" r="0.5"/><circle cx="194.0" cy="81.4" r="0.5"/><circle cx="181.4" cy="94.6" r="0.5"/><circle cx="193.0" cy="85.0" r="0.5"/><circle cx="191.4" cy="83.1" r="0.5"/><circle cx="190.4" cy="85.2" r="0.5"/><circle cx="195.5" cy="80.2" r="0.5"/><circle cx="198.8" cy="79.9" r="0.5"/><circle cx="191.4" cy="87.9" r="0.5"/><circle cx="184.1" cy="92.4" r="0.5"/><circle cx="188.9" cy="87.3" r="0.5"/><circle cx="197.4" cy="79.1" r="0.5"/><circle cx="193.9" cy="86.0" r="0.5"/><circle cx="188.8" cy="85.4" r="0.5"/><circle cx="197.5" cy="80.6" r="0.5"/><circle cx="187.5" cy="89.4" r="0.5"/><circle cx="195.7" cy="80.3" r="0.5"/><circle cx="191.5" cy="85.3" r="0.5"/><circle cx="192.7" cy="81.8" r="0.5"/><circle cx="194.0" cy="78.2" r="0.5"/><circle cx="195.5" cy="86.7" r="0.5"/><circle cx="188.7" cy="87.7" r="0.5"/><circle cx="182.9" cy="91.3" r="0.5"/><circle cx="188.4" cy="88.2" r="0.5"/><circle cx="193.4" cy="88.0" r="0.5"/><circle cx="189.2" cy="87.1" r="0.5"/><circle cx="194.6" cy="83.6" r="0.5"/><circle cx="194.2" cy="78.0" r="0.5"/><circle cx="201.0" cy="74.6" r="0.5"/><circle cx="187.8" cy="84.2" r="0.5"/><circle cx="188.7" cy="82.9" r="0.5"/><circle cx="192.8" cy="82.0" r="0.5"/><circle cx="193.1" cy="81.2" r="0.5"/><circle cx="196.1" cy="86.3" r="0.5"/><circle cx="197.6" cy="79.2" r="0.5"/><circle cx="191.0" cy="89.4" r="0.5"/><circle cx="184.3" cy="88.3" r="0.5"/><circle cx="197.1" cy="77.7" r="0.5"/><circle cx="198.9" cy="79.1" r="0.5"/><circle cx="203.8" cy="77.5" r="0.5"/><circle cx="194.3" cy="80.4" r="0.5"/><circle cx="197.0" cy="83.2" r="0.5"/><circle cx="189.5" cy="79.1" r="0.5"/><circle cx="190.9" cy="84.6" r="0.5"/><circle cx="192.1" cy="83.3" r="0.5"/></g>
<g fill="#707090" fill-opacity="0.35"><circle cx="193.7" cy="80.9" r="0.5"/><circle cx="192.2" cy="81.4" r="0.5"/><circle cx="189.2" cy="85.8" r="0.5"/><circle cx="191.3" cy="83.8" r="0.5"/><circle cx="192.5" cy="84.8" r="0.5"/><circle cx="193.9" cy="82.6" r="0.5"/><circle cx="192.8" cy="82.6" r="0.5"/><circle cx="190.6" cy="83.8" r="0.5"/><circle cx="191.6" cy="83.2" r="0.5"/><circle cx="193.1" cy="84.4" r="0.5"/><circle cx="194.7" cy="83.6" r="0.5"/><circle cx="190.1" cy="83.2" r="0.5"/><circle cx="192.8" cy="86.4" r="0.5"/><circle cx="193.7" cy="82.1" r="0.5"/><circle cx="194.6" cy="81.2" r="0.5"/><circle cx="195.1" cy="80.7" r="0.5"/><circle cx="192.9" cy="84.5" r="0.5"/><circle cx="191.3" cy="84.9" r="0.5"/><circle cx="196.1" cy="81.0" r="0.5"/><circle cx="191.3" cy="84.8" r="0.5"/><circle cx="192.4" cy="82.9" r="0.5"/><circle cx="194.5" cy="83.7" r="0.5"/><circle cx="193.7" cy="84.0" r="0.5"/><circle cx="193.5" cy="83.1" r="0.5"/><circle cx="192.6" cy="85.1" r="0.5"/><circle cx="194.6" cy="81.2" r="0.5"/><circle cx="192.1" cy="85.0" r="0.5"/><circle cx="193.9" cy="84.1" r="0.5"/><circle cx="193.6" cy="82.6" r="0.5"/><circle cx="191.5" cy="85.8" r="0.5"/><circle cx="192.2" cy="82.4" r="0.5"/><circle cx="189.6" cy="84.2" r="0.5"/><circle cx="193.6" cy="82.2" r="0.5"/><circle cx="187.7" cy="87.5" r="0.5"/><circle cx="192.0" cy="84.2" r="0.5"/><circle cx="192.8" cy="83.1" r="0.5"/><circle cx="194.8" cy="83.1" r="0.5"/><circle cx="193.8" cy="84.8" r="0.5"/><circle cx="192.2" cy="83.0" r="0.5"/><circle cx="192.2" cy="82.2" r="0.5"/></g>
<g fill="#7078b0" fill-opacity="0.2"><circle cx="195.8" cy="92.6" r="0.5"/><circle cx="195.3" cy="100.2" r="0.5"/><circle cx="188.4" cy="101.3" r="0.5"/><circle cx="197.7" cy="97.7" r="0.5"/><circle cx="199.2" cy="101.1" r="0.5"/><circle cx="195.6" cy="93.0" r="0.5"/><circle cx="199.3" cy="103.5" r="0.5"/><circle cx="191.8" cy="94.6" r="0.5"/><circle cx="192.8" cy="104.0" r="0.5"/><circle cx="194.8" cy="91.5" r="0.5"/><circle cx="201.9" cy="101.7" r="0.5"/><circle cx="197.6" cy="100.5" r="0.5"/><circle cx="196.2" cy="99.2" r="0.5"/><circle cx="199.8" cy="101.6" r="0.5"/><circle cx="195.2" cy="99.6" r="0.5"/><circle cx="203.2" cy="95.6" r="0.5"/><circle cx="192.3" cy="99.7" r="0.5"/><circle cx="192.9" cy="114.8" r="0.5"/><circle cx="198.9" cy="102.5" r="0.5"/><circle cx="198.0" cy="110.8" r="0.5"/><circle cx="193.3" cy="98.7" r="0.5"/><circle cx="191.1" cy="106.4" r="0.5"/><circle cx="196.5" cy="109.6" r="0.5"/><circle cx="195.8" cy="92.7" r="0.5"/><circle cx="194.4" cy="103.8" r="0.5"/><circle cx="194.0" cy="100.5" r="0.5"/><circle cx="194.3" cy="94.7" r="0.5"/><circle cx="194.9" cy="108.7" r="0.5"/><circle cx="193.1" cy="100.9" r="0.5"/><circle cx="199.5" cy="94.5" r="0.5"/><circle cx="191.6" cy="108.0" r="0.5"/><circle cx="202.7" cy="97.4" r="0.5"/><circle cx="192.7" cy="104.2" r="0.5"/><circle cx="196.6" cy="94.0" r="0.5"/><circle cx="195.4" cy="84.5" r="0.5"/><circle cx="194.0" cy="91.6" r="0.5"/><circle cx="192.3" cy="102.5" r="0.5"/><circle cx="197.7" cy="109.2" r="0.5"/><circle cx="187.6" cy="94.9" r="0.5"/><circle cx="193.9" cy="106.9" r="0.5"/><circle cx="200.3" cy="99.7" r="0.5"/><circle cx="197.1" cy="94.4" r="0.5"/><circle cx="195.0" cy="96.2" r="0.5"/><circle cx="188.1" cy="110.4" r="0.5"/><circle cx="199.3" cy="111.5" r="0.5"/><circle cx="201.0" cy="101.9" r="0.5"/><circle cx="199.6" cy="88.7" r="0.5"/><circle cx="193.3" cy="104.1" r="0.5"/><circle cx="195.4" cy="89.1" r="0.5"/><circle cx="196.7" cy="91.1" r="0.5"/><circle cx="196.7" cy="108.4" r="0.5"/><circle cx="192.8" cy="96.2" r="0.5"/><circle cx="198.6" cy="98.7" r="0.5"/><circle cx="197.4" cy="93.8" r="0.5"/><circle cx="195.6" cy="84.5" r="0.5"/><circle cx="196.1" cy="106.7" r="0.5"/><circle cx="192.9" cy="97.8" r="0.5"/><circle cx="199.2" cy="106.3" r="0.5"/><circle cx="200.7" cy="93.5" r="0.5"/><circle cx="195.3" cy="109.5" r="0.5"/><circle cx="195.1" cy="100.6" r="0.5"/><circle cx="193.8" cy="94.9" r="0.5"/><circle cx="186.5" cy="95.6" r="0.5"/><circle cx="189.2" cy="92.7" r="0.5"/><circle cx="193.4" cy="107.1" r="0.5"/><circle cx="199.4" cy="101.3" r="0.5"/><circle cx="194.9" cy="90.4" r="0.5"/><circle cx="198.4" cy="93.8" r="0.5"/><circle cx="196.3" cy="104.6" r="0.5"/><circle cx="196.1" cy="98.7" r="0.5"/><circle cx="193.3" cy="105.2" r="0.5"/><circle cx="198.5" cy="103.2" r="0.5"/><circle cx="202.3" cy="89.0" r="0.5"/><circle cx="196.8" cy="102.8" r="0.5"/><circle cx="197.9" cy="100.7" r="0.5"/><circle cx="198.3" cy="89.5" r="0.5"/><circle cx="196.4" cy="105.9" r="0.5"/><circle cx="196.5" cy="97.7" r="0.5"/><circle cx="199.6" cy="88.2" r="0.5"/><circle cx="198.1" cy="108.1" r="0.5"/><circle cx="195.8" cy="93.8" r="0.5"/><circle cx="198.5" cy="96.1" r="0.5"/><circle cx="193.9" cy="99.8" r="0.5"/><circle cx="191.0" cy="102.9" r="0.5"/><circle cx="192.6" cy="95.5" r="0.5"/><circle cx="199.2" cy="98.7" r="0.5"/><circle cx="197.6" cy="107.2" r="0.5"/><circle cx="201.9" cy="111.5" r="0.5"/><circle cx="194.8" cy="104.4" r="0.5"/><circle cx="191.0" cy="103.7" r="0.5"/><circle cx="201.2" cy="94.4" r="0.5"/><circle cx="198.3" cy="103.9" r="0.5"/><circle cx="196.2" cy="95.0" r="0.5"/><circle cx="201.9" cy="90.8" r="0.5"/><circle cx="197.3" cy="104.6" r="0.5"/><circle cx="197.5" cy="108.5" r="0.5"/><circle cx="201.8" cy="101.7" r="0.5"/><circle cx="202.8" cy="103.4" r="0.5"/><circle cx="192.5" cy="96.9" r="0.5"/><circle cx="197.6" cy="100.0" r="0.5"/><circle cx="190.9" cy="112.8" r="0.5"/><circle cx="191.3" cy="92.0" r="0.5"/><circle cx="198.3" cy="100.1" r="0.5"/><circle cx="202.0" cy="100.2" r="0.5"/><circle cx="198.0" cy="103.3" r="0.5"/><circle cx="194.2" cy="91.0" r="0.5"/><circle cx="195.1" cy="105.1" r="0.5"/><circle cx="195.7" cy="106.5" r="0.5"/><circle cx="194.8" cy="103.5" r="0.5"/><circle cx="196.8" cy="104.0" r="0.5"/><circle cx="196.8" cy="100.1" r="0.5"/><circle cx="195.1" cy="106.5" r="0.5"/><circle cx="196.6" cy="101.9" r="0.5"/><circle cx="199.0" cy="93.4" r="0.5"/><circle cx="193.9" cy="98.6" r="0.5"/><circle cx="201.1" cy="92.5" r="0.5"/><circle cx="193.2" cy="92.9" r="0.5"/><circle cx="195.4" cy="92.4" r="0.5"/><circle cx="193.9" cy="102.1" r="0.5"/><circle cx="193.0" cy="98.8" r="0.5"/></g>
<polygon points="155.0,67.8 199.3,67.8 177.4,92.6 155.0,92.6" fill="none" stroke="#D42C8E" stroke-width="1.1" stroke-linejoin="miter"/>
<polygon points="199.3,67.8 207.8,75.4 184.5,99.7 177.4,92.6" fill="none" stroke="#D42C8E" stroke-width="1.1" stroke-linejoin="miter"/>
<polygon points="184.5,99.7 207.8,75.4 207.8,117.6 184.5,117.6" fill="none" stroke="#D42C8E" stroke-width="1.1" stroke-linejoin="miter"/>
<path d="M152.3 116.9 H154.5 M153.3 112.6 H154.5 M153.3 110.0 H154.5 M153.3 108.2 H154.5 M153.3 106.8 H154.5 M153.3 105.7 H154.5 M153.3 104.7 H154.5 M153.3 103.9 H154.5 M153.3 103.2 H154.5 M152.3 102.5 H154.5 M153.3 98.2 H154.5 M153.3 95.6 H154.5 M153.3 93.8 H154.5 M153.3 92.4 H154.5 M153.3 91.3 H154.5 M153.3 90.3 H154.5 M153.3 89.5 H154.5 M153.3 88.8 H154.5 M152.3 88.1 H154.5 M153.3 83.8 H154.5 M153.3 81.2 H154.5 M153.3 79.4 H154.5 M153.3 78.0 H154.5 M153.3 76.9 H154.5 M153.3 75.9 H154.5 M153.3 75.1 H154.5 M153.3 74.4 H154.5 M152.3 73.7 H154.5 M153.3 69.4 H154.5 M153.3 66.8 H154.5 M153.3 65.0 H154.5 M153.3 63.6 H154.5 M153.3 62.5 H154.5 M153.3 61.5 H154.5 M153.3 60.7 H154.5 M153.3 60.0 H154.5 M152.3 59.3 H154.5 M156.0 118.0 V120.2 M160.3 118.0 V119.2 M162.9 118.0 V119.2 M164.7 118.0 V119.2 M166.1 118.0 V119.2 M167.2 118.0 V119.2 M168.2 118.0 V119.2 M169.0 118.0 V119.2 M169.7 118.0 V119.2 M170.4 118.0 V120.2 M174.7 118.0 V119.2 M177.3 118.0 V119.2 M179.1 118.0 V119.2 M180.5 118.0 V119.2 M181.6 118.0 V119.2 M182.6 118.0 V119.2 M183.4 118.0 V119.2 M184.1 118.0 V119.2 M184.8 118.0 V120.2 M189.1 118.0 V119.2 M191.7 118.0 V119.2 M193.5 118.0 V119.2 M194.9 118.0 V119.2 M196.0 118.0 V119.2 M197.0 118.0 V119.2 M197.8 118.0 V119.2 M198.5 118.0 V119.2 M199.2 118.0 V120.2 M203.5 118.0 V119.2 M206.1 118.0 V119.2 M207.9 118.0 V119.2 M209.3 118.0 V119.2 M210.4 118.0 V119.2 M211.4 118.0 V119.2 M212.2 118.0 V119.2 M212.9 118.0 V119.2 M213.6 118.0 V120.2" stroke="#111" stroke-width="0.65" fill="none"/>
<text x="163.7" y="66.2" font-size="7.4" text-anchor="start" fill="#000" style="stroke:#000;stroke-width:0.12px" >73.9</text>
<text x="203.6" y="66.2" font-size="7.4" text-anchor="start" fill="#000" style="stroke:#000;stroke-width:0.12px" >15.4</text>
<text x="172.5" y="117.6" font-size="7.4" text-anchor="start" fill="#000" style="stroke:#000;stroke-width:0.12px" >9.4</text>
<text x="149.4" y="130.2" font-size="7.6">10<tspan dy="-2.8" font-size="5.4">0</tspan></text>
<text x="163.1" y="130.2" font-size="7.6">10<tspan dy="-2.8" font-size="5.4">1</tspan></text>
<text x="179.3" y="130.2" font-size="7.6">10<tspan dy="-2.8" font-size="5.4">2</tspan></text>
<text x="194.2" y="130.2" font-size="7.6">10<tspan dy="-2.8" font-size="5.4">3</tspan></text>
<text x="208.8" y="130.2" font-size="7.6">10<tspan dy="-2.8" font-size="5.4">4</tspan></text>
<rect x="228.7" y="52.3" width="66.09999999999997" height="65.7" fill="#fff" stroke="#222" stroke-width="0.9"/>
<g fill="#7078b0" fill-opacity="0.26"><circle cx="241.7" cy="85.4" r="0.5"/><circle cx="248.2" cy="80.5" r="0.5"/><circle cx="256.6" cy="80.6" r="0.5"/><circle cx="250.7" cy="89.8" r="0.5"/><circle cx="246.0" cy="77.7" r="0.5"/><circle cx="241.3" cy="82.2" r="0.5"/><circle cx="255.6" cy="84.3" r="0.5"/><circle cx="259.7" cy="87.6" r="0.5"/><circle cx="262.0" cy="81.8" r="0.5"/><circle cx="259.8" cy="82.5" r="0.5"/><circle cx="248.1" cy="86.4" r="0.5"/><circle cx="251.0" cy="81.2" r="0.5"/><circle cx="264.3" cy="81.9" r="0.5"/><circle cx="247.7" cy="82.6" r="0.5"/><circle cx="265.4" cy="77.1" r="0.5"/><circle cx="256.2" cy="83.4" r="0.5"/><circle cx="254.8" cy="83.7" r="0.5"/><circle cx="247.3" cy="81.1" r="0.5"/><circle cx="249.5" cy="80.9" r="0.5"/><circle cx="257.7" cy="87.1" r="0.5"/><circle cx="245.9" cy="85.9" r="0.5"/><circle cx="243.9" cy="81.0" r="0.5"/><circle cx="249.5" cy="83.0" r="0.5"/><circle cx="245.3" cy="72.2" r="0.5"/><circle cx="259.4" cy="78.7" r="0.5"/><circle cx="247.6" cy="86.0" r="0.5"/><circle cx="245.5" cy="77.3" r="0.5"/><circle cx="254.5" cy="83.0" r="0.5"/><circle cx="246.6" cy="87.0" r="0.5"/><circle cx="252.0" cy="76.8" r="0.5"/><circle cx="262.3" cy="80.2" r="0.5"/><circle cx="244.2" cy="85.9" r="0.5"/><circle cx="252.8" cy="85.9" r="0.5"/><circle cx="243.5" cy="88.7" r="0.5"/><circle cx="257.7" cy="83.4" r="0.5"/><circle cx="256.2" cy="86.5" r="0.5"/><circle cx="255.6" cy="81.4" r="0.5"/><circle cx="246.8" cy="88.1" r="0.5"/><circle cx="257.5" cy="81.7" r="0.5"/><circle cx="252.7" cy="84.8" r="0.5"/><circle cx="235.2" cy="87.7" r="0.5"/><circle cx="235.2" cy="87.4" r="0.5"/><circle cx="259.7" cy="88.1" r="0.5"/><circle cx="248.4" cy="84.7" r="0.5"/><circle cx="248.0" cy="73.1" r="0.5"/><circle cx="255.5" cy="80.8" r="0.5"/><circle cx="250.3" cy="78.1" r="0.5"/><circle cx="250.7" cy="82.5" r="0.5"/><circle cx="259.3" cy="81.1" r="0.5"/><circle cx="272.6" cy="74.5" r="0.5"/><circle cx="249.1" cy="82.3" r="0.5"/><circle cx="247.4" cy="89.7" r="0.5"/><circle cx="253.6" cy="75.8" r="0.5"/><circle cx="252.8" cy="86.7" r="0.5"/><circle cx="242.0" cy="85.1" r="0.5"/><circle cx="251.9" cy="92.1" r="0.5"/><circle cx="253.0" cy="79.7" r="0.5"/><circle cx="249.4" cy="90.8" r="0.5"/><circle cx="250.4" cy="92.3" r="0.5"/><circle cx="240.7" cy="84.0" r="0.5"/><circle cx="248.6" cy="79.6" r="0.5"/><circle cx="250.3" cy="85.3" r="0.5"/><circle cx="245.0" cy="77.4" r="0.5"/><circle cx="261.0" cy="85.9" r="0.5"/><circle cx="246.8" cy="84.5" r="0.5"/><circle cx="235.6" cy="90.8" r="0.5"/><circle cx="241.8" cy="82.1" r="0.5"/><circle cx="263.2" cy="73.2" r="0.5"/><circle cx="249.8" cy="77.7" r="0.5"/><circle cx="237.8" cy="80.5" r="0.5"/><circle cx="251.1" cy="76.3" r="0.5"/><circle cx="247.9" cy="86.1" r="0.5"/><circle cx="248.4" cy="77.0" r="0.5"/><circle cx="260.5" cy="80.1" r="0.5"/><circle cx="258.6" cy="75.4" r="0.5"/><circle cx="260.1" cy="73.7" r="0.5"/><circle cx="239.3" cy="83.3" r="0.5"/><circle cx="248.8" cy="83.8" r="0.5"/><circle cx="248.0" cy="85.7" r="0.5"/><circle cx="258.6" cy="77.1" r="0.5"/><circle cx="241.6" cy="82.8" r="0.5"/><circle cx="256.9" cy="84.1" r="0.5"/><circle cx="247.5" cy="78.6" r="0.5"/><circle cx="251.8" cy="86.1" r="0.5"/><circle cx="247.7" cy="88.7" r="0.5"/><circle cx="252.6" cy="82.9" r="0.5"/><circle cx="248.3" cy="88.8" r="0.5"/><circle cx="249.5" cy="75.9" r="0.5"/><circle cx="255.6" cy="79.0" r="0.5"/><circle cx="257.9" cy="81.0" r="0.5"/><circle cx="247.0" cy="83.9" r="0.5"/><circle cx="246.8" cy="79.5" r="0.5"/><circle cx="251.9" cy="85.5" r="0.5"/><circle cx="251.2" cy="81.6" r="0.5"/><circle cx="247.9" cy="85.4" r="0.5"/><circle cx="253.6" cy="85.6" r="0.5"/><circle cx="255.5" cy="90.2" r="0.5"/><circle cx="240.8" cy="84.6" r="0.5"/><circle cx="255.2" cy="84.9" r="0.5"/><circle cx="239.7" cy="79.7" r="0.5"/><circle cx="251.7" cy="86.5" r="0.5"/><circle cx="256.1" cy="74.0" r="0.5"/><circle cx="252.9" cy="86.7" r="0.5"/><circle cx="249.9" cy="77.8" r="0.5"/><circle cx="244.8" cy="77.8" r="0.5"/><circle cx="258.1" cy="79.0" r="0.5"/><circle cx="247.1" cy="79.2" r="0.5"/><circle cx="248.9" cy="78.6" r="0.5"/><circle cx="244.6" cy="83.6" r="0.5"/><circle cx="249.9" cy="84.4" r="0.5"/><circle cx="253.0" cy="86.7" r="0.5"/><circle cx="250.8" cy="83.2" r="0.5"/><circle cx="251.4" cy="78.4" r="0.5"/><circle cx="257.7" cy="77.8" r="0.5"/><circle cx="242.1" cy="89.9" r="0.5"/><circle cx="254.3" cy="78.7" r="0.5"/><circle cx="257.9" cy="84.4" r="0.5"/><circle cx="254.0" cy="76.1" r="0.5"/><circle cx="250.8" cy="77.5" r="0.5"/><circle cx="246.3" cy="80.8" r="0.5"/><circle cx="246.0" cy="85.6" r="0.5"/><circle cx="246.5" cy="86.0" r="0.5"/><circle cx="251.2" cy="79.3" r="0.5"/><circle cx="252.6" cy="84.6" r="0.5"/><circle cx="257.8" cy="79.1" r="0.5"/><circle cx="262.4" cy="81.5" r="0.5"/><circle cx="257.2" cy="74.4" r="0.5"/><circle cx="245.4" cy="88.9" r="0.5"/><circle cx="249.9" cy="84.4" r="0.5"/><circle cx="256.8" cy="74.1" r="0.5"/><circle cx="255.8" cy="89.3" r="0.5"/><circle cx="256.0" cy="81.1" r="0.5"/><circle cx="254.4" cy="81.2" r="0.5"/><circle cx="257.1" cy="86.1" r="0.5"/><circle cx="250.0" cy="84.8" r="0.5"/><circle cx="253.5" cy="84.6" r="0.5"/><circle cx="254.9" cy="76.3" r="0.5"/><circle cx="259.1" cy="83.7" r="0.5"/><circle cx="243.6" cy="82.8" r="0.5"/><circle cx="241.2" cy="83.4" r="0.5"/><circle cx="251.6" cy="76.8" r="0.5"/><circle cx="244.9" cy="79.8" r="0.5"/><circle cx="245.6" cy="80.1" r="0.5"/><circle cx="244.7" cy="86.2" r="0.5"/><circle cx="248.5" cy="79.1" r="0.5"/><circle cx="256.4" cy="78.1" r="0.5"/><circle cx="255.1" cy="75.5" r="0.5"/><circle cx="259.2" cy="77.9" r="0.5"/><circle cx="245.3" cy="85.4" r="0.5"/><circle cx="241.2" cy="79.9" r="0.5"/><circle cx="251.8" cy="79.7" r="0.5"/><circle cx="253.5" cy="82.0" r="0.5"/><circle cx="252.5" cy="82.2" r="0.5"/><circle cx="255.3" cy="80.9" r="0.5"/><circle cx="258.8" cy="84.1" r="0.5"/><circle cx="236.4" cy="78.3" r="0.5"/><circle cx="260.1" cy="77.6" r="0.5"/><circle cx="251.8" cy="81.3" r="0.5"/><circle cx="254.9" cy="90.6" r="0.5"/><circle cx="246.4" cy="83.6" r="0.5"/><circle cx="249.6" cy="77.7" r="0.5"/><circle cx="245.0" cy="82.5" r="0.5"/><circle cx="251.1" cy="83.7" r="0.5"/><circle cx="236.7" cy="79.0" r="0.5"/><circle cx="261.0" cy="78.6" r="0.5"/><circle cx="255.5" cy="79.0" r="0.5"/><circle cx="248.6" cy="91.9" r="0.5"/><circle cx="242.0" cy="80.5" r="0.5"/><circle cx="255.1" cy="81.0" r="0.5"/><circle cx="240.6" cy="85.4" r="0.5"/><circle cx="253.7" cy="74.6" r="0.5"/><circle cx="248.1" cy="86.2" r="0.5"/><circle cx="260.3" cy="69.4" r="0.5"/><circle cx="246.5" cy="83.4" r="0.5"/><circle cx="244.0" cy="79.9" r="0.5"/><circle cx="248.2" cy="85.0" r="0.5"/><circle cx="245.0" cy="87.4" r="0.5"/><circle cx="256.9" cy="84.2" r="0.5"/><circle cx="259.9" cy="77.4" r="0.5"/><circle cx="251.5" cy="86.2" r="0.5"/><circle cx="259.8" cy="83.8" r="0.5"/><circle cx="247.4" cy="80.9" r="0.5"/><circle cx="242.0" cy="82.5" r="0.5"/><circle cx="244.6" cy="81.6" r="0.5"/><circle cx="249.3" cy="86.1" r="0.5"/><circle cx="256.1" cy="80.4" r="0.5"/><circle cx="243.5" cy="83.8" r="0.5"/><circle cx="254.4" cy="84.8" r="0.5"/><circle cx="253.0" cy="85.0" r="0.5"/><circle cx="247.3" cy="85.8" r="0.5"/><circle cx="255.0" cy="79.4" r="0.5"/><circle cx="247.3" cy="88.4" r="0.5"/><circle cx="245.2" cy="86.6" r="0.5"/><circle cx="248.7" cy="81.1" r="0.5"/><circle cx="248.7" cy="80.7" r="0.5"/><circle cx="252.5" cy="89.4" r="0.5"/><circle cx="259.8" cy="79.1" r="0.5"/><circle cx="254.7" cy="85.0" r="0.5"/><circle cx="250.1" cy="90.3" r="0.5"/><circle cx="251.7" cy="84.5" r="0.5"/><circle cx="243.5" cy="79.1" r="0.5"/><circle cx="243.8" cy="81.1" r="0.5"/><circle cx="256.9" cy="79.1" r="0.5"/><circle cx="255.9" cy="78.9" r="0.5"/><circle cx="244.9" cy="84.4" r="0.5"/><circle cx="246.5" cy="76.0" r="0.5"/><circle cx="252.3" cy="86.8" r="0.5"/><circle cx="248.1" cy="77.6" r="0.5"/><circle cx="244.7" cy="78.4" r="0.5"/><circle cx="248.2" cy="78.6" r="0.5"/><circle cx="250.2" cy="83.0" r="0.5"/><circle cx="257.8" cy="75.2" r="0.5"/><circle cx="239.6" cy="92.1" r="0.5"/><circle cx="253.1" cy="79.9" r="0.5"/><circle cx="252.9" cy="77.5" r="0.5"/><circle cx="249.4" cy="85.4" r="0.5"/><circle cx="248.9" cy="83.2" r="0.5"/><circle cx="253.6" cy="81.8" r="0.5"/><circle cx="249.8" cy="84.6" r="0.5"/><circle cx="260.5" cy="85.0" r="0.5"/><circle cx="246.1" cy="86.7" r="0.5"/><circle cx="237.3" cy="79.5" r="0.5"/><circle cx="253.9" cy="83.6" r="0.5"/><circle cx="257.5" cy="72.8" r="0.5"/><circle cx="256.9" cy="78.1" r="0.5"/><circle cx="248.3" cy="84.7" r="0.5"/><circle cx="258.6" cy="75.9" r="0.5"/><circle cx="239.4" cy="82.5" r="0.5"/><circle cx="251.3" cy="87.1" r="0.5"/><circle cx="252.7" cy="80.3" r="0.5"/><circle cx="247.1" cy="81.1" r="0.5"/><circle cx="255.0" cy="73.7" r="0.5"/><circle cx="245.4" cy="79.7" r="0.5"/><circle cx="257.9" cy="80.7" r="0.5"/><circle cx="247.3" cy="86.3" r="0.5"/><circle cx="264.1" cy="82.9" r="0.5"/><circle cx="242.3" cy="83.4" r="0.5"/><circle cx="255.9" cy="72.8" r="0.5"/><circle cx="242.6" cy="82.4" r="0.5"/><circle cx="253.1" cy="77.9" r="0.5"/><circle cx="251.5" cy="81.2" r="0.5"/><circle cx="251.4" cy="76.6" r="0.5"/><circle cx="234.4" cy="77.1" r="0.5"/><circle cx="252.8" cy="85.8" r="0.5"/><circle cx="252.0" cy="74.7" r="0.5"/><circle cx="239.5" cy="83.8" r="0.5"/><circle cx="242.9" cy="76.2" r="0.5"/><circle cx="246.2" cy="79.8" r="0.5"/><circle cx="250.3" cy="83.8" r="0.5"/><circle cx="252.0" cy="82.5" r="0.5"/><circle cx="253.8" cy="80.7" r="0.5"/><circle cx="247.5" cy="81.4" r="0.5"/><circle cx="257.8" cy="78.9" r="0.5"/><circle cx="257.5" cy="87.4" r="0.5"/><circle cx="259.2" cy="70.4" r="0.5"/><circle cx="252.6" cy="85.8" r="0.5"/><circle cx="247.0" cy="79.9" r="0.5"/><circle cx="240.9" cy="81.7" r="0.5"/><circle cx="248.6" cy="74.4" r="0.5"/><circle cx="249.6" cy="78.7" r="0.5"/><circle cx="249.6" cy="77.6" r="0.5"/><circle cx="251.3" cy="82.6" r="0.5"/><circle cx="245.5" cy="80.5" r="0.5"/><circle cx="257.3" cy="83.0" r="0.5"/><circle cx="246.2" cy="85.1" r="0.5"/><circle cx="242.8" cy="81.9" r="0.5"/><circle cx="231.7" cy="84.7" r="0.5"/><circle cx="254.4" cy="78.9" r="0.5"/><circle cx="253.6" cy="78.4" r="0.5"/><circle cx="252.4" cy="80.9" r="0.5"/><circle cx="246.8" cy="92.2" r="0.5"/><circle cx="243.9" cy="78.0" r="0.5"/><circle cx="251.9" cy="83.7" r="0.5"/><circle cx="252.6" cy="81.0" r="0.5"/><circle cx="254.5" cy="85.0" r="0.5"/><circle cx="253.0" cy="75.4" r="0.5"/><circle cx="261.4" cy="79.0" r="0.5"/><circle cx="238.7" cy="88.9" r="0.5"/><circle cx="250.0" cy="83.4" r="0.5"/><circle cx="262.5" cy="76.5" r="0.5"/><circle cx="245.6" cy="79.1" r="0.5"/><circle cx="252.5" cy="84.4" r="0.5"/><circle cx="253.2" cy="82.1" r="0.5"/><circle cx="237.6" cy="86.7" r="0.5"/><circle cx="256.8" cy="78.1" r="0.5"/><circle cx="246.2" cy="78.8" r="0.5"/><circle cx="250.4" cy="75.3" r="0.5"/><circle cx="262.4" cy="78.0" r="0.5"/><circle cx="245.5" cy="78.1" r="0.5"/><circle cx="255.0" cy="85.1" r="0.5"/><circle cx="247.3" cy="83.7" r="0.5"/><circle cx="253.5" cy="85.5" r="0.5"/><circle cx="255.8" cy="86.0" r="0.5"/><circle cx="244.6" cy="95.0" r="0.5"/><circle cx="246.3" cy="78.3" r="0.5"/><circle cx="245.2" cy="85.2" r="0.5"/><circle cx="258.1" cy="90.6" r="0.5"/><circle cx="257.5" cy="76.9" r="0.5"/><circle cx="248.0" cy="80.7" r="0.5"/><circle cx="246.7" cy="82.4" r="0.5"/><circle cx="248.0" cy="87.8" r="0.5"/><circle cx="253.4" cy="84.0" r="0.5"/><circle cx="248.4" cy="77.6" r="0.5"/><circle cx="252.9" cy="79.7" r="0.5"/><circle cx="264.4" cy="83.7" r="0.5"/><circle cx="242.0" cy="80.1" r="0.5"/><circle cx="246.9" cy="82.1" r="0.5"/><circle cx="257.6" cy="79.4" r="0.5"/><circle cx="253.1" cy="80.0" r="0.5"/><circle cx="250.6" cy="87.4" r="0.5"/><circle cx="252.8" cy="90.0" r="0.5"/><circle cx="250.8" cy="83.7" r="0.5"/><circle cx="253.8" cy="84.1" r="0.5"/><circle cx="262.0" cy="76.0" r="0.5"/><circle cx="246.3" cy="79.1" r="0.5"/><circle cx="262.5" cy="80.9" r="0.5"/><circle cx="254.0" cy="83.1" r="0.5"/><circle cx="239.9" cy="88.3" r="0.5"/><circle cx="251.8" cy="83.1" r="0.5"/><circle cx="251.1" cy="81.5" r="0.5"/><circle cx="249.6" cy="79.9" r="0.5"/><circle cx="249.9" cy="85.0" r="0.5"/><circle cx="238.3" cy="88.9" r="0.5"/><circle cx="253.5" cy="76.6" r="0.5"/><circle cx="254.2" cy="82.4" r="0.5"/><circle cx="249.2" cy="89.8" r="0.5"/><circle cx="251.6" cy="81.2" r="0.5"/><circle cx="244.8" cy="93.0" r="0.5"/><circle cx="252.4" cy="82.9" r="0.5"/><circle cx="251.5" cy="90.8" r="0.5"/><circle cx="251.4" cy="88.7" r="0.5"/><circle cx="258.3" cy="84.2" r="0.5"/><circle cx="255.9" cy="85.7" r="0.5"/><circle cx="247.7" cy="73.8" r="0.5"/><circle cx="235.0" cy="91.1" r="0.5"/><circle cx="239.2" cy="90.9" r="0.5"/><circle cx="268.0" cy="69.2" r="0.5"/><circle cx="255.0" cy="82.9" r="0.5"/><circle cx="244.0" cy="75.2" r="0.5"/><circle cx="251.9" cy="89.1" r="0.5"/><circle cx="250.0" cy="82.2" r="0.5"/><circle cx="251.2" cy="82.1" r="0.5"/><circle cx="255.0" cy="90.8" r="0.5"/><circle cx="243.2" cy="76.1" r="0.5"/><circle cx="255.4" cy="78.5" r="0.5"/><circle cx="246.0" cy="77.2" r="0.5"/><circle cx="249.1" cy="80.6" r="0.5"/><circle cx="252.9" cy="79.7" r="0.5"/><circle cx="242.0" cy="86.5" r="0.5"/><circle cx="248.1" cy="74.5" r="0.5"/><circle cx="249.3" cy="85.7" r="0.5"/><circle cx="249.9" cy="80.8" r="0.5"/><circle cx="253.7" cy="78.5" r="0.5"/><circle cx="246.8" cy="85.3" r="0.5"/><circle cx="249.0" cy="79.8" r="0.5"/><circle cx="252.3" cy="82.7" r="0.5"/><circle cx="257.6" cy="84.6" r="0.5"/><circle cx="251.2" cy="81.8" r="0.5"/><circle cx="245.0" cy="84.4" r="0.5"/><circle cx="249.3" cy="86.0" r="0.5"/><circle cx="256.3" cy="83.3" r="0.5"/><circle cx="250.7" cy="83.5" r="0.5"/><circle cx="261.9" cy="86.4" r="0.5"/><circle cx="243.9" cy="71.6" r="0.5"/><circle cx="252.9" cy="74.8" r="0.5"/><circle cx="251.5" cy="83.8" r="0.5"/><circle cx="259.8" cy="78.8" r="0.5"/><circle cx="249.3" cy="79.9" r="0.5"/><circle cx="251.2" cy="76.6" r="0.5"/><circle cx="254.6" cy="82.5" r="0.5"/><circle cx="258.8" cy="78.6" r="0.5"/><circle cx="252.9" cy="82.3" r="0.5"/><circle cx="249.5" cy="78.2" r="0.5"/><circle cx="247.2" cy="83.2" r="0.5"/><circle cx="254.9" cy="85.4" r="0.5"/><circle cx="247.2" cy="84.1" r="0.5"/><circle cx="255.4" cy="84.5" r="0.5"/><circle cx="252.5" cy="82.5" r="0.5"/><circle cx="248.6" cy="82.8" r="0.5"/><circle cx="247.6" cy="75.4" r="0.5"/><circle cx="243.7" cy="73.6" r="0.5"/><circle cx="254.8" cy="84.8" r="0.5"/><circle cx="248.6" cy="83.4" r="0.5"/><circle cx="251.4" cy="80.8" r="0.5"/><circle cx="259.7" cy="78.8" r="0.5"/><circle cx="252.7" cy="81.3" r="0.5"/><circle cx="261.4" cy="72.1" r="0.5"/><circle cx="250.5" cy="76.3" r="0.5"/><circle cx="245.2" cy="79.4" r="0.5"/><circle cx="254.3" cy="76.4" r="0.5"/><circle cx="244.1" cy="82.4" r="0.5"/><circle cx="243.7" cy="79.7" r="0.5"/><circle cx="259.9" cy="76.7" r="0.5"/><circle cx="247.2" cy="89.0" r="0.5"/><circle cx="252.5" cy="86.4" r="0.5"/><circle cx="240.2" cy="83.6" r="0.5"/><circle cx="253.9" cy="82.2" r="0.5"/><circle cx="255.5" cy="86.2" r="0.5"/><circle cx="255.6" cy="85.5" r="0.5"/><circle cx="254.6" cy="77.8" r="0.5"/><circle cx="253.3" cy="87.0" r="0.5"/><circle cx="245.4" cy="85.8" r="0.5"/><circle cx="256.1" cy="86.4" r="0.5"/><circle cx="242.9" cy="94.5" r="0.5"/><circle cx="241.0" cy="84.7" r="0.5"/><circle cx="265.1" cy="72.4" r="0.5"/><circle cx="265.1" cy="79.4" r="0.5"/><circle cx="264.3" cy="84.7" r="0.5"/><circle cx="250.9" cy="78.7" r="0.5"/><circle cx="247.4" cy="77.4" r="0.5"/><circle cx="242.5" cy="85.9" r="0.5"/><circle cx="242.1" cy="86.0" r="0.5"/><circle cx="250.2" cy="81.7" r="0.5"/><circle cx="242.9" cy="78.8" r="0.5"/><circle cx="254.7" cy="76.9" r="0.5"/><circle cx="246.9" cy="82.3" r="0.5"/><circle cx="257.1" cy="88.9" r="0.5"/><circle cx="263.9" cy="82.0" r="0.5"/><circle cx="255.7" cy="83.6" r="0.5"/><circle cx="249.2" cy="81.6" r="0.5"/><circle cx="240.5" cy="87.2" r="0.5"/><circle cx="248.0" cy="84.5" r="0.5"/><circle cx="265.7" cy="81.8" r="0.5"/><circle cx="258.9" cy="83.7" r="0.5"/><circle cx="246.5" cy="80.4" r="0.5"/><circle cx="241.0" cy="82.2" r="0.5"/><circle cx="252.5" cy="84.6" r="0.5"/><circle cx="254.0" cy="79.7" r="0.5"/><circle cx="243.7" cy="84.2" r="0.5"/><circle cx="250.5" cy="73.5" r="0.5"/><circle cx="249.7" cy="76.1" r="0.5"/><circle cx="247.7" cy="82.3" r="0.5"/><circle cx="244.0" cy="81.7" r="0.5"/><circle cx="249.7" cy="78.0" r="0.5"/><circle cx="255.7" cy="83.6" r="0.5"/><circle cx="253.0" cy="76.9" r="0.5"/><circle cx="249.1" cy="81.1" r="0.5"/><circle cx="252.2" cy="84.9" r="0.5"/><circle cx="247.4" cy="83.0" r="0.5"/><circle cx="255.5" cy="79.4" r="0.5"/><circle cx="255.2" cy="80.8" r="0.5"/><circle cx="241.8" cy="84.3" r="0.5"/><circle cx="251.1" cy="80.1" r="0.5"/><circle cx="262.2" cy="77.3" r="0.5"/><circle cx="241.3" cy="83.9" r="0.5"/><circle cx="249.8" cy="84.5" r="0.5"/><circle cx="266.7" cy="78.4" r="0.5"/><circle cx="255.0" cy="77.8" r="0.5"/><circle cx="244.0" cy="80.8" r="0.5"/><circle cx="249.0" cy="80.6" r="0.5"/><circle cx="249.9" cy="79.5" r="0.5"/><circle cx="242.3" cy="80.9" r="0.5"/><circle cx="254.3" cy="76.1" r="0.5"/><circle cx="257.3" cy="87.4" r="0.5"/><circle cx="245.8" cy="87.2" r="0.5"/><circle cx="253.0" cy="69.9" r="0.5"/><circle cx="256.7" cy="83.2" r="0.5"/><circle cx="247.7" cy="90.5" r="0.5"/><circle cx="240.9" cy="90.3" r="0.5"/><circle cx="251.2" cy="77.5" r="0.5"/><circle cx="249.7" cy="75.7" r="0.5"/><circle cx="255.0" cy="83.2" r="0.5"/><circle cx="259.9" cy="85.7" r="0.5"/><circle cx="246.9" cy="85.2" r="0.5"/><circle cx="243.6" cy="71.4" r="0.5"/><circle cx="257.9" cy="85.2" r="0.5"/><circle cx="253.9" cy="88.7" r="0.5"/><circle cx="248.4" cy="75.1" r="0.5"/><circle cx="247.4" cy="81.7" r="0.5"/><circle cx="251.9" cy="79.9" r="0.5"/><circle cx="235.3" cy="80.8" r="0.5"/><circle cx="250.9" cy="86.8" r="0.5"/><circle cx="245.0" cy="77.9" r="0.5"/><circle cx="248.6" cy="86.5" r="0.5"/><circle cx="257.4" cy="76.0" r="0.5"/><circle cx="256.3" cy="86.3" r="0.5"/><circle cx="254.4" cy="76.2" r="0.5"/><circle cx="253.9" cy="79.0" r="0.5"/><circle cx="249.5" cy="90.7" r="0.5"/><circle cx="250.9" cy="84.1" r="0.5"/><circle cx="260.1" cy="86.7" r="0.5"/><circle cx="251.7" cy="79.1" r="0.5"/><circle cx="249.6" cy="79.4" r="0.5"/><circle cx="249.7" cy="81.8" r="0.5"/><circle cx="240.4" cy="81.3" r="0.5"/><circle cx="241.6" cy="84.2" r="0.5"/><circle cx="256.4" cy="83.6" r="0.5"/><circle cx="250.7" cy="77.8" r="0.5"/><circle cx="248.7" cy="76.6" r="0.5"/><circle cx="252.5" cy="74.8" r="0.5"/><circle cx="248.5" cy="90.1" r="0.5"/><circle cx="252.2" cy="77.4" r="0.5"/><circle cx="248.1" cy="78.2" r="0.5"/><circle cx="245.1" cy="81.7" r="0.5"/><circle cx="245.5" cy="84.2" r="0.5"/><circle cx="256.4" cy="76.7" r="0.5"/><circle cx="243.9" cy="80.3" r="0.5"/><circle cx="246.9" cy="83.6" r="0.5"/><circle cx="245.4" cy="79.6" r="0.5"/><circle cx="247.4" cy="87.2" r="0.5"/><circle cx="257.8" cy="84.6" r="0.5"/><circle cx="250.7" cy="77.9" r="0.5"/><circle cx="261.6" cy="88.7" r="0.5"/><circle cx="245.8" cy="80.6" r="0.5"/><circle cx="258.2" cy="83.0" r="0.5"/><circle cx="255.4" cy="89.8" r="0.5"/><circle cx="248.6" cy="79.1" r="0.5"/><circle cx="248.5" cy="83.6" r="0.5"/><circle cx="253.2" cy="86.8" r="0.5"/><circle cx="254.6" cy="77.8" r="0.5"/><circle cx="255.0" cy="80.0" r="0.5"/><circle cx="261.3" cy="84.1" r="0.5"/><circle cx="247.5" cy="85.3" r="0.5"/><circle cx="242.9" cy="86.1" r="0.5"/><circle cx="251.6" cy="83.7" r="0.5"/><circle cx="242.1" cy="80.6" r="0.5"/><circle cx="246.8" cy="82.0" r="0.5"/><circle cx="253.9" cy="77.6" r="0.5"/><circle cx="237.3" cy="83.2" r="0.5"/><circle cx="256.4" cy="84.2" r="0.5"/></g>
<g fill="#5c6494" fill-opacity="0.28"><circle cx="247.2" cy="84.6" r="0.5"/><circle cx="251.2" cy="83.6" r="0.5"/><circle cx="251.7" cy="84.6" r="0.5"/><circle cx="249.6" cy="87.1" r="0.5"/><circle cx="253.1" cy="79.2" r="0.5"/><circle cx="246.5" cy="85.5" r="0.5"/><circle cx="245.6" cy="82.0" r="0.5"/><circle cx="251.8" cy="81.6" r="0.5"/><circle cx="249.8" cy="78.0" r="0.5"/><circle cx="248.6" cy="83.9" r="0.5"/><circle cx="256.8" cy="81.5" r="0.5"/><circle cx="250.7" cy="82.5" r="0.5"/><circle cx="253.8" cy="82.7" r="0.5"/><circle cx="246.9" cy="79.2" r="0.5"/><circle cx="249.6" cy="81.7" r="0.5"/><circle cx="255.4" cy="79.2" r="0.5"/><circle cx="251.6" cy="77.8" r="0.5"/><circle cx="252.1" cy="79.2" r="0.5"/><circle cx="250.5" cy="81.9" r="0.5"/><circle cx="250.8" cy="82.2" r="0.5"/><circle cx="247.4" cy="84.3" r="0.5"/><circle cx="247.8" cy="82.9" r="0.5"/><circle cx="248.0" cy="82.9" r="0.5"/><circle cx="250.0" cy="82.0" r="0.5"/><circle cx="248.8" cy="85.3" r="0.5"/><circle cx="250.0" cy="82.6" r="0.5"/><circle cx="244.4" cy="85.1" r="0.5"/><circle cx="245.7" cy="83.1" r="0.5"/><circle cx="245.5" cy="87.5" r="0.5"/><circle cx="245.1" cy="83.1" r="0.5"/><circle cx="246.1" cy="80.8" r="0.5"/><circle cx="246.1" cy="86.5" r="0.5"/><circle cx="256.6" cy="80.3" r="0.5"/><circle cx="252.5" cy="80.7" r="0.5"/><circle cx="248.2" cy="86.6" r="0.5"/><circle cx="251.7" cy="79.5" r="0.5"/><circle cx="250.1" cy="82.3" r="0.5"/><circle cx="249.5" cy="82.3" r="0.5"/><circle cx="248.4" cy="82.6" r="0.5"/><circle cx="249.0" cy="81.9" r="0.5"/><circle cx="249.0" cy="85.9" r="0.5"/><circle cx="249.0" cy="82.2" r="0.5"/><circle cx="251.1" cy="82.1" r="0.5"/><circle cx="247.0" cy="84.9" r="0.5"/><circle cx="246.5" cy="81.9" r="0.5"/><circle cx="251.4" cy="81.5" r="0.5"/><circle cx="248.3" cy="82.8" r="0.5"/><circle cx="247.5" cy="81.7" r="0.5"/><circle cx="246.2" cy="80.7" r="0.5"/><circle cx="247.5" cy="83.1" r="0.5"/><circle cx="248.7" cy="82.3" r="0.5"/><circle cx="252.7" cy="80.6" r="0.5"/><circle cx="245.0" cy="83.8" r="0.5"/><circle cx="253.9" cy="75.2" r="0.5"/><circle cx="249.0" cy="80.2" r="0.5"/><circle cx="246.3" cy="85.0" r="0.5"/><circle cx="250.1" cy="82.2" r="0.5"/><circle cx="246.2" cy="82.3" r="0.5"/><circle cx="247.8" cy="86.0" r="0.5"/><circle cx="249.1" cy="78.4" r="0.5"/><circle cx="250.1" cy="85.3" r="0.5"/><circle cx="247.9" cy="82.3" r="0.5"/><circle cx="250.3" cy="83.2" r="0.5"/><circle cx="251.3" cy="80.6" r="0.5"/><circle cx="249.6" cy="83.9" r="0.5"/><circle cx="247.1" cy="82.4" r="0.5"/><circle cx="251.1" cy="81.5" r="0.5"/><circle cx="248.3" cy="86.2" r="0.5"/><circle cx="250.6" cy="81.5" r="0.5"/><circle cx="242.4" cy="86.6" r="0.5"/><circle cx="253.0" cy="81.4" r="0.5"/><circle cx="249.9" cy="80.6" r="0.5"/><circle cx="256.6" cy="82.4" r="0.5"/><circle cx="258.0" cy="84.9" r="0.5"/><circle cx="245.4" cy="84.9" r="0.5"/><circle cx="244.5" cy="84.6" r="0.5"/><circle cx="250.1" cy="81.1" r="0.5"/><circle cx="252.3" cy="82.0" r="0.5"/><circle cx="249.2" cy="82.0" r="0.5"/><circle cx="253.3" cy="82.5" r="0.5"/><circle cx="253.0" cy="82.2" r="0.5"/><circle cx="248.8" cy="81.7" r="0.5"/><circle cx="250.7" cy="80.7" r="0.5"/><circle cx="248.9" cy="84.3" r="0.5"/><circle cx="250.9" cy="81.7" r="0.5"/><circle cx="250.8" cy="81.4" r="0.5"/><circle cx="254.0" cy="80.9" r="0.5"/><circle cx="249.9" cy="80.0" r="0.5"/><circle cx="247.7" cy="80.3" r="0.5"/><circle cx="251.9" cy="83.0" r="0.5"/><circle cx="252.0" cy="81.1" r="0.5"/><circle cx="250.7" cy="82.9" r="0.5"/><circle cx="248.4" cy="79.3" r="0.5"/><circle cx="256.3" cy="81.7" r="0.5"/><circle cx="253.4" cy="83.1" r="0.5"/><circle cx="248.3" cy="82.8" r="0.5"/><circle cx="249.5" cy="84.7" r="0.5"/><circle cx="250.6" cy="80.7" r="0.5"/><circle cx="252.8" cy="87.3" r="0.5"/><circle cx="250.6" cy="83.2" r="0.5"/><circle cx="256.0" cy="78.9" r="0.5"/><circle cx="251.9" cy="84.4" r="0.5"/><circle cx="252.0" cy="80.6" r="0.5"/><circle cx="250.4" cy="82.5" r="0.5"/><circle cx="253.7" cy="83.5" r="0.5"/><circle cx="244.8" cy="83.9" r="0.5"/><circle cx="248.5" cy="83.4" r="0.5"/><circle cx="249.4" cy="83.3" r="0.5"/><circle cx="246.2" cy="83.9" r="0.5"/><circle cx="252.7" cy="84.2" r="0.5"/><circle cx="255.0" cy="81.1" r="0.5"/><circle cx="249.5" cy="85.3" r="0.5"/><circle cx="251.7" cy="82.6" r="0.5"/><circle cx="251.4" cy="79.0" r="0.5"/><circle cx="247.4" cy="81.3" r="0.5"/><circle cx="248.0" cy="86.1" r="0.5"/><circle cx="245.0" cy="83.4" r="0.5"/><circle cx="249.8" cy="80.6" r="0.5"/><circle cx="251.1" cy="80.4" r="0.5"/><circle cx="245.7" cy="80.9" r="0.5"/><circle cx="254.2" cy="80.5" r="0.5"/><circle cx="251.3" cy="83.2" r="0.5"/><circle cx="251.3" cy="80.5" r="0.5"/><circle cx="253.4" cy="83.7" r="0.5"/><circle cx="246.8" cy="85.0" r="0.5"/><circle cx="252.5" cy="84.0" r="0.5"/><circle cx="252.1" cy="81.5" r="0.5"/><circle cx="248.6" cy="84.1" r="0.5"/><circle cx="251.8" cy="82.8" r="0.5"/><circle cx="249.7" cy="84.9" r="0.5"/><circle cx="253.7" cy="83.7" r="0.5"/><circle cx="249.1" cy="83.9" r="0.5"/><circle cx="252.6" cy="79.0" r="0.5"/><circle cx="248.5" cy="83.4" r="0.5"/><circle cx="246.3" cy="83.3" r="0.5"/><circle cx="250.0" cy="79.4" r="0.5"/><circle cx="252.2" cy="81.9" r="0.5"/><circle cx="254.1" cy="81.3" r="0.5"/><circle cx="249.1" cy="82.6" r="0.5"/><circle cx="250.8" cy="78.4" r="0.5"/><circle cx="250.0" cy="84.0" r="0.5"/><circle cx="252.9" cy="82.4" r="0.5"/><circle cx="247.3" cy="83.0" r="0.5"/><circle cx="251.8" cy="82.0" r="0.5"/><circle cx="252.0" cy="85.8" r="0.5"/><circle cx="255.9" cy="79.9" r="0.5"/><circle cx="247.8" cy="83.1" r="0.5"/><circle cx="253.8" cy="79.3" r="0.5"/><circle cx="247.1" cy="80.6" r="0.5"/><circle cx="253.5" cy="80.5" r="0.5"/><circle cx="251.2" cy="85.5" r="0.5"/><circle cx="252.2" cy="81.2" r="0.5"/><circle cx="247.4" cy="85.5" r="0.5"/><circle cx="250.6" cy="81.6" r="0.5"/><circle cx="250.9" cy="80.7" r="0.5"/><circle cx="251.3" cy="82.6" r="0.5"/><circle cx="247.5" cy="83.6" r="0.5"/><circle cx="253.0" cy="84.6" r="0.5"/><circle cx="254.2" cy="85.7" r="0.5"/><circle cx="253.1" cy="81.6" r="0.5"/><circle cx="251.6" cy="82.1" r="0.5"/><circle cx="247.7" cy="82.6" r="0.5"/><circle cx="250.5" cy="80.2" r="0.5"/><circle cx="250.7" cy="83.5" r="0.5"/><circle cx="255.4" cy="80.8" r="0.5"/><circle cx="249.3" cy="81.3" r="0.5"/><circle cx="246.2" cy="84.7" r="0.5"/><circle cx="248.8" cy="81.4" r="0.5"/><circle cx="248.1" cy="86.0" r="0.5"/><circle cx="254.7" cy="82.2" r="0.5"/><circle cx="248.9" cy="80.3" r="0.5"/><circle cx="243.9" cy="82.5" r="0.5"/><circle cx="249.1" cy="85.8" r="0.5"/><circle cx="248.9" cy="79.4" r="0.5"/><circle cx="254.9" cy="82.4" r="0.5"/><circle cx="249.6" cy="83.3" r="0.5"/><circle cx="252.2" cy="81.0" r="0.5"/><circle cx="248.2" cy="83.3" r="0.5"/><circle cx="252.6" cy="82.8" r="0.5"/><circle cx="246.9" cy="81.3" r="0.5"/></g>
<g fill="#a08a50" fill-opacity="0.45"><circle cx="250.6" cy="81.6" r="0.55"/><circle cx="250.9" cy="84.6" r="0.55"/><circle cx="247.9" cy="82.8" r="0.55"/><circle cx="249.1" cy="83.1" r="0.55"/><circle cx="254.2" cy="81.9" r="0.55"/><circle cx="252.8" cy="80.7" r="0.55"/><circle cx="251.7" cy="83.8" r="0.55"/><circle cx="250.0" cy="81.6" r="0.55"/><circle cx="248.7" cy="84.7" r="0.55"/><circle cx="251.0" cy="83.9" r="0.55"/><circle cx="251.2" cy="82.3" r="0.55"/><circle cx="252.3" cy="82.2" r="0.55"/><circle cx="252.7" cy="81.1" r="0.55"/><circle cx="249.8" cy="82.6" r="0.55"/><circle cx="249.9" cy="82.3" r="0.55"/><circle cx="252.3" cy="82.3" r="0.55"/><circle cx="251.2" cy="84.4" r="0.55"/><circle cx="248.3" cy="82.3" r="0.55"/><circle cx="250.8" cy="83.5" r="0.55"/><circle cx="252.0" cy="82.6" r="0.55"/><circle cx="253.4" cy="81.5" r="0.55"/><circle cx="249.9" cy="84.0" r="0.55"/><circle cx="253.2" cy="80.5" r="0.55"/><circle cx="249.8" cy="82.5" r="0.55"/><circle cx="251.5" cy="82.3" r="0.55"/><circle cx="251.6" cy="80.1" r="0.55"/><circle cx="249.5" cy="80.8" r="0.55"/><circle cx="252.6" cy="83.1" r="0.55"/><circle cx="251.2" cy="82.2" r="0.55"/><circle cx="250.6" cy="82.2" r="0.55"/><circle cx="249.6" cy="83.2" r="0.55"/><circle cx="251.7" cy="81.2" r="0.55"/><circle cx="252.0" cy="83.8" r="0.55"/><circle cx="254.3" cy="84.2" r="0.55"/><circle cx="255.1" cy="79.4" r="0.55"/><circle cx="249.9" cy="82.0" r="0.55"/><circle cx="252.1" cy="83.8" r="0.55"/><circle cx="248.5" cy="83.7" r="0.55"/><circle cx="251.8" cy="83.6" r="0.55"/><circle cx="251.5" cy="81.3" r="0.55"/><circle cx="251.1" cy="81.6" r="0.55"/><circle cx="250.5" cy="82.1" r="0.55"/><circle cx="250.9" cy="82.7" r="0.55"/><circle cx="251.9" cy="83.5" r="0.55"/><circle cx="251.5" cy="80.0" r="0.55"/><circle cx="251.8" cy="81.5" r="0.55"/><circle cx="252.4" cy="81.4" r="0.55"/><circle cx="249.0" cy="81.1" r="0.55"/><circle cx="250.9" cy="83.3" r="0.55"/><circle cx="249.4" cy="83.1" r="0.55"/></g>
<g fill="#7078b0" fill-opacity="0.27"><circle cx="262.8" cy="81.9" r="0.5"/><circle cx="265.5" cy="83.8" r="0.5"/><circle cx="266.3" cy="79.3" r="0.5"/><circle cx="268.9" cy="80.9" r="0.5"/><circle cx="269.5" cy="79.4" r="0.5"/><circle cx="263.7" cy="85.7" r="0.5"/><circle cx="267.9" cy="84.9" r="0.5"/><circle cx="263.3" cy="85.9" r="0.5"/><circle cx="262.2" cy="86.9" r="0.5"/><circle cx="269.5" cy="84.3" r="0.5"/><circle cx="266.4" cy="84.3" r="0.5"/><circle cx="268.1" cy="84.7" r="0.5"/><circle cx="265.1" cy="84.2" r="0.5"/><circle cx="267.4" cy="81.9" r="0.5"/><circle cx="267.3" cy="82.5" r="0.5"/><circle cx="266.4" cy="85.9" r="0.5"/><circle cx="265.2" cy="83.8" r="0.5"/><circle cx="270.8" cy="84.0" r="0.5"/><circle cx="267.4" cy="82.1" r="0.5"/><circle cx="270.1" cy="81.3" r="0.5"/><circle cx="264.3" cy="88.8" r="0.5"/><circle cx="271.0" cy="77.7" r="0.5"/><circle cx="266.0" cy="85.7" r="0.5"/><circle cx="268.0" cy="82.4" r="0.5"/><circle cx="269.5" cy="76.4" r="0.5"/><circle cx="265.3" cy="86.1" r="0.5"/><circle cx="267.6" cy="80.9" r="0.5"/><circle cx="261.3" cy="91.8" r="0.5"/><circle cx="270.3" cy="80.1" r="0.5"/><circle cx="269.2" cy="83.6" r="0.5"/><circle cx="274.2" cy="73.2" r="0.5"/><circle cx="264.1" cy="80.7" r="0.5"/><circle cx="263.5" cy="89.6" r="0.5"/><circle cx="262.6" cy="81.7" r="0.5"/><circle cx="263.5" cy="90.4" r="0.5"/><circle cx="270.1" cy="83.3" r="0.5"/><circle cx="271.9" cy="76.7" r="0.5"/><circle cx="265.8" cy="82.5" r="0.5"/><circle cx="264.3" cy="88.2" r="0.5"/><circle cx="266.5" cy="81.6" r="0.5"/><circle cx="259.7" cy="89.2" r="0.5"/><circle cx="264.4" cy="83.7" r="0.5"/><circle cx="270.2" cy="81.3" r="0.5"/><circle cx="269.9" cy="83.4" r="0.5"/><circle cx="265.2" cy="84.6" r="0.5"/><circle cx="273.3" cy="74.4" r="0.5"/><circle cx="268.6" cy="83.4" r="0.5"/><circle cx="267.4" cy="82.5" r="0.5"/><circle cx="269.6" cy="82.6" r="0.5"/><circle cx="266.9" cy="82.4" r="0.5"/><circle cx="259.7" cy="89.5" r="0.5"/><circle cx="262.5" cy="85.4" r="0.5"/><circle cx="261.2" cy="85.4" r="0.5"/><circle cx="263.5" cy="86.7" r="0.5"/><circle cx="260.0" cy="86.5" r="0.5"/><circle cx="272.2" cy="80.0" r="0.5"/><circle cx="264.9" cy="85.9" r="0.5"/><circle cx="266.3" cy="84.6" r="0.5"/><circle cx="267.2" cy="79.7" r="0.5"/><circle cx="260.4" cy="91.8" r="0.5"/><circle cx="267.2" cy="80.5" r="0.5"/><circle cx="271.9" cy="78.8" r="0.5"/><circle cx="268.9" cy="84.8" r="0.5"/><circle cx="273.6" cy="79.3" r="0.5"/><circle cx="267.3" cy="81.3" r="0.5"/><circle cx="266.7" cy="82.2" r="0.5"/><circle cx="271.0" cy="81.8" r="0.5"/><circle cx="268.1" cy="84.6" r="0.5"/><circle cx="263.7" cy="89.7" r="0.5"/><circle cx="265.0" cy="79.5" r="0.5"/><circle cx="267.8" cy="84.3" r="0.5"/><circle cx="267.3" cy="80.4" r="0.5"/><circle cx="271.0" cy="81.1" r="0.5"/><circle cx="268.8" cy="85.0" r="0.5"/><circle cx="265.0" cy="85.9" r="0.5"/><circle cx="263.7" cy="80.6" r="0.5"/><circle cx="268.8" cy="82.7" r="0.5"/><circle cx="264.2" cy="85.8" r="0.5"/><circle cx="270.2" cy="79.1" r="0.5"/><circle cx="269.2" cy="81.6" r="0.5"/><circle cx="268.1" cy="83.9" r="0.5"/><circle cx="258.5" cy="88.0" r="0.5"/><circle cx="263.6" cy="88.4" r="0.5"/><circle cx="270.5" cy="78.7" r="0.5"/><circle cx="262.6" cy="91.1" r="0.5"/><circle cx="263.5" cy="84.0" r="0.5"/><circle cx="266.7" cy="81.4" r="0.5"/><circle cx="269.4" cy="81.8" r="0.5"/><circle cx="265.0" cy="89.6" r="0.5"/><circle cx="267.0" cy="84.1" r="0.5"/><circle cx="273.4" cy="79.6" r="0.5"/><circle cx="256.9" cy="93.0" r="0.5"/><circle cx="266.1" cy="85.2" r="0.5"/><circle cx="271.2" cy="82.9" r="0.5"/><circle cx="259.0" cy="90.9" r="0.5"/><circle cx="270.3" cy="78.7" r="0.5"/><circle cx="274.3" cy="78.5" r="0.5"/><circle cx="269.1" cy="78.6" r="0.5"/><circle cx="259.4" cy="89.7" r="0.5"/><circle cx="266.2" cy="84.2" r="0.5"/><circle cx="270.3" cy="78.9" r="0.5"/><circle cx="264.6" cy="90.1" r="0.5"/><circle cx="269.2" cy="79.2" r="0.5"/><circle cx="260.6" cy="79.1" r="0.5"/><circle cx="261.7" cy="87.9" r="0.5"/><circle cx="268.2" cy="81.3" r="0.5"/><circle cx="264.9" cy="83.4" r="0.5"/><circle cx="265.5" cy="88.6" r="0.5"/><circle cx="275.6" cy="77.2" r="0.5"/><circle cx="261.7" cy="82.2" r="0.5"/><circle cx="268.0" cy="79.0" r="0.5"/><circle cx="265.4" cy="85.3" r="0.5"/><circle cx="271.0" cy="76.5" r="0.5"/><circle cx="266.1" cy="85.9" r="0.5"/><circle cx="269.6" cy="79.8" r="0.5"/><circle cx="268.7" cy="83.0" r="0.5"/><circle cx="262.3" cy="83.0" r="0.5"/><circle cx="267.9" cy="86.2" r="0.5"/><circle cx="260.7" cy="87.0" r="0.5"/><circle cx="272.0" cy="82.0" r="0.5"/><circle cx="268.3" cy="82.4" r="0.5"/><circle cx="258.0" cy="88.5" r="0.5"/><circle cx="261.2" cy="83.9" r="0.5"/><circle cx="268.5" cy="78.4" r="0.5"/><circle cx="274.0" cy="72.7" r="0.5"/><circle cx="267.0" cy="81.7" r="0.5"/><circle cx="266.9" cy="85.9" r="0.5"/><circle cx="261.9" cy="87.2" r="0.5"/><circle cx="269.6" cy="78.0" r="0.5"/><circle cx="275.0" cy="71.3" r="0.5"/><circle cx="269.9" cy="80.7" r="0.5"/><circle cx="268.2" cy="81.6" r="0.5"/><circle cx="265.3" cy="85.8" r="0.5"/><circle cx="263.0" cy="84.4" r="0.5"/><circle cx="270.7" cy="74.1" r="0.5"/><circle cx="268.2" cy="80.2" r="0.5"/><circle cx="255.3" cy="88.2" r="0.5"/><circle cx="263.5" cy="87.9" r="0.5"/><circle cx="271.4" cy="78.3" r="0.5"/><circle cx="271.6" cy="78.7" r="0.5"/><circle cx="267.5" cy="83.0" r="0.5"/><circle cx="269.6" cy="77.2" r="0.5"/><circle cx="260.9" cy="92.7" r="0.5"/><circle cx="267.2" cy="83.7" r="0.5"/><circle cx="271.3" cy="79.8" r="0.5"/><circle cx="268.2" cy="85.8" r="0.5"/><circle cx="270.6" cy="78.9" r="0.5"/><circle cx="266.9" cy="82.0" r="0.5"/><circle cx="265.1" cy="83.1" r="0.5"/><circle cx="268.2" cy="79.2" r="0.5"/><circle cx="265.1" cy="87.0" r="0.5"/><circle cx="269.4" cy="84.9" r="0.5"/><circle cx="264.4" cy="85.7" r="0.5"/><circle cx="267.1" cy="85.5" r="0.5"/><circle cx="266.9" cy="84.7" r="0.5"/><circle cx="260.0" cy="88.7" r="0.5"/><circle cx="272.5" cy="77.6" r="0.5"/><circle cx="269.5" cy="83.5" r="0.5"/><circle cx="266.6" cy="81.3" r="0.5"/><circle cx="266.9" cy="82.1" r="0.5"/><circle cx="266.5" cy="83.7" r="0.5"/><circle cx="271.6" cy="81.9" r="0.5"/><circle cx="271.4" cy="76.5" r="0.5"/><circle cx="269.3" cy="84.3" r="0.5"/><circle cx="263.6" cy="84.8" r="0.5"/><circle cx="274.7" cy="77.4" r="0.5"/><circle cx="269.2" cy="79.8" r="0.5"/><circle cx="273.4" cy="79.5" r="0.5"/><circle cx="267.3" cy="83.5" r="0.5"/><circle cx="269.0" cy="80.8" r="0.5"/><circle cx="268.9" cy="85.1" r="0.5"/><circle cx="263.6" cy="82.6" r="0.5"/><circle cx="273.2" cy="81.8" r="0.5"/><circle cx="265.4" cy="85.9" r="0.5"/><circle cx="266.2" cy="81.9" r="0.5"/><circle cx="264.3" cy="86.7" r="0.5"/><circle cx="260.4" cy="90.3" r="0.5"/><circle cx="280.8" cy="76.5" r="0.5"/><circle cx="258.9" cy="91.0" r="0.5"/><circle cx="263.3" cy="87.5" r="0.5"/><circle cx="264.9" cy="84.7" r="0.5"/><circle cx="267.8" cy="83.5" r="0.5"/><circle cx="268.8" cy="83.1" r="0.5"/><circle cx="273.3" cy="82.0" r="0.5"/><circle cx="269.7" cy="80.9" r="0.5"/><circle cx="272.0" cy="79.5" r="0.5"/><circle cx="269.1" cy="78.7" r="0.5"/><circle cx="262.8" cy="90.2" r="0.5"/><circle cx="260.2" cy="87.3" r="0.5"/><circle cx="265.0" cy="82.9" r="0.5"/><circle cx="270.0" cy="81.0" r="0.5"/><circle cx="270.3" cy="84.0" r="0.5"/><circle cx="266.9" cy="82.3" r="0.5"/><circle cx="261.4" cy="87.0" r="0.5"/><circle cx="264.1" cy="86.5" r="0.5"/><circle cx="273.4" cy="76.4" r="0.5"/><circle cx="264.9" cy="80.1" r="0.5"/><circle cx="272.5" cy="75.0" r="0.5"/><circle cx="265.7" cy="80.4" r="0.5"/><circle cx="270.1" cy="80.3" r="0.5"/><circle cx="265.2" cy="88.9" r="0.5"/><circle cx="273.1" cy="77.8" r="0.5"/><circle cx="265.2" cy="85.4" r="0.5"/><circle cx="265.0" cy="86.5" r="0.5"/><circle cx="264.2" cy="84.0" r="0.5"/><circle cx="269.2" cy="85.7" r="0.5"/><circle cx="262.5" cy="90.2" r="0.5"/><circle cx="270.0" cy="82.0" r="0.5"/><circle cx="268.7" cy="83.1" r="0.5"/><circle cx="258.6" cy="91.3" r="0.5"/><circle cx="258.5" cy="91.3" r="0.5"/><circle cx="266.2" cy="84.7" r="0.5"/><circle cx="267.2" cy="80.9" r="0.5"/><circle cx="266.9" cy="87.0" r="0.5"/><circle cx="271.3" cy="78.7" r="0.5"/><circle cx="263.6" cy="86.2" r="0.5"/><circle cx="270.4" cy="80.7" r="0.5"/><circle cx="269.3" cy="84.0" r="0.5"/><circle cx="269.3" cy="82.2" r="0.5"/><circle cx="266.7" cy="83.9" r="0.5"/><circle cx="266.4" cy="81.2" r="0.5"/><circle cx="262.7" cy="83.1" r="0.5"/><circle cx="264.0" cy="82.8" r="0.5"/><circle cx="270.0" cy="83.5" r="0.5"/><circle cx="265.8" cy="86.0" r="0.5"/><circle cx="268.1" cy="77.1" r="0.5"/><circle cx="269.1" cy="76.2" r="0.5"/><circle cx="259.2" cy="87.6" r="0.5"/><circle cx="258.6" cy="87.3" r="0.5"/><circle cx="268.1" cy="83.5" r="0.5"/><circle cx="270.5" cy="81.0" r="0.5"/><circle cx="271.3" cy="78.3" r="0.5"/><circle cx="267.2" cy="86.6" r="0.5"/><circle cx="265.9" cy="87.4" r="0.5"/><circle cx="263.6" cy="82.2" r="0.5"/><circle cx="262.4" cy="86.2" r="0.5"/><circle cx="267.8" cy="83.3" r="0.5"/><circle cx="270.2" cy="81.3" r="0.5"/><circle cx="268.7" cy="76.8" r="0.5"/><circle cx="270.7" cy="83.4" r="0.5"/><circle cx="264.9" cy="87.0" r="0.5"/><circle cx="269.6" cy="78.3" r="0.5"/><circle cx="257.3" cy="90.7" r="0.5"/><circle cx="266.8" cy="85.4" r="0.5"/><circle cx="269.7" cy="81.8" r="0.5"/><circle cx="265.7" cy="83.4" r="0.5"/><circle cx="264.2" cy="85.8" r="0.5"/><circle cx="265.2" cy="84.7" r="0.5"/><circle cx="262.8" cy="84.6" r="0.5"/><circle cx="267.6" cy="80.9" r="0.5"/><circle cx="271.0" cy="81.8" r="0.5"/><circle cx="265.8" cy="90.3" r="0.5"/><circle cx="259.7" cy="86.1" r="0.5"/><circle cx="260.5" cy="87.0" r="0.5"/><circle cx="268.1" cy="85.2" r="0.5"/><circle cx="269.8" cy="84.1" r="0.5"/><circle cx="259.2" cy="92.8" r="0.5"/><circle cx="260.1" cy="87.4" r="0.5"/><circle cx="277.7" cy="77.1" r="0.5"/><circle cx="265.9" cy="82.1" r="0.5"/><circle cx="262.2" cy="84.0" r="0.5"/><circle cx="265.7" cy="86.2" r="0.5"/><circle cx="268.6" cy="82.1" r="0.5"/><circle cx="265.6" cy="86.1" r="0.5"/><circle cx="271.5" cy="83.8" r="0.5"/><circle cx="268.9" cy="83.7" r="0.5"/><circle cx="270.5" cy="81.3" r="0.5"/><circle cx="269.2" cy="81.5" r="0.5"/><circle cx="268.3" cy="78.9" r="0.5"/><circle cx="262.0" cy="85.7" r="0.5"/><circle cx="264.2" cy="84.9" r="0.5"/><circle cx="271.8" cy="79.1" r="0.5"/><circle cx="266.8" cy="83.6" r="0.5"/><circle cx="268.3" cy="78.7" r="0.5"/><circle cx="265.5" cy="82.2" r="0.5"/><circle cx="271.0" cy="83.3" r="0.5"/><circle cx="268.8" cy="83.3" r="0.5"/><circle cx="271.3" cy="77.4" r="0.5"/><circle cx="265.7" cy="79.5" r="0.5"/><circle cx="268.4" cy="82.4" r="0.5"/><circle cx="269.3" cy="86.6" r="0.5"/><circle cx="267.6" cy="81.6" r="0.5"/><circle cx="265.1" cy="84.7" r="0.5"/><circle cx="259.9" cy="91.0" r="0.5"/><circle cx="264.0" cy="86.7" r="0.5"/><circle cx="271.2" cy="83.1" r="0.5"/><circle cx="265.5" cy="84.4" r="0.5"/><circle cx="267.5" cy="83.7" r="0.5"/><circle cx="264.6" cy="85.8" r="0.5"/><circle cx="265.2" cy="85.7" r="0.5"/><circle cx="272.9" cy="77.1" r="0.5"/><circle cx="273.0" cy="78.1" r="0.5"/><circle cx="273.3" cy="79.6" r="0.5"/><circle cx="259.6" cy="88.5" r="0.5"/><circle cx="261.2" cy="90.2" r="0.5"/><circle cx="263.8" cy="89.0" r="0.5"/><circle cx="267.0" cy="84.5" r="0.5"/><circle cx="260.1" cy="84.1" r="0.5"/><circle cx="263.8" cy="85.0" r="0.5"/><circle cx="268.1" cy="83.7" r="0.5"/><circle cx="263.3" cy="87.5" r="0.5"/><circle cx="266.2" cy="87.2" r="0.5"/><circle cx="264.3" cy="86.3" r="0.5"/><circle cx="272.2" cy="79.8" r="0.5"/><circle cx="271.3" cy="81.7" r="0.5"/><circle cx="270.3" cy="81.4" r="0.5"/><circle cx="265.8" cy="89.1" r="0.5"/><circle cx="273.4" cy="81.2" r="0.5"/><circle cx="266.2" cy="85.5" r="0.5"/><circle cx="258.6" cy="91.7" r="0.5"/><circle cx="263.9" cy="85.3" r="0.5"/><circle cx="268.5" cy="80.8" r="0.5"/><circle cx="266.6" cy="79.2" r="0.5"/><circle cx="274.6" cy="73.3" r="0.5"/><circle cx="261.4" cy="85.5" r="0.5"/><circle cx="267.5" cy="77.4" r="0.5"/><circle cx="265.6" cy="88.8" r="0.5"/><circle cx="260.8" cy="87.6" r="0.5"/><circle cx="264.2" cy="88.4" r="0.5"/><circle cx="264.3" cy="86.5" r="0.5"/></g>
<g fill="#a08a50" fill-opacity="0.4"><circle cx="265.8" cy="85.0" r="0.55"/><circle cx="264.6" cy="87.9" r="0.55"/><circle cx="266.5" cy="84.3" r="0.55"/><circle cx="267.6" cy="83.8" r="0.55"/><circle cx="267.3" cy="84.6" r="0.55"/><circle cx="267.3" cy="83.2" r="0.55"/><circle cx="268.6" cy="83.6" r="0.55"/><circle cx="265.6" cy="84.9" r="0.55"/><circle cx="268.6" cy="83.2" r="0.55"/><circle cx="264.3" cy="85.2" r="0.55"/><circle cx="269.5" cy="80.4" r="0.55"/><circle cx="265.7" cy="85.5" r="0.55"/><circle cx="266.7" cy="87.6" r="0.55"/><circle cx="264.9" cy="85.1" r="0.55"/><circle cx="266.7" cy="83.4" r="0.55"/><circle cx="266.0" cy="86.7" r="0.55"/><circle cx="269.7" cy="84.1" r="0.55"/><circle cx="266.5" cy="83.7" r="0.55"/><circle cx="265.7" cy="84.6" r="0.55"/><circle cx="267.3" cy="84.5" r="0.55"/><circle cx="267.0" cy="85.8" r="0.55"/><circle cx="267.1" cy="82.6" r="0.55"/><circle cx="268.8" cy="81.7" r="0.55"/><circle cx="267.5" cy="85.6" r="0.55"/><circle cx="267.4" cy="83.3" r="0.55"/><circle cx="267.9" cy="84.5" r="0.55"/><circle cx="263.6" cy="83.9" r="0.55"/><circle cx="268.1" cy="81.2" r="0.55"/><circle cx="268.4" cy="86.7" r="0.55"/><circle cx="266.8" cy="85.9" r="0.55"/><circle cx="266.9" cy="87.6" r="0.55"/><circle cx="266.9" cy="87.1" r="0.55"/><circle cx="268.4" cy="85.7" r="0.55"/><circle cx="268.2" cy="82.5" r="0.55"/><circle cx="264.5" cy="84.3" r="0.55"/><circle cx="268.3" cy="85.4" r="0.55"/><circle cx="267.1" cy="85.0" r="0.55"/><circle cx="269.2" cy="83.2" r="0.55"/><circle cx="268.8" cy="83.8" r="0.55"/><circle cx="265.5" cy="84.8" r="0.55"/><circle cx="266.5" cy="83.9" r="0.55"/><circle cx="266.1" cy="83.0" r="0.55"/><circle cx="268.3" cy="84.9" r="0.55"/><circle cx="269.3" cy="82.3" r="0.55"/><circle cx="270.0" cy="85.2" r="0.55"/><circle cx="269.4" cy="82.8" r="0.55"/><circle cx="266.1" cy="86.3" r="0.55"/><circle cx="266.9" cy="83.1" r="0.55"/><circle cx="264.5" cy="84.1" r="0.55"/><circle cx="267.7" cy="81.8" r="0.55"/></g>
<g fill="#7078b0" fill-opacity="0.18"><circle cx="277.0" cy="99.3" r="0.5"/><circle cx="267.8" cy="102.1" r="0.5"/><circle cx="270.9" cy="103.5" r="0.5"/><circle cx="267.4" cy="94.1" r="0.5"/><circle cx="267.5" cy="101.3" r="0.5"/><circle cx="267.3" cy="104.1" r="0.5"/><circle cx="273.2" cy="103.7" r="0.5"/><circle cx="270.4" cy="106.6" r="0.5"/><circle cx="266.3" cy="103.7" r="0.5"/><circle cx="270.7" cy="111.5" r="0.5"/><circle cx="274.0" cy="98.5" r="0.5"/><circle cx="275.9" cy="94.6" r="0.5"/><circle cx="274.8" cy="102.8" r="0.5"/><circle cx="272.2" cy="100.5" r="0.5"/><circle cx="268.9" cy="92.7" r="0.5"/><circle cx="273.5" cy="99.8" r="0.5"/><circle cx="272.2" cy="95.9" r="0.5"/><circle cx="273.4" cy="103.7" r="0.5"/><circle cx="268.5" cy="102.5" r="0.5"/><circle cx="268.7" cy="105.0" r="0.5"/><circle cx="275.4" cy="93.1" r="0.5"/><circle cx="262.3" cy="97.6" r="0.5"/><circle cx="265.5" cy="106.6" r="0.5"/><circle cx="265.7" cy="85.1" r="0.5"/><circle cx="268.6" cy="96.0" r="0.5"/><circle cx="263.5" cy="98.8" r="0.5"/><circle cx="270.1" cy="96.2" r="0.5"/><circle cx="273.5" cy="98.5" r="0.5"/><circle cx="272.8" cy="86.4" r="0.5"/><circle cx="270.5" cy="97.6" r="0.5"/><circle cx="268.0" cy="101.9" r="0.5"/><circle cx="269.8" cy="104.0" r="0.5"/><circle cx="269.5" cy="104.0" r="0.5"/><circle cx="268.0" cy="84.7" r="0.5"/><circle cx="268.2" cy="88.6" r="0.5"/><circle cx="266.8" cy="95.4" r="0.5"/><circle cx="268.7" cy="101.6" r="0.5"/><circle cx="269.5" cy="97.5" r="0.5"/><circle cx="271.5" cy="97.8" r="0.5"/><circle cx="264.8" cy="102.8" r="0.5"/><circle cx="266.0" cy="103.2" r="0.5"/><circle cx="275.7" cy="100.8" r="0.5"/><circle cx="272.2" cy="109.1" r="0.5"/><circle cx="269.3" cy="95.6" r="0.5"/><circle cx="272.7" cy="106.3" r="0.5"/><circle cx="266.8" cy="105.5" r="0.5"/><circle cx="268.7" cy="98.7" r="0.5"/><circle cx="263.8" cy="94.7" r="0.5"/><circle cx="271.1" cy="91.2" r="0.5"/><circle cx="270.8" cy="106.0" r="0.5"/><circle cx="272.1" cy="94.4" r="0.5"/><circle cx="270.2" cy="111.0" r="0.5"/><circle cx="277.4" cy="93.5" r="0.5"/><circle cx="271.6" cy="98.3" r="0.5"/><circle cx="274.8" cy="99.9" r="0.5"/><circle cx="270.1" cy="97.5" r="0.5"/><circle cx="276.2" cy="95.4" r="0.5"/><circle cx="267.3" cy="92.1" r="0.5"/><circle cx="266.7" cy="98.6" r="0.5"/><circle cx="271.6" cy="91.3" r="0.5"/><circle cx="268.1" cy="92.8" r="0.5"/><circle cx="270.9" cy="94.5" r="0.5"/><circle cx="270.2" cy="90.9" r="0.5"/><circle cx="272.6" cy="97.6" r="0.5"/><circle cx="271.8" cy="99.6" r="0.5"/><circle cx="265.5" cy="100.1" r="0.5"/><circle cx="274.3" cy="98.0" r="0.5"/><circle cx="268.6" cy="104.5" r="0.5"/><circle cx="266.2" cy="101.5" r="0.5"/><circle cx="267.8" cy="106.5" r="0.5"/><circle cx="265.8" cy="94.2" r="0.5"/><circle cx="270.8" cy="102.9" r="0.5"/><circle cx="269.2" cy="93.9" r="0.5"/><circle cx="270.4" cy="97.4" r="0.5"/><circle cx="273.2" cy="93.3" r="0.5"/><circle cx="263.9" cy="90.4" r="0.5"/><circle cx="271.7" cy="108.5" r="0.5"/><circle cx="271.4" cy="100.8" r="0.5"/><circle cx="269.5" cy="111.7" r="0.5"/><circle cx="269.3" cy="111.7" r="0.5"/><circle cx="271.1" cy="101.0" r="0.5"/><circle cx="267.4" cy="97.3" r="0.5"/><circle cx="269.5" cy="91.4" r="0.5"/><circle cx="268.6" cy="100.3" r="0.5"/><circle cx="268.1" cy="102.7" r="0.5"/><circle cx="266.8" cy="103.2" r="0.5"/><circle cx="270.2" cy="106.1" r="0.5"/><circle cx="271.9" cy="99.3" r="0.5"/><circle cx="270.3" cy="98.3" r="0.5"/><circle cx="267.3" cy="95.7" r="0.5"/><circle cx="267.8" cy="103.3" r="0.5"/><circle cx="268.5" cy="96.0" r="0.5"/><circle cx="267.0" cy="104.4" r="0.5"/><circle cx="267.2" cy="100.6" r="0.5"/><circle cx="272.2" cy="111.6" r="0.5"/><circle cx="265.4" cy="92.8" r="0.5"/><circle cx="269.2" cy="95.7" r="0.5"/><circle cx="273.6" cy="98.5" r="0.5"/><circle cx="274.2" cy="101.1" r="0.5"/><circle cx="269.6" cy="99.1" r="0.5"/><circle cx="268.1" cy="95.2" r="0.5"/><circle cx="271.1" cy="107.9" r="0.5"/><circle cx="268.9" cy="89.0" r="0.5"/><circle cx="272.9" cy="98.0" r="0.5"/><circle cx="273.5" cy="108.0" r="0.5"/><circle cx="265.6" cy="106.3" r="0.5"/><circle cx="265.9" cy="98.3" r="0.5"/><circle cx="265.9" cy="93.6" r="0.5"/><circle cx="273.6" cy="98.0" r="0.5"/><circle cx="266.3" cy="107.2" r="0.5"/><circle cx="272.6" cy="100.3" r="0.5"/><circle cx="270.8" cy="101.2" r="0.5"/><circle cx="273.3" cy="86.0" r="0.5"/><circle cx="267.7" cy="102.0" r="0.5"/><circle cx="269.0" cy="108.5" r="0.5"/><circle cx="269.6" cy="92.1" r="0.5"/><circle cx="274.7" cy="84.7" r="0.5"/><circle cx="268.1" cy="106.5" r="0.5"/><circle cx="277.8" cy="108.3" r="0.5"/><circle cx="272.5" cy="98.1" r="0.5"/><circle cx="275.1" cy="96.8" r="0.5"/><circle cx="270.1" cy="90.3" r="0.5"/><circle cx="268.0" cy="93.3" r="0.5"/><circle cx="269.4" cy="107.7" r="0.5"/><circle cx="267.3" cy="109.0" r="0.5"/><circle cx="269.6" cy="113.8" r="0.5"/><circle cx="268.4" cy="103.2" r="0.5"/><circle cx="260.0" cy="104.6" r="0.5"/><circle cx="267.5" cy="96.6" r="0.5"/><circle cx="270.6" cy="101.9" r="0.5"/><circle cx="274.7" cy="109.5" r="0.5"/><circle cx="265.6" cy="95.9" r="0.5"/><circle cx="273.0" cy="102.1" r="0.5"/><circle cx="269.4" cy="112.4" r="0.5"/><circle cx="267.5" cy="103.9" r="0.5"/><circle cx="270.5" cy="100.9" r="0.5"/><circle cx="273.7" cy="106.5" r="0.5"/><circle cx="271.9" cy="97.4" r="0.5"/><circle cx="268.8" cy="104.7" r="0.5"/><circle cx="264.7" cy="103.3" r="0.5"/><circle cx="269.1" cy="101.3" r="0.5"/><circle cx="267.7" cy="109.6" r="0.5"/><circle cx="267.9" cy="110.5" r="0.5"/><circle cx="273.0" cy="99.3" r="0.5"/><circle cx="270.2" cy="100.9" r="0.5"/><circle cx="269.4" cy="103.4" r="0.5"/><circle cx="270.6" cy="95.2" r="0.5"/><circle cx="268.9" cy="105.4" r="0.5"/><circle cx="269.5" cy="100.2" r="0.5"/><circle cx="269.1" cy="98.4" r="0.5"/><circle cx="273.8" cy="97.2" r="0.5"/><circle cx="268.5" cy="101.3" r="0.5"/><circle cx="273.0" cy="101.5" r="0.5"/><circle cx="268.9" cy="91.4" r="0.5"/><circle cx="267.0" cy="99.5" r="0.5"/><circle cx="269.9" cy="91.9" r="0.5"/><circle cx="270.9" cy="88.3" r="0.5"/><circle cx="271.3" cy="98.5" r="0.5"/><circle cx="267.3" cy="90.2" r="0.5"/><circle cx="267.1" cy="95.2" r="0.5"/><circle cx="268.2" cy="100.4" r="0.5"/><circle cx="267.1" cy="90.2" r="0.5"/><circle cx="271.6" cy="96.6" r="0.5"/><circle cx="272.4" cy="97.0" r="0.5"/><circle cx="272.3" cy="90.3" r="0.5"/><circle cx="265.1" cy="105.3" r="0.5"/><circle cx="263.2" cy="96.0" r="0.5"/><circle cx="271.4" cy="101.3" r="0.5"/><circle cx="276.0" cy="100.8" r="0.5"/><circle cx="274.5" cy="100.9" r="0.5"/><circle cx="275.1" cy="100.6" r="0.5"/><circle cx="271.9" cy="110.2" r="0.5"/><circle cx="276.9" cy="94.0" r="0.5"/><circle cx="264.0" cy="91.1" r="0.5"/><circle cx="270.0" cy="99.7" r="0.5"/><circle cx="271.7" cy="115.9" r="0.5"/><circle cx="272.6" cy="100.2" r="0.5"/><circle cx="275.0" cy="104.8" r="0.5"/><circle cx="260.0" cy="107.4" r="0.5"/><circle cx="270.4" cy="98.3" r="0.5"/><circle cx="265.6" cy="99.2" r="0.5"/><circle cx="277.0" cy="101.9" r="0.5"/><circle cx="266.4" cy="104.1" r="0.5"/><circle cx="265.0" cy="107.9" r="0.5"/><circle cx="271.7" cy="99.8" r="0.5"/><circle cx="271.9" cy="94.0" r="0.5"/><circle cx="268.5" cy="100.6" r="0.5"/><circle cx="270.0" cy="114.3" r="0.5"/><circle cx="271.5" cy="94.3" r="0.5"/><circle cx="269.1" cy="96.5" r="0.5"/><circle cx="271.2" cy="90.4" r="0.5"/><circle cx="272.9" cy="97.1" r="0.5"/><circle cx="272.5" cy="109.7" r="0.5"/><circle cx="272.9" cy="92.7" r="0.5"/><circle cx="267.9" cy="89.8" r="0.5"/><circle cx="268.3" cy="98.8" r="0.5"/><circle cx="273.1" cy="101.4" r="0.5"/><circle cx="271.0" cy="96.3" r="0.5"/><circle cx="266.4" cy="99.3" r="0.5"/><circle cx="266.8" cy="97.5" r="0.5"/><circle cx="268.0" cy="108.5" r="0.5"/><circle cx="268.4" cy="116.3" r="0.5"/><circle cx="272.6" cy="98.7" r="0.5"/><circle cx="270.6" cy="111.8" r="0.5"/><circle cx="264.0" cy="106.7" r="0.5"/><circle cx="275.3" cy="102.8" r="0.5"/><circle cx="264.6" cy="91.8" r="0.5"/><circle cx="271.0" cy="101.8" r="0.5"/><circle cx="273.1" cy="91.6" r="0.5"/><circle cx="269.9" cy="109.9" r="0.5"/><circle cx="271.4" cy="94.8" r="0.5"/><circle cx="268.8" cy="98.6" r="0.5"/><circle cx="276.6" cy="112.0" r="0.5"/><circle cx="268.4" cy="100.2" r="0.5"/><circle cx="270.0" cy="103.6" r="0.5"/><circle cx="269.1" cy="98.4" r="0.5"/><circle cx="267.2" cy="105.5" r="0.5"/><circle cx="272.4" cy="100.1" r="0.5"/><circle cx="269.2" cy="108.5" r="0.5"/><circle cx="270.5" cy="83.2" r="0.5"/><circle cx="268.4" cy="99.9" r="0.5"/><circle cx="270.2" cy="98.7" r="0.5"/><circle cx="266.7" cy="103.3" r="0.5"/><circle cx="271.0" cy="95.1" r="0.5"/><circle cx="269.2" cy="101.2" r="0.5"/><circle cx="270.6" cy="101.5" r="0.5"/><circle cx="266.5" cy="94.9" r="0.5"/><circle cx="270.1" cy="104.6" r="0.5"/><circle cx="267.7" cy="98.3" r="0.5"/><circle cx="268.3" cy="104.7" r="0.5"/><circle cx="273.0" cy="91.4" r="0.5"/><circle cx="271.6" cy="95.3" r="0.5"/><circle cx="266.4" cy="105.7" r="0.5"/><circle cx="272.7" cy="116.6" r="0.5"/><circle cx="270.3" cy="112.7" r="0.5"/><circle cx="268.6" cy="97.8" r="0.5"/><circle cx="272.8" cy="93.9" r="0.5"/><circle cx="270.0" cy="106.0" r="0.5"/></g>
<polygon points="229.2,67.8 273.5,67.8 251.6,92.6 229.2,92.6" fill="none" stroke="#D42C8E" stroke-width="1.1" stroke-linejoin="miter"/>
<polygon points="273.5,67.8 282.0,75.4 258.7,99.7 251.6,92.6" fill="none" stroke="#D42C8E" stroke-width="1.1" stroke-linejoin="miter"/>
<polygon points="258.7,99.7 282.0,75.4 282.0,117.6 258.7,117.6" fill="none" stroke="#D42C8E" stroke-width="1.1" stroke-linejoin="miter"/>
<path d="M226.5 116.9 H228.7 M227.5 112.6 H228.7 M227.5 110.0 H228.7 M227.5 108.2 H228.7 M227.5 106.8 H228.7 M227.5 105.7 H228.7 M227.5 104.7 H228.7 M227.5 103.9 H228.7 M227.5 103.2 H228.7 M226.5 102.5 H228.7 M227.5 98.2 H228.7 M227.5 95.6 H228.7 M227.5 93.8 H228.7 M227.5 92.4 H228.7 M227.5 91.3 H228.7 M227.5 90.3 H228.7 M227.5 89.5 H228.7 M227.5 88.8 H228.7 M226.5 88.1 H228.7 M227.5 83.8 H228.7 M227.5 81.2 H228.7 M227.5 79.4 H228.7 M227.5 78.0 H228.7 M227.5 76.9 H228.7 M227.5 75.9 H228.7 M227.5 75.1 H228.7 M227.5 74.4 H228.7 M226.5 73.7 H228.7 M227.5 69.4 H228.7 M227.5 66.8 H228.7 M227.5 65.0 H228.7 M227.5 63.6 H228.7 M227.5 62.5 H228.7 M227.5 61.5 H228.7 M227.5 60.7 H228.7 M227.5 60.0 H228.7 M226.5 59.3 H228.7 M230.2 118.0 V120.2 M234.5 118.0 V119.2 M237.1 118.0 V119.2 M238.9 118.0 V119.2 M240.3 118.0 V119.2 M241.4 118.0 V119.2 M242.4 118.0 V119.2 M243.2 118.0 V119.2 M243.9 118.0 V119.2 M244.6 118.0 V120.2 M248.9 118.0 V119.2 M251.5 118.0 V119.2 M253.3 118.0 V119.2 M254.7 118.0 V119.2 M255.8 118.0 V119.2 M256.8 118.0 V119.2 M257.6 118.0 V119.2 M258.3 118.0 V119.2 M259.0 118.0 V120.2 M263.3 118.0 V119.2 M265.9 118.0 V119.2 M267.7 118.0 V119.2 M269.1 118.0 V119.2 M270.2 118.0 V119.2 M271.2 118.0 V119.2 M272.0 118.0 V119.2 M272.7 118.0 V119.2 M273.4 118.0 V120.2 M277.7 118.0 V119.2 M280.3 118.0 V119.2 M282.1 118.0 V119.2 M283.5 118.0 V119.2 M284.6 118.0 V119.2 M285.6 118.0 V119.2 M286.4 118.0 V119.2 M287.1 118.0 V119.2 M287.8 118.0 V120.2" stroke="#111" stroke-width="0.65" fill="none"/>
<text x="237.89999999999998" y="66.2" font-size="7.4" text-anchor="start" fill="#000" style="stroke:#000;stroke-width:0.12px" >52.6</text>
<text x="277.79999999999995" y="66.2" font-size="7.4" text-anchor="start" fill="#000" style="stroke:#000;stroke-width:0.12px" >24.6</text>
<text x="242.29999999999998" y="117.6" font-size="7.4" text-anchor="start" fill="#000" style="stroke:#000;stroke-width:0.12px" >21.0</text>
<text x="223.6" y="130.2" font-size="7.6">10<tspan dy="-2.8" font-size="5.4">0</tspan></text>
<text x="237.3" y="130.2" font-size="7.6">10<tspan dy="-2.8" font-size="5.4">1</tspan></text>
<text x="253.5" y="130.2" font-size="7.6">10<tspan dy="-2.8" font-size="5.4">2</tspan></text>
<text x="268.4" y="130.2" font-size="7.6">10<tspan dy="-2.8" font-size="5.4">3</tspan></text>
<text x="283.0" y="130.2" font-size="7.6">10<tspan dy="-2.8" font-size="5.4">4</tspan></text>
<text x="149.6" y="119.6" font-size="7.6" text-anchor="end">10<tspan dy="-2.8" font-size="5.4">0</tspan></text>
<text x="149.6" y="105.2" font-size="7.6" text-anchor="end">10<tspan dy="-2.8" font-size="5.4">1</tspan></text>
<text x="149.6" y="90.8" font-size="7.6" text-anchor="end">10<tspan dy="-2.8" font-size="5.4">2</tspan></text>
<text x="149.6" y="76.4" font-size="7.6" text-anchor="end">10<tspan dy="-2.8" font-size="5.4">3</tspan></text>
<text x="149.6" y="62.0" font-size="7.6" text-anchor="end">10<tspan dy="-2.8" font-size="5.4">4</tspan></text>
<path d="M128.9 141 V103.5 M128.9 141 H169.5" stroke="#000" stroke-width="0.8" fill="none"/>
<path d="M126.9 104.3 L128.9 100.3 L130.9 104.3 Z M168.9 138.4 L172.9 140.4 L168.9 142.4 Z" fill="#000"/>
<text transform="translate(176.9,143.8) scale(0.61,1)" font-size="10.0" font-weight="bold">CD45.1</text>
<text transform="translate(132.3,96.3) rotate(-90) scale(0.62,1)" font-size="10.2" font-weight="bold">CD45.2</text>
<path d="M332.9 53.2 V118.0 H383.5" stroke="#000" stroke-width="1.15" fill="none"/>
<text x="326.79999999999995" y="59.199999999999996" font-size="7.9" text-anchor="end" fill="#000" style="stroke:#000;stroke-width:0.12px" >80</text>
<text x="326.79999999999995" y="74.6" font-size="7.9" text-anchor="end" fill="#000" style="stroke:#000;stroke-width:0.12px" >60</text>
<text x="326.79999999999995" y="90.0" font-size="7.9" text-anchor="end" fill="#000" style="stroke:#000;stroke-width:0.12px" >40</text>
<text x="326.79999999999995" y="105.39999999999999" font-size="7.9" text-anchor="end" fill="#000" style="stroke:#000;stroke-width:0.12px" >20</text>
<text x="326.79999999999995" y="120.8" font-size="7.9" text-anchor="end" fill="#000" style="stroke:#000;stroke-width:0.12px" >0</text>
<path d="M330.09999999999997 56.4 H332.9 M330.09999999999997 71.8 H332.9 M330.09999999999997 87.2 H332.9 M330.09999999999997 102.6 H332.9 M330.09999999999997 118.0 H332.9 M332.6 118.0 V120.4 M356.8 118.0 V120.4 M381.3 118.0 V120.4" stroke="#000" stroke-width="0.8" fill="none"/>
<rect x="339.7" y="67.6" width="10.300000000000011" height="50.4" fill="#A5002E"/>
<rect x="363.8" y="83.0" width="10.399999999999977" height="35.0" fill="#2D4B87" stroke="#1f3560" stroke-width="0.4"/>
<path d="M344.9 67.6 V61.2 M342.7 61.2 H347.1" stroke="#111" stroke-width="1.0" fill="none"/>
<path d="M369.0 83.0 V79.3 M366.8 79.3 H371.2" stroke="#111" stroke-width="1.0" fill="none"/>
<circle cx="369.0" cy="75.7" r="0.8" fill="#222"/>
<path d="M421.0 53.5 V118.2 H471.6" stroke="#000" stroke-width="1.15" fill="none"/>
<text x="414.9" y="58.0" font-size="7.9" text-anchor="end" fill="#000" style="stroke:#000;stroke-width:0.12px" >10</text>
<text x="414.9" y="70.60000000000001" font-size="7.9" text-anchor="end" fill="#000" style="stroke:#000;stroke-width:0.12px" >8</text>
<text x="414.9" y="83.2" font-size="7.9" text-anchor="end" fill="#000" style="stroke:#000;stroke-width:0.12px" >6</text>
<text x="414.9" y="95.8" font-size="7.9" text-anchor="end" fill="#000" style="stroke:#000;stroke-width:0.12px" >4</text>
<text x="414.9" y="108.4" font-size="7.9" text-anchor="end" fill="#000" style="stroke:#000;stroke-width:0.12px" >2</text>
<text x="414.9" y="121.0" font-size="7.9" text-anchor="end" fill="#000" style="stroke:#000;stroke-width:0.12px" >0</text>
<path d="M418.2 55.2 H421.0 M418.2 67.8 H421.0 M418.2 80.4 H421.0 M418.2 93.0 H421.0 M418.2 105.6 H421.0 M418.2 118.2 H421.0 M421.4 118.2 V120.60000000000001 M445.0 118.2 V120.60000000000001 M468.8 118.2 V120.60000000000001" stroke="#000" stroke-width="0.8" fill="none"/>
<rect x="428.5" y="81.3" width="10.300000000000011" height="36.9" fill="#A5002E"/>
<rect x="452.2" y="101.4" width="9.900000000000034" height="16.8" fill="#2D4B87" stroke="#1f3560" stroke-width="0.4"/>
<path d="M433.6 81.3 V69.5 M431.4 69.5 H435.8" stroke="#111" stroke-width="1.0" fill="none"/>
<path d="M457.1 101.4 V98.5 M454.9 98.5 H459.3" stroke="#111" stroke-width="1.0" fill="none"/>
<circle cx="457.1" cy="95.2" r="0.8" fill="#222"/>
<text x="344.4" y="131.0" font-size="7.8" text-anchor="middle" fill="#000" style="stroke:#000;stroke-width:0.12px" >WT</text>
<text x="354.6" y="131.0" font-size="7.8" font-style="italic">Cebpb<tspan dy="-2.9" font-size="5.4" font-style="normal" fill="#333">-/-</tspan></text>
<text x="433.5" y="131.0" font-size="7.8" text-anchor="middle" fill="#000" style="stroke:#000;stroke-width:0.12px" >WT</text>
<text x="442.8" y="131.0" font-size="7.8" font-style="italic">Cebpb<tspan dy="-2.9" font-size="5.4" font-style="normal" fill="#333">-/-</tspan></text>
<text transform="translate(310.5,85.2) rotate(-90) scale(0.665,1)" font-size="9.5" font-weight="bold" text-anchor="middle">CD45.2 cells (%)</text>
<text transform="translate(400.3,85.0) rotate(-90) scale(0.655,1)" font-size="9.5" font-weight="bold" text-anchor="middle">CD45.2 / CD45.1</text>
<text x="102.3" y="166.8" font-size="12.0" text-anchor="start" fill="#000" style="stroke:#000;stroke-width:0.35px" font-weight="bold" >D</text>
<text x="134.9" y="180.6" font-size="9.6" text-anchor="start" fill="#000" style="stroke:#000;stroke-width:0.12px" font-weight="bold" >i</text>
<text x="206.4" y="180.8" font-size="9.6" text-anchor="start" fill="#000" style="stroke:#000;stroke-width:0.12px" font-weight="bold" >ii</text>
<text x="129.5" y="262.6" font-size="9.6" text-anchor="start" fill="#000" style="stroke:#000;stroke-width:0.12px" font-weight="bold" >iii</text>
<text x="204.9" y="263.0" font-size="9.6" text-anchor="start" fill="#000" style="stroke:#000;stroke-width:0.12px" font-weight="bold" >iv</text>
<text x="173.8" y="185.7" font-size="8.0" text-anchor="middle" fill="#000" style="stroke:#000;stroke-width:0.12px" >WT</text>
<text x="226.5" y="186.0" font-size="8.3" font-style="italic">Cebpb<tspan dy="-2.9" font-size="6" font-style="normal">-/-</tspan></text>
<text transform="translate(110.2,220.5) rotate(-90)" font-size="9.5" text-anchor="middle">Steady state</text>
<text transform="translate(110.3,298.3) rotate(-90)" font-size="9.4" text-anchor="middle">BMT 36 hours</text>
<text transform="translate(122.3,299.2) rotate(-90) scale(0.72,1)" font-size="8.6" font-weight="bold" text-anchor="middle">Ki67</text>
<path d="M119.7 357.6 V310.5 M119.7 357.6 H159.5" stroke="#000" stroke-width="0.8" fill="none"/>
<path d="M117.7 311.3 L119.7 307.3 L121.7 311.3 Z M159.0 355.6 L163.0 357.6 L159.0 359.6 Z" fill="#000"/>
<text transform="translate(166.7,360.6) scale(0.6,1)" font-size="9.4" font-weight="bold">7AAD</text>
<rect x="145.2" y="190.2" width="59.2" height="57.9" fill="#fff" stroke="#333" stroke-width="0.8"/>
<g stroke="#151515" stroke-linejoin="round"><path d="M153.2 238 C153 232 155.5 229.5 158 229.6 C161 229.8 162.6 233 162.4 238.5 C162.2 244 160.5 247.4 157.8 247.4 C155 247.4 153.3 244 153.2 238 Z" fill="#787878" stroke-width="0.60" transform="translate(0.00,0.00) scale(1)"/><path d="M153.2 238 C153 232 155.5 229.5 158 229.6 C161 229.8 162.6 233 162.4 238.5 C162.2 244 160.5 247.4 157.8 247.4 C155 247.4 153.3 244 153.2 238 Z" fill="#8a8a8a" stroke-width="0.73" transform="translate(28.40,43.11) scale(0.82)"/><path d="M153.2 238 C153 232 155.5 229.5 158 229.6 C161 229.8 162.6 233 162.4 238.5 C162.2 244 160.5 247.4 157.8 247.4 C155 247.4 153.3 244 153.2 238 Z" fill="#747474" stroke-width="0.94" transform="translate(56.81,86.22) scale(0.64)"/><path d="M153.2 238 C153 232 155.5 229.5 158 229.6 C161 229.8 162.6 233 162.4 238.5 C162.2 244 160.5 247.4 157.8 247.4 C155 247.4 153.3 244 153.2 238 Z" fill="#858585" stroke-width="1.30" transform="translate(85.21,129.33) scale(0.46)"/><path d="M153.2 238 C153 232 155.5 229.5 158 229.6 C161 229.8 162.6 233 162.4 238.5 C162.2 244 160.5 247.4 157.8 247.4 C155 247.4 153.3 244 153.2 238 Z" fill="#3a3a3a" stroke-width="2.14" transform="translate(113.62,172.44) scale(0.28)"/></g><path d="M151.6 229.8 C152.3 228.2 155 228.2 156.2 229.4 L154.4 231 Z" fill="#333" stroke="#111" stroke-width="0.5"/><g stroke="#151515" stroke-linejoin="round"><path d="M164.4 230.2 C165 227.4 169 226.4 171.6 228.2 C173.2 229.6 171.8 231.9 169 232.1 C166.5 232.3 164.6 231.6 164.4 230.2 Z" fill="#777" stroke-width="0.60" transform="translate(0.00,0.00) scale(1)"/><path d="M164.4 230.2 C165 227.4 169 226.4 171.6 228.2 C173.2 229.6 171.8 231.9 169 232.1 C166.5 232.3 164.6 231.6 164.4 230.2 Z" fill="#888" stroke-width="0.86" transform="translate(50.46,68.82) scale(0.7)"/><path d="M164.4 230.2 C165 227.4 169 226.4 171.6 228.2 C173.2 229.6 171.8 231.9 169 232.1 C166.5 232.3 164.6 231.6 164.4 230.2 Z" fill="#444" stroke-width="1.50" transform="translate(100.92,137.64) scale(0.4)"/></g>
<path d="M164.3 190.2 V248.1 M145.2 234.5 H204.4" stroke="#7B90C2" stroke-width="1.1" fill="none"/>
<path d="M143.2 247.3 H145.2 M144.1 243.0 H145.2 M144.1 240.5 H145.2 M144.1 238.8 H145.2 M144.1 237.4 H145.2 M144.1 236.3 H145.2 M144.1 235.3 H145.2 M144.1 234.5 H145.2 M144.1 233.8 H145.2 M143.2 233.1 H145.2 M144.1 228.9 H145.2 M144.1 226.4 H145.2 M144.1 224.6 H145.2 M144.1 223.2 H145.2 M144.1 222.1 H145.2 M144.1 221.1 H145.2 M144.1 220.3 H145.2 M144.1 219.6 H145.2 M143.2 218.9 H145.2 M144.1 214.7 H145.2 M144.1 212.2 H145.2 M144.1 210.4 H145.2 M144.1 209.0 H145.2 M144.1 207.9 H145.2 M144.1 207.0 H145.2 M144.1 206.1 H145.2 M144.1 205.4 H145.2 M143.2 204.8 H145.2 M144.1 200.5 H145.2 M144.1 198.0 H145.2 M144.1 196.2 H145.2 M144.1 194.9 H145.2 M144.1 193.7 H145.2 M144.1 192.8 H145.2 M144.1 192.0 H145.2 M144.1 191.2 H145.2 M143.2 190.6 H145.2 M145.7 248.1 V250.1 M148.0 248.1 V249.4 M150.4 248.1 V249.4 M152.7 248.1 V249.4 M155.0 248.1 V249.4 M157.3 248.1 V250.1 M159.7 248.1 V249.4 M162.0 248.1 V249.4 M164.3 248.1 V249.4 M166.7 248.1 V249.4 M169.0 248.1 V250.1 M171.3 248.1 V249.4 M173.6 248.1 V249.4 M176.0 248.1 V249.4 M178.3 248.1 V249.4 M180.6 248.1 V250.1 M182.9 248.1 V249.4 M185.3 248.1 V249.4 M187.6 248.1 V249.4 M189.9 248.1 V249.4 M192.3 248.1 V250.1 M194.6 248.1 V249.4 M196.9 248.1 V249.4 M199.2 248.1 V249.4 M201.6 248.1 V249.4 M203.9 248.1 V250.1" stroke="#222" stroke-width="0.6" fill="none"/>
<text x="154.8" y="208.7" font-size="7.4" text-anchor="middle" fill="#8a8a8a" style="stroke:#8a8a8a;stroke-width:0.12px" >G1</text>
<text x="154.8" y="216.4" font-size="7.6" text-anchor="middle" fill="#111" style="stroke:#111;stroke-width:0.2px" >9.4</text>
<text x="183.8" y="208.7" font-size="7.4" text-anchor="middle" fill="#8a8a8a" style="stroke:#8a8a8a;stroke-width:0.12px" >S-G2M</text>
<text x="183.8" y="216.4" font-size="7.6" text-anchor="middle" fill="#111" style="stroke:#111;stroke-width:0.2px" >5.6</text>
<path d="M159.2 243.5 H166.0" stroke="#8a8a8a" stroke-width="0.6" fill="none"/>
<path d="M158.8 243.5 L160.8 242.4 L160.8 244.6 Z" fill="#8a8a8a"/>
<text x="166.79999999999998" y="245.89999999999998" font-size="7.4" text-anchor="start" fill="#8a8a8a" style="stroke:#8a8a8a;stroke-width:0.12px" >G0</text>
<text x="184.6" y="245.89999999999998" font-size="7.6" text-anchor="start" fill="#111" style="stroke:#111;stroke-width:0.2px" >85.1</text>
<text x="141.4" y="250.0" font-size="7.7" text-anchor="end">10<tspan dy="-2.8" font-size="5.4">0</tspan></text>
<text x="141.4" y="235.8" font-size="7.7" text-anchor="end">10<tspan dy="-2.8" font-size="5.4">1</tspan></text>
<text x="141.4" y="221.6" font-size="7.7" text-anchor="end">10<tspan dy="-2.8" font-size="5.4">2</tspan></text>
<text x="141.4" y="207.5" font-size="7.7" text-anchor="end">10<tspan dy="-2.8" font-size="5.4">3</tspan></text>
<text x="141.4" y="193.3" font-size="7.7" text-anchor="end">10<tspan dy="-2.8" font-size="5.4">4</tspan></text>
<rect x="211.9" y="190.2" width="58.5" height="57.9" fill="#fff" stroke="#333" stroke-width="0.8"/>
<g stroke="#151515" stroke-linejoin="round"><path d="M227.2 228 C229.5 230 229.9 236 229.7 240 C229.5 245 227.5 247.4 225.5 247.4 C223 247.4 221.1 244.5 221.2 239 C221.3 233.5 224 229 227.2 228 Z" fill="#787878" stroke-width="0.60" transform="translate(0.00,0.00) scale(1)"/><path d="M227.2 228 C229.5 230 229.9 236 229.7 240 C229.5 245 227.5 247.4 225.5 247.4 C223 247.4 221.1 244.5 221.2 239 C221.3 233.5 224 229 227.2 228 Z" fill="#8a8a8a" stroke-width="0.73" transform="translate(40.61,43.11) scale(0.82)"/><path d="M227.2 228 C229.5 230 229.9 236 229.7 240 C229.5 245 227.5 247.4 225.5 247.4 C223 247.4 221.1 244.5 221.2 239 C221.3 233.5 224 229 227.2 228 Z" fill="#747474" stroke-width="0.94" transform="translate(81.22,86.22) scale(0.64)"/><path d="M227.2 228 C229.5 230 229.9 236 229.7 240 C229.5 245 227.5 247.4 225.5 247.4 C223 247.4 221.1 244.5 221.2 239 C221.3 233.5 224 229 227.2 228 Z" fill="#858585" stroke-width="1.30" transform="translate(121.82,129.33) scale(0.46)"/><path d="M227.2 228 C229.5 230 229.9 236 229.7 240 C229.5 245 227.5 247.4 225.5 247.4 C223 247.4 221.1 244.5 221.2 239 C221.3 233.5 224 229 227.2 228 Z" fill="#3a3a3a" stroke-width="2.14" transform="translate(162.43,172.44) scale(0.28)"/></g><g stroke="#151515" stroke-linejoin="round"><path d="M232.0 231.4 C232.3 229 234.8 226.4 237.5 225.7 C239.6 225.2 241.2 226.1 240.8 227.5 C240.4 228.8 238.2 229.4 236.6 230.0 C235 230.8 233.2 232.8 232.0 231.4 Z" fill="#6a6a6a" stroke-width="0.60" transform="translate(0.00,0.00) scale(1)"/><path d="M232.0 231.4 C232.3 229 234.8 226.4 237.5 225.7 C239.6 225.2 241.2 226.1 240.8 227.5 C240.4 228.8 238.2 229.4 236.6 230.0 C235 230.8 233.2 232.8 232.0 231.4 Z" fill="#8a8a8a" stroke-width="0.92" transform="translate(82.74,79.94) scale(0.65)"/><path d="M232.0 231.4 C232.3 229 234.8 226.4 237.5 225.7 C239.6 225.2 241.2 226.1 240.8 227.5 C240.4 228.8 238.2 229.4 236.6 230.0 C235 230.8 233.2 232.8 232.0 231.4 Z" fill="#333" stroke-width="1.71" transform="translate(153.66,148.46) scale(0.35)"/></g>
<path d="M230.0 190.2 V248.1 M211.9 234.4 H270.4" stroke="#7B90C2" stroke-width="1.1" fill="none"/>
<path d="M209.9 247.3 H211.9 M210.8 243.0 H211.9 M210.8 240.5 H211.9 M210.8 238.8 H211.9 M210.8 237.4 H211.9 M210.8 236.3 H211.9 M210.8 235.3 H211.9 M210.8 234.5 H211.9 M210.8 233.8 H211.9 M209.9 233.1 H211.9 M210.8 228.9 H211.9 M210.8 226.4 H211.9 M210.8 224.6 H211.9 M210.8 223.2 H211.9 M210.8 222.1 H211.9 M210.8 221.1 H211.9 M210.8 220.3 H211.9 M210.8 219.6 H211.9 M209.9 218.9 H211.9 M210.8 214.7 H211.9 M210.8 212.2 H211.9 M210.8 210.4 H211.9 M210.8 209.0 H211.9 M210.8 207.9 H211.9 M210.8 207.0 H211.9 M210.8 206.1 H211.9 M210.8 205.4 H211.9 M209.9 204.8 H211.9 M210.8 200.5 H211.9 M210.8 198.0 H211.9 M210.8 196.2 H211.9 M210.8 194.9 H211.9 M210.8 193.7 H211.9 M210.8 192.8 H211.9 M210.8 192.0 H211.9 M210.8 191.2 H211.9 M209.9 190.6 H211.9 M212.4 248.1 V250.1 M214.7 248.1 V249.4 M217.0 248.1 V249.4 M219.3 248.1 V249.4 M221.6 248.1 V249.4 M223.9 248.1 V250.1 M226.2 248.1 V249.4 M228.5 248.1 V249.4 M230.8 248.1 V249.4 M233.1 248.1 V249.4 M235.4 248.1 V250.1 M237.7 248.1 V249.4 M240.0 248.1 V249.4 M242.3 248.1 V249.4 M244.6 248.1 V249.4 M246.9 248.1 V250.1 M249.2 248.1 V249.4 M251.5 248.1 V249.4 M253.8 248.1 V249.4 M256.1 248.1 V249.4 M258.4 248.1 V250.1 M260.7 248.1 V249.4 M263.0 248.1 V249.4 M265.3 248.1 V249.4 M267.6 248.1 V249.4 M269.9 248.1 V250.1" stroke="#222" stroke-width="0.6" fill="none"/>
<text x="221.4" y="208.7" font-size="7.4" text-anchor="middle" fill="#8a8a8a" style="stroke:#8a8a8a;stroke-width:0.12px" >G1</text>
<text x="221.4" y="216.3" font-size="7.6" text-anchor="middle" fill="#111" style="stroke:#111;stroke-width:0.2px" >10.9</text>
<text x="249.6" y="208.7" font-size="7.4" text-anchor="middle" fill="#8a8a8a" style="stroke:#8a8a8a;stroke-width:0.12px" >S-G2M</text>
<text x="249.6" y="216.3" font-size="7.6" text-anchor="middle" fill="#111" style="stroke:#111;stroke-width:0.2px" >6.3</text>
<path d="M228.0 243.7 H234.8" stroke="#8a8a8a" stroke-width="0.6" fill="none"/>
<path d="M227.6 243.7 L229.6 242.6 L229.6 244.8 Z" fill="#8a8a8a"/>
<text x="235.6" y="246.1" font-size="7.4" text-anchor="start" fill="#8a8a8a" style="stroke:#8a8a8a;stroke-width:0.12px" >G0</text>
<text x="248.6" y="246.1" font-size="7.6" text-anchor="start" fill="#111" style="stroke:#111;stroke-width:0.2px" >82.3</text>
<rect x="145.2" y="269.3" width="58.9" height="57.7" fill="#fff" stroke="#333" stroke-width="0.8"/>
<g stroke="#151515" stroke-linejoin="round"><path d="M152.4 303 C152 297 155.5 294.3 159.5 294.6 C161.5 294.8 163 295.8 164 296.8 L170 292.6 C173.5 290.6 177.5 291.2 176.8 293.6 C176 296 172 298 166.5 300.8 L164.9 302 C164.2 307 161 310.6 157.8 310.5 C154.5 310.4 152.6 307.5 152.4 303 Z" fill="#787878" stroke-width="0.60" transform="translate(0.00,0.00) scale(1)"/><path d="M152.4 303 C152 297 155.5 294.3 159.5 294.6 C161.5 294.8 163 295.8 164 296.8 L170 292.6 C173.5 290.6 177.5 291.2 176.8 293.6 C176 296 172 298 166.5 300.8 L164.9 302 C164.2 307 161 310.6 157.8 310.5 C154.5 310.4 152.6 307.5 152.4 303 Z" fill="#8a8a8a" stroke-width="0.73" transform="translate(28.58,54.40) scale(0.82)"/><path d="M152.4 303 C152 297 155.5 294.3 159.5 294.6 C161.5 294.8 163 295.8 164 296.8 L170 292.6 C173.5 290.6 177.5 291.2 176.8 293.6 C176 296 172 298 166.5 300.8 L164.9 302 C164.2 307 161 310.6 157.8 310.5 C154.5 310.4 152.6 307.5 152.4 303 Z" fill="#747474" stroke-width="0.94" transform="translate(57.17,108.79) scale(0.64)"/><path d="M152.4 303 C152 297 155.5 294.3 159.5 294.6 C161.5 294.8 163 295.8 164 296.8 L170 292.6 C173.5 290.6 177.5 291.2 176.8 293.6 C176 296 172 298 166.5 300.8 L164.9 302 C164.2 307 161 310.6 157.8 310.5 C154.5 310.4 152.6 307.5 152.4 303 Z" fill="#858585" stroke-width="1.30" transform="translate(85.75,163.19) scale(0.46)"/><path d="M152.4 303 C152 297 155.5 294.3 159.5 294.6 C161.5 294.8 163 295.8 164 296.8 L170 292.6 C173.5 290.6 177.5 291.2 176.8 293.6 C176 296 172 298 166.5 300.8 L164.9 302 C164.2 307 161 310.6 157.8 310.5 C154.5 310.4 152.6 307.5 152.4 303 Z" fill="#3a3a3a" stroke-width="2.14" transform="translate(114.34,217.58) scale(0.28)"/></g><ellipse cx="171.0" cy="295.4" rx="2.4" ry="1.0" fill="#ddd" stroke="#111" stroke-width="0.5" transform="rotate(-25 171 295.4)"/>
<path d="M164.3 269.3 V327.0 M145.2 303.8 H204.1" stroke="#7B90C2" stroke-width="1.1" fill="none"/>
<path d="M143.2 326.2 H145.2 M144.1 321.9 H145.2 M144.1 319.5 H145.2 M144.1 317.7 H145.2 M144.1 316.3 H145.2 M144.1 315.2 H145.2 M144.1 314.3 H145.2 M144.1 313.4 H145.2 M144.1 312.7 H145.2 M143.2 312.1 H145.2 M144.1 307.8 H145.2 M144.1 305.3 H145.2 M144.1 303.6 H145.2 M144.1 302.2 H145.2 M144.1 301.1 H145.2 M144.1 300.1 H145.2 M144.1 299.3 H145.2 M144.1 298.6 H145.2 M143.2 297.9 H145.2 M144.1 293.7 H145.2 M144.1 291.2 H145.2 M144.1 289.4 H145.2 M144.1 288.1 H145.2 M144.1 287.0 H145.2 M144.1 286.0 H145.2 M144.1 285.2 H145.2 M144.1 284.5 H145.2 M143.2 283.8 H145.2 M144.1 279.6 H145.2 M144.1 277.1 H145.2 M144.1 275.3 H145.2 M144.1 274.0 H145.2 M144.1 272.8 H145.2 M144.1 271.9 H145.2 M144.1 271.1 H145.2 M144.1 270.3 H145.2 M143.2 269.7 H145.2 M145.7 327.0 V329.0 M148.0 327.0 V328.3 M150.3 327.0 V328.3 M152.6 327.0 V328.3 M155.0 327.0 V328.3 M157.3 327.0 V329.0 M159.6 327.0 V328.3 M161.9 327.0 V328.3 M164.2 327.0 V328.3 M166.5 327.0 V328.3 M168.9 327.0 V329.0 M171.2 327.0 V328.3 M173.5 327.0 V328.3 M175.8 327.0 V328.3 M178.1 327.0 V328.3 M180.4 327.0 V329.0 M182.8 327.0 V328.3 M185.1 327.0 V328.3 M187.4 327.0 V328.3 M189.7 327.0 V328.3 M192.0 327.0 V329.0 M194.3 327.0 V328.3 M196.7 327.0 V328.3 M199.0 327.0 V328.3 M201.3 327.0 V328.3 M203.6 327.0 V329.0" stroke="#222" stroke-width="0.6" fill="none"/>
<text x="155.0" y="279.9" font-size="7.4" text-anchor="middle" fill="#8a8a8a" style="stroke:#8a8a8a;stroke-width:0.12px" >G1</text>
<text x="155.0" y="289.2" font-size="7.6" text-anchor="middle" fill="#111" style="stroke:#111;stroke-width:0.2px" >65.1</text>
<text x="183.8" y="279.9" font-size="7.4" text-anchor="middle" fill="#8a8a8a" style="stroke:#8a8a8a;stroke-width:0.12px" >S-G2M</text>
<text x="183.8" y="289.2" font-size="7.6" text-anchor="middle" fill="#111" style="stroke:#111;stroke-width:0.2px" >18.5</text>
<path d="M161.6 317.5 H168.4" stroke="#8a8a8a" stroke-width="0.6" fill="none"/>
<path d="M161.2 317.5 L163.2 316.4 L163.2 318.6 Z" fill="#8a8a8a"/>
<text x="169.2" y="319.9" font-size="7.4" text-anchor="start" fill="#8a8a8a" style="stroke:#8a8a8a;stroke-width:0.12px" >G0</text>
<text x="182.5" y="319.9" font-size="7.6" text-anchor="start" fill="#111" style="stroke:#111;stroke-width:0.2px" >16.4</text>
<text x="141.4" y="328.9" font-size="7.7" text-anchor="end">10<tspan dy="-2.8" font-size="5.4">0</tspan></text>
<text x="141.4" y="314.8" font-size="7.7" text-anchor="end">10<tspan dy="-2.8" font-size="5.4">1</tspan></text>
<text x="141.4" y="300.6" font-size="7.7" text-anchor="end">10<tspan dy="-2.8" font-size="5.4">2</tspan></text>
<text x="141.4" y="286.5" font-size="7.7" text-anchor="end">10<tspan dy="-2.8" font-size="5.4">3</tspan></text>
<text x="141.4" y="272.4" font-size="7.7" text-anchor="end">10<tspan dy="-2.8" font-size="5.4">4</tspan></text>
<text transform="translate(148.3,336.6) rotate(-45)" font-size="8.0" text-anchor="end">0</text>
<text transform="translate(159.9,336.6) rotate(-45)" font-size="8.0" text-anchor="end">200</text>
<text transform="translate(171.5,336.6) rotate(-45)" font-size="8.0" text-anchor="end">400</text>
<text transform="translate(183.0,336.6) rotate(-45)" font-size="8.0" text-anchor="end">600</text>
<text transform="translate(194.6,336.6) rotate(-45)" font-size="8.0" text-anchor="end">800</text>
<text transform="translate(206.2,336.6) rotate(-45)" font-size="8.0" text-anchor="end">1000</text>
<rect x="211.8" y="269.5" width="58.2" height="57.5" fill="#fff" stroke="#333" stroke-width="0.8"/>
<g stroke="#151515" stroke-linejoin="round"><path d="M219.3 302 C219 296 224 294.2 231 293.8 L239.5 291.6 C244 290.6 245.6 293.4 242.8 296.2 L234.5 301.5 C231.5 306.5 228.4 313.6 224.5 313.6 C220.8 313.6 219.4 308 219.3 302 Z" fill="#787878" stroke-width="0.60" transform="translate(0.00,0.00) scale(1)"/><path d="M219.3 302 C219 296 224 294.2 231 293.8 L239.5 291.6 C244 290.6 245.6 293.4 242.8 296.2 L234.5 301.5 C231.5 306.5 228.4 313.6 224.5 313.6 C220.8 313.6 219.4 308 219.3 302 Z" fill="#8a8a8a" stroke-width="0.73" transform="translate(40.54,54.47) scale(0.82)"/><path d="M219.3 302 C219 296 224 294.2 231 293.8 L239.5 291.6 C244 290.6 245.6 293.4 242.8 296.2 L234.5 301.5 C231.5 306.5 228.4 313.6 224.5 313.6 C220.8 313.6 219.4 308 219.3 302 Z" fill="#747474" stroke-width="0.94" transform="translate(81.07,108.94) scale(0.64)"/><path d="M219.3 302 C219 296 224 294.2 231 293.8 L239.5 291.6 C244 290.6 245.6 293.4 242.8 296.2 L234.5 301.5 C231.5 306.5 228.4 313.6 224.5 313.6 C220.8 313.6 219.4 308 219.3 302 Z" fill="#858585" stroke-width="1.30" transform="translate(121.61,163.40) scale(0.46)"/><path d="M219.3 302 C219 296 224 294.2 231 293.8 L239.5 291.6 C244 290.6 245.6 293.4 242.8 296.2 L234.5 301.5 C231.5 306.5 228.4 313.6 224.5 313.6 C220.8 313.6 219.4 308 219.3 302 Z" fill="#3a3a3a" stroke-width="2.14" transform="translate(162.14,217.87) scale(0.28)"/></g><ellipse cx="237.0" cy="295.6" rx="2.6" ry="1.0" fill="#ccc" stroke="#111" stroke-width="0.5" transform="rotate(-22 237 295.6)"/>
<path d="M231.4 269.5 V327.0 M211.8 304.1 H270.0" stroke="#7B90C2" stroke-width="1.1" fill="none"/>
<path d="M209.8 326.2 H211.8 M210.70000000000002 322.0 H211.8 M210.70000000000002 319.5 H211.8 M210.70000000000002 317.7 H211.8 M210.70000000000002 316.4 H211.8 M210.70000000000002 315.2 H211.8 M210.70000000000002 314.3 H211.8 M210.70000000000002 313.5 H211.8 M210.70000000000002 312.8 H211.8 M209.8 312.1 H211.8 M210.70000000000002 307.9 H211.8 M210.70000000000002 305.4 H211.8 M210.70000000000002 303.7 H211.8 M210.70000000000002 302.3 H211.8 M210.70000000000002 301.2 H211.8 M210.70000000000002 300.2 H211.8 M210.70000000000002 299.4 H211.8 M210.70000000000002 298.7 H211.8 M209.8 298.1 H211.8 M210.70000000000002 293.8 H211.8 M210.70000000000002 291.3 H211.8 M210.70000000000002 289.6 H211.8 M210.70000000000002 288.2 H211.8 M210.70000000000002 287.1 H211.8 M210.70000000000002 286.2 H211.8 M210.70000000000002 285.3 H211.8 M210.70000000000002 284.6 H211.8 M209.8 284.0 H211.8 M210.70000000000002 279.7 H211.8 M210.70000000000002 277.3 H211.8 M210.70000000000002 275.5 H211.8 M210.70000000000002 274.1 H211.8 M210.70000000000002 273.0 H211.8 M210.70000000000002 272.1 H211.8 M210.70000000000002 271.3 H211.8 M210.70000000000002 270.5 H211.8 M209.8 269.9 H211.8 M212.3 327.0 V329.0 M214.6 327.0 V328.3 M216.9 327.0 V328.3 M219.2 327.0 V328.3 M221.5 327.0 V328.3 M223.7 327.0 V329.0 M226.0 327.0 V328.3 M228.3 327.0 V328.3 M230.6 327.0 V328.3 M232.9 327.0 V328.3 M235.2 327.0 V329.0 M237.5 327.0 V328.3 M239.8 327.0 V328.3 M242.0 327.0 V328.3 M244.3 327.0 V328.3 M246.6 327.0 V329.0 M248.9 327.0 V328.3 M251.2 327.0 V328.3 M253.5 327.0 V328.3 M255.8 327.0 V328.3 M258.1 327.0 V329.0 M260.3 327.0 V328.3 M262.6 327.0 V328.3 M264.9 327.0 V328.3 M267.2 327.0 V328.3 M269.5 327.0 V329.0" stroke="#222" stroke-width="0.6" fill="none"/>
<text x="221.4" y="280.1" font-size="7.4" text-anchor="middle" fill="#8a8a8a" style="stroke:#8a8a8a;stroke-width:0.12px" >G1</text>
<text x="221.4" y="289.6" font-size="7.6" text-anchor="middle" fill="#111" style="stroke:#111;stroke-width:0.2px" >53.3</text>
<text x="249.9" y="280.1" font-size="7.4" text-anchor="middle" fill="#8a8a8a" style="stroke:#8a8a8a;stroke-width:0.12px" >S-G2M</text>
<text x="249.9" y="289.6" font-size="7.6" text-anchor="middle" fill="#111" style="stroke:#111;stroke-width:0.2px" >18.0</text>
<path d="M227.2 317.7 H234.0" stroke="#8a8a8a" stroke-width="0.6" fill="none"/>
<path d="M226.8 317.7 L228.8 316.6 L228.8 318.8 Z" fill="#8a8a8a"/>
<text x="234.79999999999998" y="320.09999999999997" font-size="7.4" text-anchor="start" fill="#8a8a8a" style="stroke:#8a8a8a;stroke-width:0.12px" >G0</text>
<text x="248.5" y="320.09999999999997" font-size="7.6" text-anchor="start" fill="#111" style="stroke:#111;stroke-width:0.2px" >28.6</text>
<text transform="translate(214.9,336.6) rotate(-45)" font-size="8.0" text-anchor="end">0</text>
<text transform="translate(226.3,336.6) rotate(-45)" font-size="8.0" text-anchor="end">200</text>
<text transform="translate(237.8,336.6) rotate(-45)" font-size="8.0" text-anchor="end">400</text>
<text transform="translate(249.2,336.6) rotate(-45)" font-size="8.0" text-anchor="end">600</text>
<text transform="translate(260.7,336.6) rotate(-45)" font-size="8.0" text-anchor="end">800</text>
<text transform="translate(272.1,336.6) rotate(-45)" font-size="8.0" text-anchor="end">1000</text>
<text x="289.7" y="166.8" font-size="12.0" text-anchor="start" fill="#000" style="stroke:#000;stroke-width:0.35px" font-weight="bold" >E</text>
<text x="292.4" y="180.8" font-size="9.6" text-anchor="start" fill="#000" style="stroke:#000;stroke-width:0.12px" font-weight="bold" >i</text>
<text x="392.5" y="180.8" font-size="9.6" text-anchor="start" fill="#000" style="stroke:#000;stroke-width:0.12px" font-weight="bold" >ii</text>
<text x="350.6" y="180.8" font-size="9.3" text-anchor="middle" fill="#000" style="stroke:#000;stroke-width:0.12px" >Steady state</text>
<text x="454.6" y="180.8" font-size="9.3" text-anchor="middle" fill="#000" style="stroke:#000;stroke-width:0.12px" >BMT 36 hours</text>
<path d="M321.7 186.4 V305.0 H379.7" stroke="#000" stroke-width="1.15" fill="none"/>
<text x="315.8" y="307.8" font-size="7.9" text-anchor="end" fill="#000" style="stroke:#000;stroke-width:0.12px" >0</text>
<text x="315.8" y="286.1" font-size="7.9" text-anchor="end" fill="#000" style="stroke:#000;stroke-width:0.12px" >20</text>
<text x="315.8" y="264.40000000000003" font-size="7.9" text-anchor="end" fill="#000" style="stroke:#000;stroke-width:0.12px" >40</text>
<text x="315.8" y="242.70000000000002" font-size="7.9" text-anchor="end" fill="#000" style="stroke:#000;stroke-width:0.12px" >60</text>
<text x="315.8" y="221.0" font-size="7.9" text-anchor="end" fill="#000" style="stroke:#000;stroke-width:0.12px" >80</text>
<text x="315.8" y="199.3" font-size="7.9" text-anchor="end" fill="#000" style="stroke:#000;stroke-width:0.12px" >100</text>
<path d="M319.09999999999997 305.0 H321.7 M319.09999999999997 283.3 H321.7 M319.09999999999997 261.6 H321.7 M319.09999999999997 239.9 H321.7 M319.09999999999997 218.2 H321.7 M319.09999999999997 196.5 H321.7 M321.7 305.0 V307.4 M349.7 305.0 V307.4 M378.9 305.0 V307.4" stroke="#000" stroke-width="0.8" fill="none"/>
<rect x="332.3" y="196.5" width="6.9" height="6.3" fill="#ABC088"/>
<rect x="332.3" y="202.8" width="6.9" height="11.3" fill="#B0661D"/>
<rect x="332.3" y="214.1" width="6.9" height="90.9" fill="#525B72"/>
<rect x="360.8" y="196.5" width="6.7" height="6.9" fill="#ABC088"/>
<rect x="360.8" y="203.4" width="6.7" height="11.3" fill="#B0661D"/>
<rect x="360.8" y="214.7" width="6.7" height="90.3" fill="#525B72"/>
<path d="M339.2 196.9 L360.8 196.9" stroke="#444" stroke-width="0.8" fill="none"/>
<path d="M339.2 202.4 L360.8 203.6" stroke="#444" stroke-width="0.8" fill="none"/>
<path d="M339.2 214.2 L360.8 214.8" stroke="#444" stroke-width="0.8" fill="none"/>
<path d="M335.8 197.5 V196.2 M333.8 196.2 H337.8" stroke="#222" stroke-width="0.8" fill="none"/>
<path d="M335.8 203.2 V200.8 M333.8 200.8 H337.8" stroke="#222" stroke-width="0.8" fill="none"/>
<path d="M335.8 215.0 V212.6 M333.8 212.6 H337.8" stroke="#222" stroke-width="0.8" fill="none"/>
<path d="M364.1 197.2 V195.6 M362.1 195.6 H366.1" stroke="#222" stroke-width="0.8" fill="none"/>
<path d="M364.1 203.8 V201.6 M362.1 201.6 H366.1" stroke="#222" stroke-width="0.8" fill="none"/>
<path d="M364.1 215.4 V212.8 M362.1 212.8 H366.1" stroke="#222" stroke-width="0.8" fill="none"/>
<path d="M423.8 186.0 V305.2 H484.2" stroke="#000" stroke-width="1.15" fill="none"/>
<text x="417.90000000000003" y="308.0" font-size="7.9" text-anchor="end" fill="#000" style="stroke:#000;stroke-width:0.12px" >0</text>
<text x="417.90000000000003" y="286.3" font-size="7.9" text-anchor="end" fill="#000" style="stroke:#000;stroke-width:0.12px" >20</text>
<text x="417.90000000000003" y="264.6" font-size="7.9" text-anchor="end" fill="#000" style="stroke:#000;stroke-width:0.12px" >40</text>
<text x="417.90000000000003" y="242.9" font-size="7.9" text-anchor="end" fill="#000" style="stroke:#000;stroke-width:0.12px" >60</text>
<text x="417.90000000000003" y="221.2" font-size="7.9" text-anchor="end" fill="#000" style="stroke:#000;stroke-width:0.12px" >80</text>
<text x="417.90000000000003" y="199.5" font-size="7.9" text-anchor="end" fill="#000" style="stroke:#000;stroke-width:0.12px" >100</text>
<path d="M421.2 305.2 H423.8 M421.2 283.5 H423.8 M421.2 261.8 H423.8 M421.2 240.1 H423.8 M421.2 218.4 H423.8 M421.2 196.7 H423.8 M423.8 305.2 V307.59999999999997 M453.6 305.2 V307.59999999999997 M482.4 305.2 V307.59999999999997" stroke="#000" stroke-width="0.8" fill="none"/>
<rect x="434.7" y="196.7" width="7.1" height="25.8" fill="#ABC088"/>
<rect x="434.7" y="222.5" width="7.1" height="67.8" fill="#B0661D"/>
<rect x="434.7" y="290.3" width="7.1" height="14.9" fill="#525B72"/>
<rect x="464.2" y="196.7" width="6.9" height="22.8" fill="#ABC088"/>
<rect x="464.2" y="219.5" width="6.9" height="56.3" fill="#B0661D"/>
<rect x="464.2" y="275.8" width="6.9" height="29.4" fill="#525B72"/>
<path d="M441.8 196.7 L464.2 196.7" stroke="#444" stroke-width="0.8" fill="none"/>
<path d="M441.8 222.4 L464.2 219.8" stroke="#444" stroke-width="0.8" fill="none"/>
<path d="M441.8 290.4 L464.2 276.0" stroke="#444" stroke-width="0.8" fill="none"/>
<path d="M438.2 197.0 V189.2 M436.2 189.2 H440.2" stroke="#222" stroke-width="0.8" fill="none"/>
<path d="M438.2 222.4 V215.8 M436.2 215.8 H440.2" stroke="#222" stroke-width="0.8" fill="none"/>
<path d="M467.6 197.0 V191.6 M465.6 191.6 H469.6" stroke="#222" stroke-width="0.8" fill="none"/>
<path d="M467.6 219.8 V215.6 M465.6 215.6 H469.6" stroke="#222" stroke-width="0.8" fill="none"/>
<path d="M467.6 276.0 V274.2 M465.6 274.2 H469.6" stroke="#222" stroke-width="0.8" fill="none"/>
<text x="449.0" y="297.9" font-size="7" font-weight="bold" text-anchor="middle">*</text>
<text x="452.5" y="297.9" font-size="7" font-weight="bold" text-anchor="middle">*</text>
<text x="456.0" y="297.9" font-size="7" font-weight="bold" text-anchor="middle">*</text>
<text x="335.2" y="318.4" font-size="7.6" text-anchor="middle" fill="#000" style="stroke:#000;stroke-width:0.12px" >WT</text>
<text x="349.5" y="318.4" font-size="8.0" font-style="italic">Cebpb<tspan dy="-2.9" font-size="5.4" font-style="normal" fill="#333">-/-</tspan></text>
<text x="438.4" y="318.4" font-size="7.6" text-anchor="middle" fill="#000" style="stroke:#000;stroke-width:0.12px" >WT</text>
<text x="453.2" y="318.4" font-size="8.0" font-style="italic">Cebpb<tspan dy="-2.9" font-size="5.4" font-style="normal" fill="#333">-/-</tspan></text>
<text transform="translate(295.7,245.7) rotate(-90)" font-size="8.2" text-anchor="middle">(%)</text>
<text transform="translate(397.3,245.6) rotate(-90)" font-size="8.2" text-anchor="middle">(%)</text>
<rect x="482.8" y="221.8" width="3.9" height="3.8" fill="#ABC088"/>
<text x="489.8" y="226.4" font-size="7.6" text-anchor="start" fill="#000" style="stroke:#000;stroke-width:0.12px" >S-G2M</text>
<rect x="482.8" y="238.3" width="3.9" height="3.8" fill="#B0661D"/>
<text x="489.8" y="242.9" font-size="7.6" text-anchor="start" fill="#000" style="stroke:#000;stroke-width:0.12px" >G1</text>
<rect x="482.8" y="254.8" width="3.9" height="3.8" fill="#525B72"/>
<text x="489.8" y="259.40000000000003" font-size="7.6" text-anchor="start" fill="#000" style="stroke:#000;stroke-width:0.12px" >G0</text>
<path d="M0 0.5 H520 M0.5 0 V370 M519.3 0 V370 M0 369.3 H520" stroke="#000" stroke-width="1.3" fill="none"/>
</svg></body></html>
